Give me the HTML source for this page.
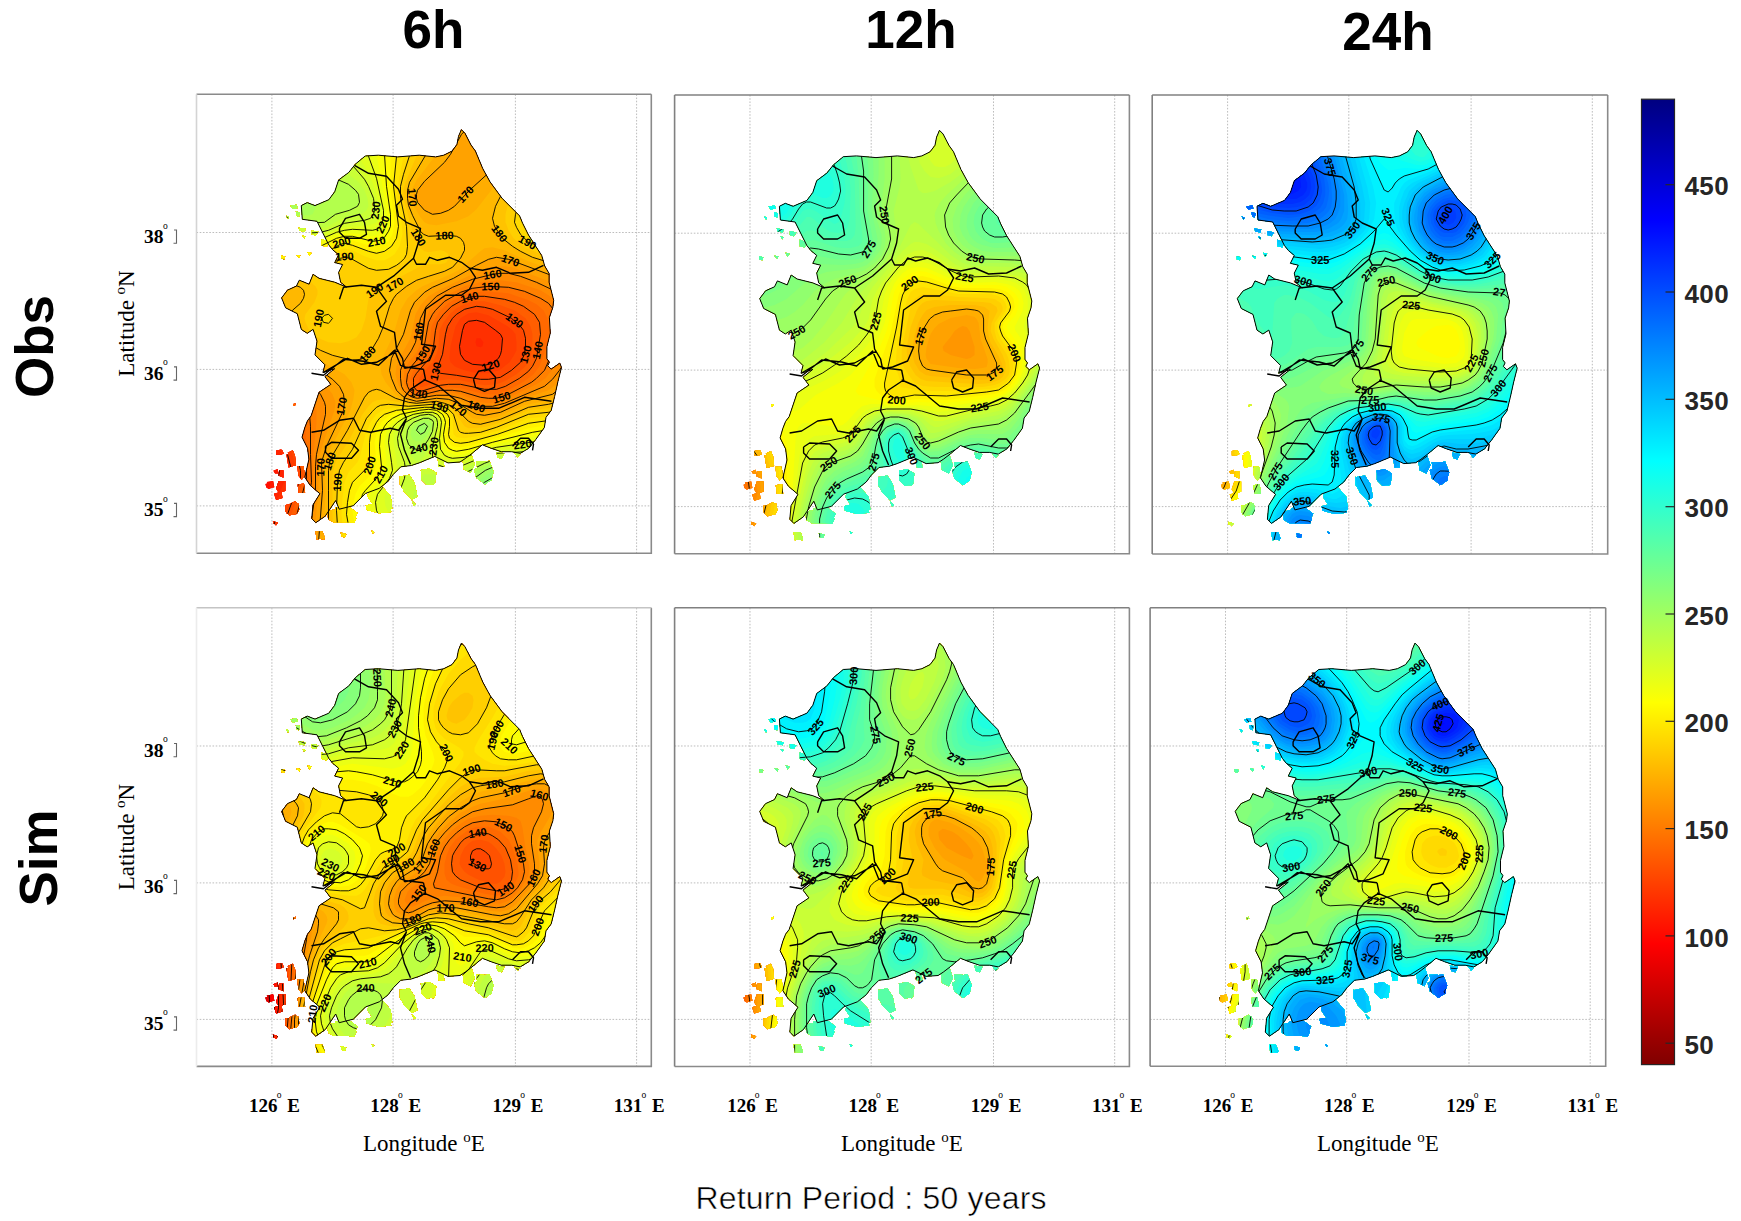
<!DOCTYPE html>
<html><head><meta charset="utf-8"><style>
html,body{margin:0;padding:0;background:#fff;width:1741px;height:1221px;overflow:hidden;position:relative}
</style></head><body>
<svg width="1741" height="1221" viewBox="0 0 1741 1221" style="position:absolute;left:0;top:0">
<defs>
<linearGradient id="cb" x1="0" y1="0" x2="0" y2="1">
<stop offset="0.0000" stop-color="#000080"/>
<stop offset="0.0312" stop-color="#00009f"/>
<stop offset="0.0625" stop-color="#0000bf"/>
<stop offset="0.0938" stop-color="#0000df"/>
<stop offset="0.1250" stop-color="#0000ff"/>
<stop offset="0.1562" stop-color="#0020ff"/>
<stop offset="0.1875" stop-color="#0040ff"/>
<stop offset="0.2188" stop-color="#0060ff"/>
<stop offset="0.2500" stop-color="#0080ff"/>
<stop offset="0.2812" stop-color="#009fff"/>
<stop offset="0.3125" stop-color="#00bfff"/>
<stop offset="0.3438" stop-color="#00dfff"/>
<stop offset="0.3750" stop-color="#00ffff"/>
<stop offset="0.4062" stop-color="#20ffdf"/>
<stop offset="0.4375" stop-color="#40ffbf"/>
<stop offset="0.4688" stop-color="#60ff9f"/>
<stop offset="0.5000" stop-color="#80ff80"/>
<stop offset="0.5312" stop-color="#9fff60"/>
<stop offset="0.5625" stop-color="#bfff40"/>
<stop offset="0.5938" stop-color="#dfff20"/>
<stop offset="0.6250" stop-color="#ffff00"/>
<stop offset="0.6562" stop-color="#ffdf00"/>
<stop offset="0.6875" stop-color="#ffbf00"/>
<stop offset="0.7188" stop-color="#ff9f00"/>
<stop offset="0.7500" stop-color="#ff8000"/>
<stop offset="0.7812" stop-color="#ff6000"/>
<stop offset="0.8125" stop-color="#ff4000"/>
<stop offset="0.8438" stop-color="#ff2000"/>
<stop offset="0.8750" stop-color="#ff0000"/>
<stop offset="0.9062" stop-color="#df0000"/>
<stop offset="0.9375" stop-color="#bf0000"/>
<stop offset="0.9688" stop-color="#9f0000"/>
<stop offset="1.0000" stop-color="#800000"/>
</linearGradient>
<clipPath id="kc"><path d="M264.9,35.3 L268.5,39.0 L274.5,50.7 L278.9,56.7 L286.3,74.4 L293.6,87.7 L305.5,103.9 L323.1,121.6 L326.1,128.9 L332.0,140.7 L345.3,161.4 L348.2,171.7 L352.6,179.1 L352.6,187.9 L357.2,206.0 L356.4,212.9 L352.9,223.2 L353.8,238.7 L350.4,252.5 L350.4,264.5 L352.9,267.9 L351.2,271.4 L354.7,274.8 L363.3,268.8 L365.0,273.1 L361.5,286.9 L358.1,302.3 L354.7,316.1 L349.5,323.0 L347.8,333.3 L339.2,345.3 L332.3,353.9 L323.7,359.1 L315.1,357.4 L304.8,357.4 L294.5,353.9 L285.9,350.5 L275.5,359.1 L268.7,364.3 L263.5,367.7 L251.5,368.6 L238.3,362.1 L222.6,368.6 L214.8,371.2 L204.3,372.5 L196.8,380.0 L191.6,387.0 L182.8,394.0 L168.9,399.2 L156.7,411.4 L142.7,414.9 L139.2,406.2 L128.7,421.9 L119.3,428.4 L115.2,424.3 L116.5,410.5 L123.4,399.4 L113.8,391.2 L108.3,382.9 L112.4,365.0 L111.0,353.9 L105.5,342.9 L108.3,333.3 L111.0,326.4 L114.6,321.6 L122.5,298.0 L134.3,290.1 L128.4,282.3 L138.2,274.4 L126.4,278.3 L128.4,270.5 L118.5,260.6 L120.5,246.9 L116.6,235.1 L110.7,239.0 L104.8,235.1 L100.8,219.4 L89.1,213.5 L85.1,203.6 L91.0,195.8 L99.9,191.8 L102.8,185.9 L112.6,189.9 L116.6,180.0 L122.5,184.0 L138.2,187.9 L150.0,192.8 L144.1,187.9 L142.1,178.1 L146.1,170.2 L138.2,168.3 L142.1,160.4 L136.2,155.5 L132.3,150.6 L126.4,138.8 L120.5,127.0 L105.8,125.0 L104.8,111.3 L110.7,108.3 L118.5,111.3 L132.3,105.4 L138.2,97.5 L142.1,85.7 L152.3,78.1 L158.8,69.9 L168.7,61.7 L181.8,60.9 L201.4,62.6 L222.7,60.9 L239.1,62.6 L247.3,60.9 L255.5,56.8 L260.4,50.3 L262.0,42.1ZM89.1,415.5 L93.4,409.5 L98.6,406.9 L102.0,410.3 L102.8,415.5 L100.3,419.8 L93.4,420.6 L90.0,418.9ZM68.9,389.7 L74.0,388.0 L75.7,393.1 L72.3,394.8 L69.8,393.1ZM76.9,376.5 L81.2,374.8 L82.0,379.1 L78.6,379.1ZM81.3,358.2 L85.6,355.6 L87.3,359.1 L83.9,360.8ZM91.2,358.5 L96.3,355.9 L98.0,360.2 L93.8,361.9ZM100.9,371.7 L106.9,371.7 L108.6,381.1 L105.2,385.4 L101.8,381.1ZM82.1,386.6 L88.9,386.6 L88.9,396.8 L82.1,398.5 L79.5,394.3ZM76.5,426.8 L81.7,428.5 L79.9,430.2 L76.5,429.4ZM26.6,395.1 L30.0,395.9 L29.1,398.5 L26.9,398.5ZM119.0,437.7 L126.8,438.7 L127.9,445.3 L120.1,444.2ZM144.6,438.6 L149.0,440.9 L147.9,443.1 L144.6,442.0ZM180.3,452.2 L182.4,453.3 L181.3,455.5ZM169.3,411.3 L178.1,409.0 L184.8,414.6 L193.6,413.4 L194.7,417.8 L182.5,419.0 L170.4,415.7ZM130.6,417.3 L137.2,415.1 L141.6,421.7 L152.6,419.5 L159.2,425.0 L150.4,428.3 L137.2,428.3 L131.7,425.0ZM203.4,381.7 L211.7,388.0 L218.0,396.4 L215.9,400.6 L207.5,396.4 L203.4,390.1ZM224.3,375.7 L232.7,377.8 L239.0,384.0 L236.9,390.4 L228.5,388.3 L225.3,382.0ZM277.5,375.1 L288.1,369.8 L296.4,375.1 L295.3,385.6 L288.1,389.7 L279.7,383.4ZM215.3,406.1 L219.5,410.2 L217.4,411.4ZM138.9,419.4 L149.4,417.3 L159.9,423.6 L157.8,428.8 L145.3,427.8ZM144.7,438.6 L149.8,439.7 L148.8,442.8 L145.7,441.7ZM279.4,366.9 L287.7,366.9 L295.9,376.5 L294.5,383.4 L287.7,390.3 L282.1,380.7ZM266.1,365.7 L272.9,367.0 L271.6,376.6 L267.4,375.3ZM94.0,111.5 L100.1,110.5 L101.2,113.6 L96.1,114.6ZM99.4,117.3 L103.5,118.3 L102.5,122.4 L99.9,121.4ZM89.4,121.5 L92.5,122.5 L91.5,124.6ZM102.1,133.4 L109.1,134.4 L108.1,137.5 L103.1,136.5ZM115.3,136.1 L121.8,137.4 L119.2,141.3 L115.3,140.1ZM105.8,141.2 L108.9,142.2 L107.9,144.3ZM84.6,161.3 L88.7,162.3 L87.6,165.3 L84.6,164.3ZM99.7,160.7 L103.8,161.2 L102.8,163.8ZM111.0,157.8 L115.0,158.8 L113.0,161.8ZM125.2,144.7 L131.7,147.3 L130.4,152.6 L125.2,151.2ZM108.9,113.5 L117.0,115.6 L116.0,120.6 L110.0,121.7ZM49.8,121.4 L51.4,122.0 L50.8,123.6 L49.5,123.3ZM96.4,309.9 L98.8,309.0 L99.1,310.6 L96.7,311.8ZM224.7,375.6 L232.9,374.2 L239.8,378.4 L238.4,389.4 L230.2,390.8 L224.7,385.3ZM286.1,367.8 L292.9,366.5 L297.1,377.5 L294.4,385.8 L288.9,389.9 L284.7,380.2ZM204.4,382.1 L212.7,380.5 L218.1,388.7 L220.9,402.5 L215.4,405.3 L207.2,397.0ZM173.6,393.8 L184.6,391.0 L194.2,402.0 L195.7,414.4 L187.4,415.8 L176.3,410.3 L170.8,402.0ZM139.1,413.2 L150.1,410.5 L161.1,418.8 L158.4,424.3 L145.9,425.6 L136.3,421.5ZM241.0,363.0 L246.5,361.6 L247.8,372.6 L242.3,372.6ZM267.3,363.3 L274.2,357.8 L278.3,370.2 L274.2,378.5 L268.7,375.7ZM299.7,357.6 L308.0,358.9 L305.2,364.4 L301.1,363.1ZM316.9,357.4 L323.8,360.1 L321.0,362.9ZM118.9,436.9 L125.8,436.9 L128.5,443.8 L120.3,445.2ZM144.2,438.3 L149.8,439.6 L148.4,442.4 L145.0,441.7ZM175.0,436.3 L177.8,437.7 L176.4,439.1ZM180.1,451.9 L182.9,453.3 L181.5,455.3ZM79.6,356.1 L85.0,355.1 L83.9,360.4 L79.6,360.4ZM88.8,410.8 L101.6,408.6 L102.7,415.0 L93.1,421.4 L88.8,417.1ZM70.3,387.6 L76.6,386.6 L77.8,393.0 L72.4,394.0ZM77.5,399.4 L85.0,397.2 L86.0,403.7 L79.6,405.8ZM89.9,360.3 L98.4,360.3 L99.5,371.0 L92.0,373.1ZM82.7,375.9 L87.0,375.9 L87.0,383.4 L81.7,381.2ZM101.1,390.2 L107.5,389.1 L108.6,398.7 L102.2,398.7ZM76.2,426.9 L80.5,429.1 L79.5,431.2Z"/></clipPath>
</defs>
<text x="433.5" y="48.3" text-anchor="middle" style="font-family:&quot;Liberation Sans&quot;,sans-serif;font-weight:bold;font-size:53px">6h</text>
<text x="911" y="47.8" text-anchor="middle" style="font-family:&quot;Liberation Sans&quot;,sans-serif;font-weight:bold;font-size:53px">12h</text>
<text x="1388" y="50.1" text-anchor="middle" style="font-family:&quot;Liberation Sans&quot;,sans-serif;font-weight:bold;font-size:53px">24h</text>
<text transform="translate(52.8,346.5) rotate(-90)" text-anchor="middle" style="font-family:&quot;Liberation Sans&quot;,sans-serif;font-weight:bold;font-size:53px">Obs</text>
<text transform="translate(56.8,858) rotate(-90)" text-anchor="middle" style="font-family:&quot;Liberation Sans&quot;,sans-serif;font-weight:bold;font-size:53px">Sim</text>
<g transform="translate(196.5,94.3)">
<line x1="75.4" y1="0" x2="75.4" y2="458.99999999999994" stroke="#bdbdbd" stroke-width="1" stroke-dasharray="1.6,1.6"/>
<line x1="196.6" y1="0" x2="196.6" y2="458.99999999999994" stroke="#bdbdbd" stroke-width="1" stroke-dasharray="1.6,1.6"/>
<line x1="318.9" y1="0" x2="318.9" y2="458.99999999999994" stroke="#bdbdbd" stroke-width="1" stroke-dasharray="1.6,1.6"/>
<line x1="440.1" y1="0" x2="440.1" y2="458.99999999999994" stroke="#bdbdbd" stroke-width="1" stroke-dasharray="1.6,1.6"/>
<line x1="0" y1="138.2" x2="454.79999999999995" y2="138.2" stroke="#bdbdbd" stroke-width="1" stroke-dasharray="1.6,1.6"/>
<line x1="0" y1="275.1" x2="454.79999999999995" y2="275.1" stroke="#bdbdbd" stroke-width="1" stroke-dasharray="1.6,1.6"/>
<line x1="0" y1="411.6" x2="454.79999999999995" y2="411.6" stroke="#bdbdbd" stroke-width="1" stroke-dasharray="1.6,1.6"/>
<path d="M0 458.99999999999994H454.79999999999995V0" fill="none" stroke="#8a8a8a" stroke-width="1.6"/>
<path d="M0 0H454.79999999999995" fill="none" stroke="#8a8a8a" stroke-width="1.6"/>
<path d="M0 0V458.99999999999994" fill="none" stroke="#d4d4d4" stroke-width="1.6"/>
<g clip-path="url(#kc)">
<rect x="60" y="20" width="330" height="430" fill="#ff0300"/>
<path d="M60 20l328 0l0 428l-328 0l0-41l5-15l2-12l-2-12l-5-11l0-337z" fill="#ff0e00"/>
<path d="M60 20l328 0l0 428l-328 0l0-22l13-34l2-8l0-8l-1-8l-3-8l-11-17l0-323z" fill="#ff1a00"/>
<path d="M60 20l328 0l0 428l-328 0l0-3l5-13l16-44l2-12l-1-8l-6-13l-8-13l-8-10l0-312z" fill="#ff2500"/>
<path d="M60 20l328 0l0 428l-323 0l10-28l14-36l1-8l-3-12l-7-16l-8-12l-12-14l0-302zM280 244l-1 4l1 4l4 1l2-1l1-4l-3-4l-4 0z" fill="#ff3000"/>
<path d="M60 20l328 0l0 428l-316 0l9-28l12-32l3-8l-1-8l-3-8l-8-20l-10-16l-14-16l0-292zM272 227l-4 3l-2 6l-3 16l1 8l4 6l8 4l12 1l8-2l6-5l2-4l1-4l1-12l-2-4l-5-4l-11-8l-8-2l-8 1z" fill="#ff3c00"/>
<path d="M60 20l328 0l0 428l-311 0l9-28l12-32l2-8l0-5l-4-14l-10-25l-10-16l-16-17l0-283zM272 219l-8 5l-5 8l-5 20l-1 12l1 4l4 4l2 1l8 3l12 3l12 0l11-3l10-8l5-8l2-4l0-8l-1-8l-3-4l-5-4l-19-11l-12-3l-8 1z" fill="#ff4700"/>
<path d="M60 20l328 0l0 428l-305 0l7-24l13-36l1-8l-8-34l-7-18l-11-16l-18-17l0-275zM268 215l-8 5l-4 4l-5 8l-2 8l-3 20l-6 16l4 3l16 2l24 4l8 0l12-2l11-7l9-8l4-8l1-8l0-8l-2-8l-3-4l-9-8l-19-9l-8-2l-8-1l-12 3z" fill="#ff5200"/>
<path d="M60 20l328 0l0 428l-300 0l7-28l11-32l1-8l-7-38l-6-18l-5-8l-6-8l-23-22l0-266zM276 207l-8 3l-8 4l-7 6l-6 8l-4 8l-1 16l-2 8l-4 8l-11 12l-2 4l-1 4l2 5l4-1l16-6l8-1l12 1l24 5l12-1l8-3l12-7l8-7l4-5l3-8l1-12l0-8l-2-8l-5-8l-11-8l-14-5l-16-4l-12 0z" fill="#ff5e00"/>
<path d="M60 20l328 0l0 428l-295 0l6-24l9-32l2-8l0-8l-6-40l-5-16l-5-8l-6-8l-12-12l-16-14l0-258zM272 203l-8 4l-9 5l-8 8l-6 8l-2 8l-2 16l-2 8l-3 5l-12 14l-3 5l0 4l0 4l3 4l4 1l4-1l16-5l8-1l12 0l24 5l12 0l9-3l14-8l9-7l4-5l4-8l4-24l-1-12l-5-8l-11-8l-9-4l-10-3l-20-3l-8 0l-8 1z" fill="#ff6900"/>
<path d="M60 20l328 0l0 428l-290 0l12-52l2-12l-3-48l-2-12l-4-12l-9-12l-34-31l0-249zM272 199l-12 5l-8 5l-8 7l-5 8l-4 8l-2 20l-3 8l-13 16l-3 8l0 8l2 4l4 3l4 0l16-4l12-2l12 1l24 6l12 0l11-4l17-9l9-7l6-8l3-8l4-12l3-16l-2-12l-4-8l-7-6l-8-4l-20-7l-12-1l-12-1l-16 2z" fill="#ff7400"/>
<path d="M60 20l328 0l0 428l-285 0l12-60l-1-28l0-28l-1-12l-4-12l-6-8l-12-12l-31-28l0-240zM292 192l-16 2l-12 4l-16 9l-9 9l-3 4l-4 8l-5 28l-2 4l-10 12l-4 8l-1 8l1 4l2 4l3 3l4 2l4 0l20-5l12 0l8 1l20 6l8 1l8 0l12-4l23-12l5-4l8-8l7-16l6-20l0-8l-1-8l-4-10l-4-5l-8-5l-16-7l-16-4l-20-1z" fill="#ff8000"/>
<path d="M60 20l328 0l0 428l-280 0l9-56l0-32l3-32l0-12l-2-8l-8-12l-50-46l0-230zM284 188l-16 4l-16 8l-12 8l-7 8l-5 12l-5 24l-3 6l-8 10l-4 8l-1 8l1 8l2 4l4 4l6 2l4 1l16-4l12-1l12 2l20 8l8 1l8-1l11-4l29-14l9-6l6-8l10-20l4-12l1-8l-1-8l-1-8l-4-8l-3-4l-9-7l-8-5l-24-8l-16-2l-20 2z" fill="#ff8b00"/>
<path d="M60 20l328 0l0 428l-276 0l7-52l0-24l1-12l8-36l1-12l-3-8l-6-9l-40-35l-20-21l0-219zM296 180l-20 5l-20 8l-16 9l-10 10l-6 12l-5 24l-4 8l-8 12l-3 8l0 8l1 8l2 4l4 4l5 3l5 1l19-3l12 0l12 3l20 8l12 0l12-3l40-17l8-7l7-9l5-8l5-12l4-16l1-8l-1-8l-2-8l-5-8l-6-7l-7-5l-17-8l-16-6l-12-3l-8 0l-8 1z" fill="#ff9600"/>
<path d="M60 20l328 0l0 428l-271 0l5-52l0-24l0-8l5-16l11-32l1-8l-3-8l-6-8l-42-34l-10-10l-18-22l0-206zM300 172l-8 1l-12 5l-36 17l-12 7l-8 9l-5 9l-5 24l-11 20l-3 8l-1 8l2 8l3 8l4 5l6 3l6 1l20-2l12 0l12 4l16 8l8 2l8-1l12-3l20-9l24-8l8-6l9-10l5-8l6-12l4-12l2-8l-1-16l-2-8l-4-8l-6-8l-5-4l-13-8l-39-15l-8-1l-8 0z" fill="#ffa200"/>
<path d="M60 20l328 0l0 188l-5-8l-7-7l-7-5l-9-5l-48-18l-12-2l-8 2l-12 6l-23 13l-21 9l-8 5l-6 6l-4 4l-4 8l-7 24l-12 24l-2 12l2 8l5 12l4 4l5 4l11 3l20-3l12 1l8 3l16 10l4 2l8 1l16-3l24-11l28-7l10-8l8-8l8-12l6-11l0 187l-266 0l4-52l-1-28l5-16l17-36l1-4l0-8l-2-8l-6-8l-10-8l-26-18l-12-10l-10-12l-14-20l-8-8l0-192zM276 31l-4 2l-7 7l-11 20l-6 8l-20 19l-7 9l-1 4l0 4l1 4l7 8l4 2l4 2l8-1l8-3l6-4l15-16l22-20l5-8l3-8l0-8l-1-8l-3-8l-4-4l-7-3l-4-1l-8 3z" fill="#ffad00"/>
<path d="M60 20l199 0l-7 13l-12 27l-20 26l-4 8l-2 6l0 4l2 6l8 13l4 5l4 2l8 1l20-4l12-5l8-7l28-36l7-11l5-16l1-16l-1-8l-2-8l70 0l0 174l-8-7l-12-7l-36-13l-24-11l-12-3l-8 1l-4 3l-22 19l-10 5l-26 11l-6 4l-9 8l-7 12l-7 24l-11 24l-2 8l1 8l4 8l10 12l6 4l11 4l8 0l16-2l12 2l10 4l14 12l8 1l16-2l28-12l24-5l8-3l8-5l7-6l13-16l0 172l-261 0l2-52l-1-20l1-8l3-10l22-42l3-12l1-8l-3-8l-7-8l-32-18l-8-6l-9-8l-7-8l-5-8l-4-8l-5-16l-5-4l-13-5l0-179z" fill="#ffb800"/>
<path d="M60 20l184 0l-12 36l-19 32l-2 8l0 8l1 7l4 10l8 16l3 3l5 2l20-1l8 1l4 2l3 4l1 4l0 4l-4 8l-8 9l-8 4l-16 5l-12 4l-10 6l-10 8l-3 4l-4 8l-8 24l-5 11l-8 12l-4 4l-4 2l-4 1l-8-1l-12-3l-12-4l-16-9l-9-9l-7-12l-1-8l1-4l8-7l3-5l1-4l-1-4l-3-3l-8-3l-20 1l-16-2l0-169zM338 20l50 0l0 163l-16-9l-36-11l-12-6l-8-5l-10-8l-8-12l-2-8l3-12l6-12l17-24l10-20l5-20l1-16zM387 288l1-1l0 161l-256 0l0-52l0-20l1-8l3-7l15-25l17-33l4-5l4-2l4-1l4 1l15 8l13 4l8 1l20-2l8 2l8 3l4 3l12 12l4 2l8 1l20-5l28-12l20-3l8-2l14-8l13-12z" fill="#ffc300"/>
<path d="M60 20l172 0l-8 32l-15 36l-2 8l0 8l11 40l2 5l4 5l4 3l4 1l12-2l4 1l4 3l0 4l-2 4l-2 1l-4 1l-12 0l-8 2l-46 24l-4 4l-2 4l-3 20l-4 12l-5 7l-8 4l-8 2l-12-1l-12-5l-8-8l-3-7l-1-4l1-4l9-12l3-8l0-4l-2-4l-5-4l-6-3l-8-2l-28-1l-12-1l0-161zM355 20l33 0l0 153l-16-7l-32-8l-12-5l-11-9l-5-8l-3-8l0-8l3-12l5-8l20-28l9-16l5-16l4-20zM388 296l0 152l-251 0l-1-28l0-40l2-8l2-6l12-19l14-27l6-8l4-4l4-2l8-1l24 5l8 0l16-1l8 0l8 3l5 4l11 16l4 2l8 0l12-2l12-4l28-12l20-2l12-3l12-6l12-9z" fill="#ffcf00"/>
<path d="M60 20l161 0l-5 32l-9 28l-3 12l0 12l6 28l1 20l-1 8l-2 4l-4 4l-4 3l-8 4l-12 1l-8-2l-18-10l-6-1l-4 1l-13 12l-7 4l-24-3l-28-1l-12-2l0-154zM372 20l16 0l0 143l-16-6l-28-5l-12-4l-8-8l-4-7l-2-5l1-8l4-12l25-32l12-20l7-16l5-20zM125 224l3-3l4-1l4 4l-3 4l-1 1l-5-1l-2-4zM387 304l1-1l0 145l-246 0l-2-32l1-28l2-12l4-8l9-13l14-31l6-7l4-4l4-2l8-1l20 2l24-2l8 1l8 4l5 5l5 16l2 2l4 1l4 0l12-1l16-5l32-13l20-2l12-2l12-5l11-7z" fill="#ffda00"/>
<path d="M60 20l151 0l-2 32l-8 40l0 12l4 24l1 12l-3 12l-5 8l-6 4l-4 2l-8 0l-12-4l-12-6l-8-2l-6 2l-18 13l-8 2l-32 0l-24-4l0-147zM387 28l1-3l0 126l-16-4l-24-3l-8-3l-4-2l-4-3l-3-8l1-8l4-8l27-32l11-16l8-16l7-20zM227 312l13 0l4 1l6 3l4 4l2 4l1 16l3 3l8 1l12-2l23-6l29-12l24-2l12-3l8-3l12-6l0 138l-240 0l-3-28l1-16l2-16l4-10l9-10l2-4l6-24l5-12l6-8l8-5l8-1l31-2z" fill="#ffe500"/>
<path d="M60 20l141 0l0 32l-4 40l5 40l-2 12l-5 8l-7 5l-8 2l-8-2l-16-6l-8-2l-4 1l-4 2l-16 10l-8 3l-8 1l-24-1l-24-4l0-141zM387 72l1-2l0 66l-29-8l-6-4l0-4l4-8l19-24l11-16zM200 316l32-3l8 0l4 2l7 5l2 4l0 8l-1 8l1 4l5 4l6 1l8-1l29-8l31-11l36-5l11-4l9-4l0 132l-233 0l-5-28l1-12l2-12l3-8l16-16l1-4l0-16l1-8l2-8l4-8l3-4l5-4l12-4z" fill="#fff100"/>
<path d="M60 20l130 0l4 36l0 40l4 32l-2 12l-4 7l-4 3l-8 2l-8-1l-20-6l-8 1l-20 11l-8 3l-8 1l-12 0l-12-1l-12-2l-12-3l0-135zM215 316l17-2l8 1l4 1l4 4l2 4l1 8l-2 8l1 4l2 4l4 4l8 1l12-2l56-17l36-6l20-6l0 126l-226 0l-5-24l-1-8l1-8l2-8l4-8l12-12l3-4l2-8l-2-20l3-12l4-8l7-6l8-3l15-3z" fill="#fffc00"/>
<path d="M60 20l119 0l9 40l2 32l4 28l0 12l-2 5l-4 6l-4 3l-8 1l-20-5l-8 0l-8 2l-20 10l-8 2l-8 1l-12-1l-12-2l-20-6l0-128zM223 316l13-1l4 1l6 4l2 4l1 4l-2 12l1 8l4 6l4 2l4 1l12-2l24-7l40-10l36-6l16-5l0 121l-218 0l-6-24l-1-8l1-8l2-8l3-4l11-12l3-4l2-4l0-8l-2-20l3-12l5-8l5-4l8-4l19-4z" fill="#f7ff08"/>
<path d="M60 20l107 0l13 40l9 48l2 16l-1 8l-3 4l-5 4l-6 2l-20-3l-8 0l-8 2l-20 9l-12 2l-12 0l-12-2l-12-3l-12-5l0-122zM211 320l21-4l8 2l3 2l3 4l1 4l-2 16l1 8l2 3l4 3l8 3l8-1l32-10l40-8l28-4l20-5l0 115l-209 0l-7-28l-1-8l1-8l4-8l11-12l3-8l0-8l-2-20l2-12l6-8l5-4l10-4z" fill="#ebff14"/>
<path d="M60 20l93 0l19 42l8 22l7 32l0 8l-3 8l-4 3l-4 1l-20-1l-8 1l-8 2l-16 7l-16 3l-12-1l-12-2l-12-4l-12-6l0-115zM217 320l15-2l4 0l5 2l3 4l1 4l-2 16l1 11l4 6l4 2l4 1l12-1l20-7l12-3l68-10l20-5l0 110l-198 0l-2-12l-8-20l-1-8l2-8l12-16l3-8l-1-8l-3-20l1-8l4-8l4-4l6-4l10-4z" fill="#e0ff1f"/>
<path d="M60 20l76 0l32 52l8 16l5 16l2 12l-1 8l-2 4l-4 2l-4 1l-24 2l-24 9l-16 2l-12-1l-12-3l-12-6l-12-7l0-107zM223 320l9-1l4 0l6 5l1 4l0 4l-3 16l0 8l1 4l3 4l4 3l4 1l12 0l24-9l12-3l28-2l44-7l16-4l0 105l-188 0l0-16l-2-4l-9-16l-1-8l1-4l9-12l3-8l0-8l-4-24l0-8l4-8l4-4l7-4l11-4z" fill="#d5ff2a"/>
<path d="M60 20l51 0l5 4l12 13l22 27l18 21l6 11l4 12l0 8l-2 6l-4 3l-4 1l-16 2l-8 2l-16 7l-8 2l-12 0l-12-1l-12-4l-11-6l-10-8l-3-3l0-97zM216 324l8-3l8-1l4 1l4 3l1 4l0 4l-5 20l0 10l0 2l4 6l8 3l8 1l8-2l24-10l12-3l36-2l32-4l20-4l0 99l-179 0l0-12l0-8l-8-20l0-4l1-4l6-16l1-8l-1-8l-6-16l-1-8l2-8l2-4l4-4l7-4z" fill="#c9ff36"/>
<path d="M75 36l9-1l12 2l8 4l12 8l30 27l14 10l4 4l4 6l3 8l1 8l-2 4l-2 2l-4 2l-20 5l-12 7l-8 2l-8 1l-12-1l-9-2l-9-4l-12-8l-7-8l-7-10l0-55l7-7l8-4zM221 324l11-2l6 2l1 4l0 4l-3 11l-8 18l-4 5l-4 1l-8-7l-3-4l-2-4l-2-8l2-8l2-4l4-4l8-4zM379 356l9-2l0 94l-171 0l1-16l-2-28l4-14l4-6l4-4l16 0l12-1l12-4l20-10l12-3l36-1l43-5z" fill="#beff41"/>
<path d="M81 64l7-2l12 1l12 6l24 14l16 7l7 6l3 4l1 8l-2 4l-8 4l-14 4l-11 8l-20 1l-8-2l-8-3l-6-4l-8-8l-5-8l-3-12l-1-8l3-10l4-6l5-4zM227 324l5 0l4 2l1 2l-1 9l-4 8l-4 6l-4 3l-4 1l-4-1l-4-4l-2-6l1-8l2-4l4-4l10-4zM387 360l1 0l0 88l-163 0l2-32l1-8l4-9l3-3l5-4l24-11l24-12l8-3l12-1l40-1l39-4z" fill="#b3ff4c"/>
<path d="M92 88l4-1l8 0l12 4l6 5l1 4l-1 4l-4 12l-2 4l-4 1l-8 0l-8-4l-5-5l-3-4l-2-8l2-8l4-4zM222 328l6-2l4 0l2 2l1 4l-3 7l-4 5l-4 3l-4 0l-4-2l-2-5l1-4l2-4l5-4zM368 368l20-2l0 82l-156 0l4-28l2-8l4-8l8-8l31-20l11-5l8-2l40 0l28-1z" fill="#a7ff58"/>
<path d="M222 332l6-3l3 3l-3 6l-4 2l-4-4l2-4zM382 372l6-1l0 77l-148 0l4-24l2-8l4-8l11-12l28-20l7-3l4 0l44 1l38-2z" fill="#9cff63"/>
<path d="M291 380l5-2l8-1l48 2l36-2l0 71l-141 0l4-20l6-16l6-8l7-8l10-8l11-8z" fill="#91ff6e"/>
<path d="M295 384l5-2l8 0l44 3l36-2l0 65l-133 0l4-20l7-16l6-8l7-8l9-8l7-4z" fill="#85ff7a"/>
<path d="M306 388l50 3l32-1l0 58l-125 0l3-12l3-12l9-16l7-8l7-7l8-4l6-1z" fill="#7aff85"/>
<path d="M305 396l11-1l44 2l28-1l0 52l-116 0l5-20l7-14l4-6l8-8l9-4z" fill="#6eff90"/>
<path d="M312 404l12-1l40 1l24 0l0 44l-107 0l5-16l6-13l8-9l4-3l8-3z" fill="#63ff9c"/>
<path d="M334 412l54-1l0 37l-96 0l5-16l5-8l4-4l10-5l8-2l10-1z" fill="#58ffa7"/>
<path d="M385 420l3 0l0 28l-84 0l4-8l4-6l7-6l5-2l16-4l45-2z" fill="#4dffb2"/>
<path d="M357 432l31-3l0 19l-68 0l8-7l8-5l8-2l13-2z" fill="#41ffbe"/>
<path d="M385 440l3 0l0 8l-39 0l13-4l23-4z" fill="#36ffc9"/>
<g fill="none" stroke="#000" stroke-width="0.9">
<path d="M60 407l5-15l2-12l-2-12l-5-11"/>
<path d="M60 445l21-57l2-12l-1-8l-6-13l-8-13l-8-10"/>
<path d="M272 227l-4 3l-2 6l-3 16l1 8l4 6l8 4l12 1l8-2l6-5l2-4l1-4l1-12l-2-4l-5-4l-11-8l-8-2l-8 1M72 448l10-32l13-32l0-8l-4-16l-9-20l-10-15l-12-13"/>
<path d="M268 215l-8 5l-4 4l-5 8l-2 8l-3 20l-6 16l4 3l16 2l24 4l8 0l12-2l11-7l9-8l4-8l1-8l0-8l-2-8l-3-4l-9-8l-19-9l-8-2l-8-1l-12 3M83 448l8-28l13-36l0-8l-8-30l-8-20l-10-14l-18-17"/>
<path d="M272 203l-8 4l-9 5l-8 8l-6 8l-2 8l-2 16l-2 8l-3 5l-12 14l-3 5l0 4l0 4l3 4l4 1l4-1l16-5l8-1l12 0l24 5l12 0l9-3l14-8l9-7l4-5l4-8l4-24l-1-12l-5-8l-11-8l-9-4l-10-3l-20-3l-8 0l-8 1M93 448l17-64l0-8l-6-40l-5-16l-7-11l-11-13l-21-18"/>
<path d="M292 192l-16 2l-12 4l-16 9l-9 9l-3 4l-4 8l-5 28l-2 4l-10 12l-4 8l-1 8l1 4l2 4l3 3l4 2l4 0l20-5l12 0l8 1l20 6l8 1l8 0l12-4l23-12l5-4l8-8l7-16l6-20l0-8l-1-8l-4-10l-4-5l-8-5l-16-7l-16-4l-20-1M103 448l12-60l-1-28l0-28l-1-12l-4-12l-6-8l-12-12l-31-28"/>
<path d="M296 180l-20 5l-20 8l-16 9l-10 10l-6 12l-5 24l-4 8l-8 12l-3 8l0 8l1 8l2 4l4 4l5 3l5 1l19-3l12 0l12 3l20 8l12 0l12-3l40-17l8-7l7-9l5-8l5-12l4-16l1-8l-1-8l-2-8l-5-8l-6-7l-7-5l-17-8l-16-6l-12-3l-8 0l-8 1M112 448l7-52l0-24l1-12l9-40l0-8l-1-4l-4-8l-7-8l-33-28l-24-25"/>
<path d="M276 31l-4 2l-7 7l-11 20l-6 8l-20 19l-7 9l-1 4l0 4l1 4l7 8l4 2l4 2l8-1l8-3l6-4l15-16l22-20l5-8l3-8l0-8l-1-8l-3-8l-4-4l-7-3l-4-1l-8 3M388 208l-5-8l-7-7l-7-5l-9-5l-48-18l-12-2l-8 2l-12 6l-23 13l-21 9l-8 5l-6 6l-4 4l-4 8l-7 24l-12 24l-2 12l2 8l5 12l4 4l5 4l11 3l20-3l12 1l8 3l16 10l4 2l8 1l16-3l24-11l28-7l10-8l8-8l8-12l6-11M122 448l4-52l-1-28l5-16l17-36l1-8l-1-8l-4-8l-7-7l-28-20l-16-13l-10-12l-14-20l-8-8"/>
<path d="M244 20l-12 36l-19 32l-2 8l0 8l1 7l4 10l8 16l3 3l5 2l20-1l8 1l4 2l3 4l1 4l0 4l-4 8l-8 9l-8 4l-16 5l-12 4l-10 6l-10 8l-3 4l-4 8l-6 20l-5 12l-6 10l-8 9l-4 2l-8 1l-20-5l-12-5l-7-4l-6-4l-7-7l-6-9l-3-8l0-4l1-4l8-7l3-5l1-4l-1-4l-3-3l-8-3l-20 1l-16-2M388 183l-16-9l-36-11l-12-6l-8-5l-10-8l-8-12l-2-8l3-12l6-12l17-24l10-20l5-20l1-16M132 448l0-52l0-20l1-8l3-7l15-25l17-33l4-5l4-2l4-1l4 1l15 8l13 4l8 1l20-2l8 2l8 3l4 3l12 12l4 2l8 1l20-5l28-12l20-3l8-2l14-8l14-13"/>
<path d="M221 20l-5 32l-9 28l-3 12l0 12l6 28l1 20l-1 8l-2 4l-4 4l-4 3l-8 4l-12 1l-8-2l-18-10l-6-1l-4 1l-13 12l-7 4l-24-3l-28-1l-12-2M388 163l-16-6l-28-5l-12-4l-8-8l-4-7l-2-5l1-8l4-12l25-32l12-20l7-16l5-20M125 224l3-3l4-1l4 4l-3 4l-1 1l-5-1l-2-4M142 448l-2-32l1-28l2-12l4-8l9-13l14-31l6-7l4-4l4-2l8-1l20 2l24-2l8 1l8 4l5 5l5 16l2 2l4 1l4 0l12-1l16-5l32-13l20-2l12-2l12-5l12-8"/>
<path d="M201 20l0 32l-4 40l5 40l-2 12l-5 8l-7 5l-8 2l-8-2l-16-6l-8-2l-4 1l-4 2l-16 10l-8 3l-8 1l-24-1l-24-4M388 136l-29-8l-6-4l0-4l4-8l19-24l12-18M155 448l-5-28l1-12l2-12l3-8l16-16l1-4l0-20l1-8l6-12l3-4l5-4l12-4l28-3l8 0l8 2l7 5l2 4l0 8l-1 8l1 4l5 4l6 1l8-1l29-8l31-11l36-5l11-4l9-4"/>
<path d="M179 20l9 40l2 32l4 28l0 12l-2 5l-4 6l-4 3l-8 1l-20-5l-8 0l-8 2l-20 10l-8 2l-8 1l-12-1l-12-2l-20-6M170 448l-6-24l-1-8l1-8l2-8l3-4l11-12l4-6l1-6l-2-20l1-12l4-8l3-4l5-4l8-4l19-4l9-1l8 1l6 4l2 4l1 4l-2 12l1 8l4 6l4 2l4 1l12-2l24-7l40-10l36-6l16-5"/>
<path d="M153 20l19 42l8 22l7 32l0 8l-3 8l-4 3l-4 1l-20-1l-8 1l-8 2l-16 7l-16 3l-12-1l-12-2l-12-4l-12-6M190 448l-2-12l-8-20l-1-8l2-8l12-16l3-8l-1-8l-3-20l1-8l4-8l4-4l6-4l10-4l11-2l8 0l5 2l3 4l1 4l-2 16l1 11l4 6l4 2l4 1l12-1l20-7l12-3l68-10l20-5"/>
<path d="M111 20l17 17l22 27l18 21l4 7l5 12l1 8l0 4l-1 4l-3 4l-6 2l-20 3l-16 7l-8 2l-16 1l-16-2l-12-5l-12-8l-8-7M209 448l0-12l0-8l-8-20l0-4l1-4l6-16l1-8l-1-8l-6-16l-1-8l2-8l2-4l4-4l7-4l8-3l8-1l4 1l4 3l1 4l0 4l-5 20l0 10l0 2l4 6l8 3l8 1l8-2l24-10l12-3l36-2l32-4l20-4"/>
<path d="M81 64l7-2l12 1l12 6l24 14l16 7l7 6l3 4l1 8l-2 4l-8 4l-14 4l-11 8l-20 1l-8-2l-8-3l-6-4l-8-8l-5-8l-3-12l-1-8l3-10l4-6l5-4M227 324l5 0l4 2l1 2l-1 9l-4 8l-4 6l-4 3l-4 1l-4-1l-4-4l-2-6l1-8l2-4l4-4l10-4M225 448l2-32l1-8l4-9l3-3l5-4l24-11l24-12l8-3l12-1l40-1l40-4"/>
<path d="M222 332l6-3l3 3l-3 6l-4 2l-4-4l2-4M240 448l4-24l2-8l4-8l11-12l28-20l7-3l4 0l48 1l20-1l20-2"/>
<path d="M255 448l4-20l7-16l6-8l7-8l9-8l7-4l5-2l8 0l44 3l36-2"/>
<path d="M272 448l4-17l7-15l9-12l8-6l8-3l8 0l44 2l28-1"/>
<path d="M292 448l3-12l5-9l8-8l8-4l16-3l56-1"/>
<path d="M320 448l9-8l11-5l16-3l32-3"/>
</g>
</g>
<g style="font-family:&quot;Liberation Sans&quot;,sans-serif;font-weight:bold;font-size:11px" text-anchor="middle">
<text transform="translate(179,116) rotate(-84)" y="4">230</text>
<text transform="translate(186,130) rotate(-66)" y="4">220</text>
<text transform="translate(180,147) rotate(-11)" y="4">210</text>
<text transform="translate(145,148) rotate(-16)" y="4">200</text>
<text transform="translate(148,162) rotate(-3)" y="4">190</text>
<text transform="translate(216,103) rotate(85)" y="4">170</text>
<text transform="translate(222,143) rotate(58)" y="4">180</text>
<text transform="translate(248,141) rotate(-3)" y="4">180</text>
<text transform="translate(269,100) rotate(-48)" y="4">170</text>
<text transform="translate(303,139) rotate(53)" y="4">180</text>
<text transform="translate(331,148) rotate(29)" y="4">190</text>
<text transform="translate(314,166) rotate(20)" y="4">170</text>
<text transform="translate(296,180) rotate(-9)" y="4">160</text>
<text transform="translate(294,192) rotate(-2)" y="4">150</text>
<text transform="translate(273,203) rotate(-15)" y="4">140</text>
<text transform="translate(318,226) rotate(36)" y="4">130</text>
<text transform="translate(329,260) rotate(-75)" y="4">130</text>
<text transform="translate(341,256) rotate(-79)" y="4">140</text>
<text transform="translate(294,271) rotate(-18)" y="4">120</text>
<text transform="translate(226,260) rotate(-58)" y="4">150</text>
<text transform="translate(222,237) rotate(-80)" y="4">160</text>
<text transform="translate(239,277) rotate(-76)" y="4">130</text>
<text transform="translate(222,299) rotate(7)" y="4">140</text>
<text transform="translate(122,224) rotate(-79)" y="4">190</text>
<text transform="translate(171,260) rotate(-47)" y="4">180</text>
<text transform="translate(145,312) rotate(-79)" y="4">170</text>
<text transform="translate(243,312) rotate(15)" y="4">190</text>
<text transform="translate(262,314) rotate(40)" y="4">170</text>
<text transform="translate(280,312) rotate(19)" y="4">160</text>
<text transform="translate(305,303) rotate(-17)" y="4">150</text>
<text transform="translate(222,354) rotate(-13)" y="4">240</text>
<text transform="translate(326,350) rotate(-8)" y="4">220</text>
<text transform="translate(124,373) rotate(-89)" y="4">170</text>
<text transform="translate(133,367) rotate(-72)" y="4">180</text>
<text transform="translate(141,388) rotate(-86)" y="4">190</text>
<text transform="translate(173,371) rotate(-72)" y="4">200</text>
<text transform="translate(184,380) rotate(-61)" y="4">210</text>
<text transform="translate(178,196) rotate(-34)" y="4">190</text>
<text transform="translate(198,190) rotate(-31)" y="4">170</text>
<text transform="translate(237,352) rotate(-82)" y="4">230</text>
</g>
<path d="M264.9,35.3 L268.5,39.0 L274.5,50.7 L278.9,56.7 L286.3,74.4 L293.6,87.7 L305.5,103.9 L323.1,121.6 L326.1,128.9 L332.0,140.7 L345.3,161.4 L348.2,171.7 L352.6,179.1 L352.6,187.9 L357.2,206.0 L356.4,212.9 L352.9,223.2 L353.8,238.7 L350.4,252.5 L350.4,264.5 L352.9,267.9 L351.2,271.4 L354.7,274.8 L363.3,268.8 L365.0,273.1 L361.5,286.9 L358.1,302.3 L354.7,316.1 L349.5,323.0 L347.8,333.3 L339.2,345.3 L332.3,353.9 L323.7,359.1 L315.1,357.4 L304.8,357.4 L294.5,353.9 L285.9,350.5 L275.5,359.1 L268.7,364.3 L263.5,367.7 L251.5,368.6 L238.3,362.1 L222.6,368.6 L214.8,371.2 L204.3,372.5 L196.8,380.0 L191.6,387.0 L182.8,394.0 L168.9,399.2 L156.7,411.4 L142.7,414.9 L139.2,406.2 L128.7,421.9 L119.3,428.4 L115.2,424.3 L116.5,410.5 L123.4,399.4 L113.8,391.2 L108.3,382.9 L112.4,365.0 L111.0,353.9 L105.5,342.9 L108.3,333.3 L111.0,326.4 L114.6,321.6 L122.5,298.0 L134.3,290.1 L128.4,282.3 L138.2,274.4 L126.4,278.3 L128.4,270.5 L118.5,260.6 L120.5,246.9 L116.6,235.1 L110.7,239.0 L104.8,235.1 L100.8,219.4 L89.1,213.5 L85.1,203.6 L91.0,195.8 L99.9,191.8 L102.8,185.9 L112.6,189.9 L116.6,180.0 L122.5,184.0 L138.2,187.9 L150.0,192.8 L144.1,187.9 L142.1,178.1 L146.1,170.2 L138.2,168.3 L142.1,160.4 L136.2,155.5 L132.3,150.6 L126.4,138.8 L120.5,127.0 L105.8,125.0 L104.8,111.3 L110.7,108.3 L118.5,111.3 L132.3,105.4 L138.2,97.5 L142.1,85.7 L152.3,78.1 L158.8,69.9 L168.7,61.7 L181.8,60.9 L201.4,62.6 L222.7,60.9 L239.1,62.6 L247.3,60.9 L255.5,56.8 L260.4,50.3 L262.0,42.1Z" fill="none" stroke="#000" stroke-width="1"/>
<path d="M158,71 172,79 190,82 202,95 206,105 200,111 202,122 210,128 224,134 222,148 217,164M217,164 220,170 229,170 233,163 241,166 253,163 265,168 273,174 286,176 300,173 314,179 332,178 347,171M217,164 198,181 180,193 165,191 147,193 143,205M180,193 190,207 180,217 184,232 198,238 200,254 206,264 208,274M273,174 279,183 273,195 265,201 249,201 229,215 225,250 239,252 233,266 218,272 208,274M143,134 149,124 163,120 168,128 170,140 163,144 149,144 143,138 143,134M127,278 151,264 165,270 180,268 202,256M115,279 127,281 147,265 167,267 182,271 198,256 204,271 210,273 227,275M227,275 229,285 214,295 208,303 206,316 210,324M227,285 241,291 253,301 265,311 284,314 302,314 314,309 328,303 355,307M277,285 282,277 292,275 299,283 298,293 288,297 279,293 277,285M115,338 127,336 143,326 157,324 163,336 174,338 194,334 202,336 210,324M210,324 204,340 208,356 214,370M129,352 135,348 155,349 162,356 155,364 135,364 129,358 129,352M316,352 324,344 332,344 337,350 336,356" fill="none" stroke="#000" stroke-width="1.4" stroke-linejoin="round"/>
</g>
<g transform="translate(674.6,95.0)">
<line x1="75.4" y1="0" x2="75.4" y2="458.79999999999995" stroke="#bdbdbd" stroke-width="1" stroke-dasharray="1.6,1.6"/>
<line x1="196.6" y1="0" x2="196.6" y2="458.79999999999995" stroke="#bdbdbd" stroke-width="1" stroke-dasharray="1.6,1.6"/>
<line x1="318.9" y1="0" x2="318.9" y2="458.79999999999995" stroke="#bdbdbd" stroke-width="1" stroke-dasharray="1.6,1.6"/>
<line x1="440.1" y1="0" x2="440.1" y2="458.79999999999995" stroke="#bdbdbd" stroke-width="1" stroke-dasharray="1.6,1.6"/>
<line x1="0" y1="138.2" x2="454.80000000000007" y2="138.2" stroke="#bdbdbd" stroke-width="1" stroke-dasharray="1.6,1.6"/>
<line x1="0" y1="275.1" x2="454.80000000000007" y2="275.1" stroke="#bdbdbd" stroke-width="1" stroke-dasharray="1.6,1.6"/>
<line x1="0" y1="411.6" x2="454.80000000000007" y2="411.6" stroke="#bdbdbd" stroke-width="1" stroke-dasharray="1.6,1.6"/>
<path d="M0 458.79999999999995H454.80000000000007V0" fill="none" stroke="#8a8a8a" stroke-width="1.6"/>
<path d="M0 0H454.80000000000007" fill="none" stroke="#808080" stroke-width="1.6"/>
<path d="M0 0V458.79999999999995" fill="none" stroke="#808080" stroke-width="1.6"/>
<g clip-path="url(#kc)">
<rect x="60" y="20" width="330" height="430" fill="#ff5e00"/>
<path d="M60 20l328 0l0 428l-328 0l0-24l4-15l1-9l-1-8l-4-10l0-362z" fill="#ff6900"/>
<path d="M60 20l328 0l0 428l-328 0l0-8l8-28l2-16l0-4l-3-8l-7-11l0-353z" fill="#ff7400"/>
<path d="M60 20l328 0l0 428l-326 0l10-33l3-19l-1-8l-2-5l-4-7l-8-10l0-346z" fill="#ff8000"/>
<path d="M60 20l328 0l0 428l-322 0l10-33l3-19l-1-8l-3-8l-7-12l-8-9l0-339z" fill="#ff8b00"/>
<path d="M60 20l328 0l0 428l-318 0l10-34l3-18l-2-12l-3-8l-8-12l-10-11l0-333z" fill="#ff9600"/>
<path d="M60 20l328 0l0 428l-314 0l10-36l2-12l0-8l-2-11l-4-9l-8-13l-12-13l0-326zM288 231l-4 2l-4 3l-4 6l-5 6l-3 4l1 4l7 4l8 2l8 2l4-1l4-3l0-8l-5-16l-3-4l-4-1z" fill="#ffa200"/>
<path d="M60 20l328 0l0 428l-310 0l10-36l1-12l1-8l-3-12l-4-12l-11-15l-12-13l0-320zM276 223l-12 6l-4 4l-4 6l-4 13l-1 8l1 4l4 5l28 4l16 1l8-1l4-1l1-4l0-4l-7-20l-2-16l-2-4l-2-2l-8-2l-16 3z" fill="#ffad00"/>
<path d="M60 20l328 0l0 428l-306 0l10-40l1-12l-1-12l-3-12l-7-12l-10-14l-12-13l0-313zM276 216l-8 1l-8 3l-5 4l-5 8l-5 12l-1 12l1 8l3 7l4 3l4 1l36 5l20 0l4-1l4-2l2-5l0-4l-11-24l-2-8l0-12l-1-4l-4-4l-4-1l-8-1l-16 2z" fill="#ffb800"/>
<path d="M60 20l328 0l0 428l-303 0l10-44l1-12l-1-12l-4-12l-7-13l-11-15l-13-13l0-307zM260 212l-8 3l-4 5l-4 7l-4 13l-2 12l0 8l2 8l5 8l6 4l5 1l36 3l16 1l8-1l8-4l3-4l1-4l-1-4l-3-7l-8-13l-2-8l-1-8l2-16l-5-4l-10-2l-24 0l-16 2z" fill="#ffc300"/>
<path d="M60 20l328 0l0 428l-299 0l9-44l1-16l-2-12l-5-15l-8-14l-12-15l-12-11l0-301zM252 206l-4 2l-4 4l-2 4l-6 16l-3 16l-1 8l1 8l3 8l5 8l5 4l6 2l32 2l20 1l12-1l8-3l4-3l3-6l0-8l-3-8l-9-16l-3-8l1-8l6-12l-1-4l-6-4l-8-1l-48-2l-8 1z" fill="#ffcf00"/>
<path d="M60 20l328 0l0 428l-296 0l7-32l3-16l0-16l-2-12l-6-16l-9-16l-10-12l-15-14l0-294zM248 199l-4 2l-4 3l-4 8l-6 28l-3 16l0 8l2 8l5 8l6 8l8 3l12 1l48 0l12-2l5-2l6-4l3-4l1-4l0-4l-1-8l-2-5l-10-15l-2-8l0-8l8-12l0-4l-2-4l-6-4l-8-1l-28-1l-28-3l-8 0z" fill="#ffda00"/>
<path d="M60 20l328 0l0 428l-293 0l10-48l0-16l-2-16l-6-16l-12-20l-10-12l-15-12l0-288zM240 194l-4 3l-4 9l-10 50l-1 16l4 12l1 8l22 4l32 0l36-2l8-2l8-5l5-7l1-4l1-8l-3-10l-10-14l-3-8l0-8l8-12l1-4l-1-4l-3-4l-4-3l-8-2l-32 0l-36-7l-8 2z" fill="#ffe500"/>
<path d="M60 20l328 0l0 428l-289 0l7-36l2-16l1-16l-3-16l-6-17l-11-19l-11-12l-18-15l0-281zM240 187l-4 1l-4 4l-4 8l-2 8l-4 24l-12 56l0 4l1 4l4 4l5 3l4 0l16-3l32 1l40-4l12-2l10-7l6-8l2-12l-1-8l-2-4l-11-15l-2-5l-1-4l1-4l6-8l3-4l1-4l-1-4l-3-6l-4-3l-8-2l-36-1l-12-3l-20-6l-8-1l-4 1z" fill="#fff100"/>
<path d="M60 20l328 0l0 428l-286 0l8-40l2-16l0-20l-3-16l-9-22l-8-12l-14-14l-18-14l0-274zM236 183l-7 5l-5 12l-8 38l-16 46l0 8l2 4l4 4l7 4l7 2l24-2l28 1l48-6l8-3l8-6l6-10l3-12l-1-8l-1-4l-3-6l-9-10l-3-8l1-4l7-8l4-8l-1-8l-3-4l-5-4l-7-2l-8-1l-28 0l-12-2l-20-8l-8-2l-8 1l-4 1z" fill="#fffc00"/>
<path d="M60 20l328 0l0 428l-283 0l8-44l2-12l0-24l-3-20l-6-20l-5-8l-13-12l-28-21l0-267zM236 178l-8 6l-4 5l-4 7l-2 8l-3 20l-3 12l-8 19l-21 37l-2 4l3 4l36 9l24-2l28 1l48-6l8-3l8-6l4-5l5-8l2-8l1-8l-1-8l-1-4l-12-16l-2-4l2-4l7-8l3-8l0-8l-4-6l-8-6l-8-2l-36 0l-12-3l-24-10l-8-1l-8 2z" fill="#f7ff08"/>
<path d="M60 20l328 0l0 428l-280 0l10-52l3-52l1-8l2-4l4-4l4 0l24 3l8 0l4-1l4-3l12-13l4-3l8-2l8 0l16 2l24-1l20 2l8 0l28-5l16-2l12-4l8-5l7-8l4-8l3-8l2-12l-2-8l-2-6l-7-10l-1-4l8-16l1-8l-2-8l-2-4l-5-4l-8-3l-12-2l-24 1l-8-1l-11-3l-25-11l-8-1l-8 1l-8 5l-8 10l-5 12l-5 28l-6 15l-12 19l-16 18l-12 8l-23 12l-17 15l-4 1l-8-3l-24-14l-28-19l0-260z" fill="#ebff14"/>
<path d="M60 20l328 0l0 428l-277 0l9-48l5-40l3-8l4-6l8-5l24-2l8-3l4-3l6-9l6-6l4-3l8-3l40 0l24 5l8-1l28-6l20-3l12-5l8-7l5-7l5-8l4-12l1-8l0-8l-6-20l4-16l0-12l-3-8l-3-4l-6-4l-5-2l-16-2l-24 1l-8-1l-12-4l-20-11l-8-2l-8 0l-8 4l-4 2l-10 11l-5 8l-3 8l-5 28l-5 11l-8 12l-8 9l-18 16l-13 8l-21 10l-8 4l-8 2l-8-1l-8-2l-24-13l-16-11l0-253z" fill="#e0ff1f"/>
<path d="M60 20l328 0l0 428l-274 0l3-20l11-60l6-12l6-6l8-3l20-4l8-3l12-17l4-3l8-4l12-2l24 0l11 2l17 5l8 0l32-8l12-2l8-2l8-4l8-7l8-10l5-8l5-16l1-12l-3-20l3-20l0-8l-3-8l-2-4l-4-4l-8-4l-10-2l-8-1l-28 1l-8-1l-11-5l-21-12l-8-2l-8 0l-8 3l-8 7l-13 16l-4 8l-3 8l-4 24l-8 12l-16 17l-20 16l-12 7l-12 6l-12 4l-8 0l-8-1l-8-2l-12-6l-16-10l-8-5l0-246z" fill="#d5ff2a"/>
<path d="M60 20l328 0l0 428l-271 0l3-24l12-52l4-10l4-5l4-2l8-4l16-3l8-4l5-4l11-16l5-4l7-3l12-1l20 0l12 4l12 6l8 0l32-9l24-5l8-4l8-7l13-17l4-8l4-12l2-12l-1-20l2-20l0-8l-3-8l-5-8l-5-4l-7-3l-16-3l-32 0l-8-1l-10-5l-22-14l-8-3l-8 1l-8 4l-8 7l-17 21l-5 8l-4 8l-4 20l-2 4l-6 8l-10 11l-12 10l-14 11l-10 6l-12 6l-8 2l-8 0l-8-1l-16-6l-28-16l0-239zM268 39l-8 4l-4 5l-3 8l0 4l3 6l4 5l4 1l6 0l6-3l5-5l4-8l-1-8l-4-7l-4-2l-4-1l-4 1z" fill="#c9ff36"/>
<path d="M60 20l206 0l-6 3l-4 4l-7 9l-5 10l-1 10l2 12l5 8l6 6l8 1l4-1l8-3l8-7l6-8l4-8l2-12l-2-8l-2-6l-4-6l-7-4l107 0l0 428l-268 0l2-20l4-16l7-32l5-12l6-7l4-3l8-3l12-3l9-4l7-7l8-13l8-7l8-3l8-1l20 2l12 4l8 7l4 2l4 0l36-11l24-5l8-4l8-7l16-21l6-12l3-8l2-16l2-32l0-12l-2-8l-5-8l-3-4l-7-5l-8-2l-12-2l-32 0l-8-1l-12-5l-20-15l-8-5l-8-2l-4 0l-4 2l-8 7l-30 36l-7 12l-7 19l-6 9l-25 24l-17 13l-8 4l-8 1l-8 1l-8-2l-16-7l-28-15l0-231z" fill="#beff41"/>
<path d="M60 20l184 0l-4 8l-5 12l-2 12l0 8l3 12l7 20l1 3l4 3l4 0l8-2l16-9l12-9l8-10l6-12l3-12l1-12l-3-12l85 0l0 428l-265 0l2-20l3-16l8-28l5-12l6-8l5-3l20-6l8-5l4-5l8-13l8-8l8-4l8-1l8 0l10 1l10 4l4 4l8 10l4 0l8-2l28-11l28-5l4-2l8-5l8-9l12-16l5-8l6-12l3-12l2-12l2-28l0-12l-2-8l-4-8l-4-5l-8-6l-8-3l-8-2l-40-1l-12-3l-12-8l-28-27l-4-4l-4-2l-4 3l-11 22l-11 16l-30 32l-17 28l-18 20l-17 14l-4 3l-8 2l-12-2l-16-6l-32-16l0-223z" fill="#b3ff4c"/>
<path d="M60 20l172 0l-4 12l-3 16l0 12l1 24l-1 8l-6 24l3 24l-2 8l-3 8l-8 12l-9 10l-8 6l-18 12l-4 4l-19 28l-13 16l-10 9l-8 3l-8 0l-12-4l-40-17l0-215zM316 20l72 0l0 428l-262 0l2-20l3-16l7-24l6-13l4-6l4-3l20-7l8-5l5-6l10-16l5-5l8-5l8-1l12 0l8 2l8 5l3 4l5 10l4 2l8-2l20-9l12-4l28-5l8-4l8-7l21-29l7-12l7-20l3-20l2-16l-2-16l-2-8l-4-8l-4-4l-8-6l-12-4l-12-2l-32 0l-8-2l-6-2l-10-7l-9-9l-7-12l-3-8l-1-8l1-4l4-8l7-8l24-22l8-10l4-8l4-8l3-12l2-12l-1-8z" fill="#a7ff58"/>
<path d="M60 20l162 0l-3 12l-2 16l0 36l-6 32l0 4l5 20l-1 8l-2 8l-8 12l-9 8l-8 5l-18 7l-12 8l-7 8l-11 16l-8 9l-8 7l-8 4l-8 1l-12-2l-36-13l0-206zM327 20l61 0l0 428l-259 0l2-20l3-16l6-20l8-16l4-5l4-3l20-7l7-5l5-7l8-14l6-7l6-4l8-2l8 0l10 2l7 4l3 4l5 12l3 3l4 1l8-2l20-9l12-4l28-4l8-4l8-7l25-34l9-16l4-12l3-12l3-16l1-16l-2-16l-3-8l-5-8l-4-4l-7-5l-12-5l-12-1l-32-1l-8-1l-7-3l-6-4l-8-8l-5-8l-3-8l-1-12l5-12l7-8l23-24l6-8l8-12l6-16l1-8l1-12z" fill="#9cff63"/>
<path d="M60 20l153 0l-3 24l0 40l-4 32l1 8l3 12l1 8l-1 8l-3 8l-7 8l-12 8l-28 8l-9 4l-11 8l-12 14l-8 7l-8 5l-6 2l-10 1l-8-1l-12-2l-16-5l0-197zM338 20l50 0l0 174l-4-10l-4-6l-5-6l-7-5l-8-3l-8-2l-12-1l-24 0l-8-1l-8-2l-8-5l-4-3l-5-6l-4-8l-1-12l4-12l8-12l23-24l12-16l4-8l5-12l4-20zM387 236l1-3l0 215l-256 0l1-16l3-18l4-14l8-17l8-9l4-3l16-6l8-5l4-5l10-19l6-7l4-3l8-2l8-1l8 2l6 3l3 4l7 15l4 3l4 1l8-1l20-10l12-4l8-1l16 0l8-2l4-2l8-8l15-23l16-20l10-20l6-24z" fill="#91ff6e"/>
<path d="M60 20l145 0l-1 24l0 36l-3 36l1 8l5 16l0 8l-2 8l-6 8l-7 6l-8 3l-32 4l-12 4l-10 7l-18 16l-12 6l-8 2l-8 0l-12-1l-12-2l0-189zM348 24l1-4l39 0l0 159l-9-11l-7-5l-8-4l-16-2l-32 0l-8-1l-8-4l-6-4l-3-4l-3-4l-3-8l1-12l3-8l7-10l22-22l13-16l11-20l6-20zM388 252l0-1l0 197l-253 0l1-16l2-16l4-12l6-13l4-7l8-8l20-9l8-6l10-21l6-8l5-4l7-3l8 0l8 2l7 5l2 4l3 8l4 6l4 3l4 1l8-1l20-9l12-4l8-1l16 0l8 0l8-5l8-10l12-21l16-19l5-8l6-12l5-12z" fill="#85ff7a"/>
<path d="M60 20l137 0l2 60l-2 36l6 28l-1 8l-1 4l-5 6l-8 5l-8 2l-12 1l-24-1l-8 2l-8 5l-24 18l-12 6l-8 1l-8 1l-16-2l0-180zM359 20l29 0l0 149l-5-5l-7-6l-12-5l-16-1l-28 1l-12-3l-5-2l-5-4l-3-4l-3-8l0-4l1-8l6-12l32-32l7-8l8-12l8-16l5-20zM387 264l1-2l0 186l-249 0l0-16l1-12l3-12l6-12l5-8l6-6l8-5l16-7l4-3l4-5l8-22l3-4l5-5l5-3l7-2l8 1l4 2l5 3l2 4l5 12l3 4l5 3l4 2l8-1l20-9l12-4l12 0l16 2l8-2l4-3l8-9l15-27l19-24l9-16z" fill="#7aff85"/>
<path d="M60 20l129 0l5 56l-1 40l5 28l0 8l-2 4l-4 4l-8 4l-12 1l-12-1l-16-3l-8 0l-8 4l-24 17l-12 7l-8 2l-8 1l-16 0l0-172zM370 20l18 0l0 139l-12-8l-12-4l-12-1l-28 2l-8 0l-8-4l-4-4l-3-4l-2-8l1-8l4-8l8-8l27-24l13-16l11-20l4-12l3-12zM387 272l1-1l0 177l-246 0l0-16l1-12l3-12l4-8l6-8l8-8l20-9l8-6l3-5l6-20l4-8l4-4l7-3l4-1l8 1l4 2l5 5l7 15l4 4l8 5l8 0l20-10l12-3l8-1l20 3l8 0l7-5l5-5l7-11l12-24l17-20l7-12z" fill="#6eff90"/>
<path d="M60 20l121 0l8 52l0 44l5 28l-1 8l-4 4l-9 3l-8 1l-12-2l-16-4l-8-1l-8 3l-24 17l-12 6l-16 5l-16 0l0-164zM381 20l7 0l0 129l-12-7l-12-3l-12-1l-28 5l-8-2l-6-5l-2-4l-1-8l1-4l8-10l28-22l15-16l7-12l6-12l5-12l4-16zM387 280l1-2l0 170l-243 0l0-12l0-12l3-12l4-9l5-7l8-8l7-4l16-7l7-5l3-4l1-4l2-12l2-8l5-8l4-4l8-3l4 0l7 3l4 4l5 12l4 6l4 4l8 5l8 0l20-10l12-3l8-1l20 4l8 0l8-4l8-8l5-9l12-24l22-28z" fill="#63ff9c"/>
<path d="M60 20l114 0l8 44l2 16l1 32l3 32l-1 4l-3 3l-8 2l-8 0l-8-1l-20-7l-8 1l-8 4l-20 14l-12 7l-16 4l-16 1l0-156zM387 40l1-3l0 101l-12-7l-16-4l-12 0l-16 4l-4 0l-4-1l-2-2l0-4l2-4l4-4l24-17l8-9l8-10l11-20l8-20zM386 288l2-3l0 163l-239 0l-1-12l0-12l3-12l4-8l5-7l8-7l24-10l5-4l3-4l2-4l1-16l2-8l3-5l4-4l4-3l8-1l4 1l4 3l4 5l4 11l4 6l8 8l4 2l4 1l4-1l20-11l12-3l12 0l20 4l8-1l8-4l7-8l5-8l12-25l18-23z" fill="#58ffa7"/>
<path d="M60 20l105 0l11 41l4 19l1 52l-1 8l-3 4l-5 2l-8 0l-8-2l-16-8l-4-1l-4 1l-24 18l-16 9l-16 5l-16 0l0-148zM388 72l0-1l0 50l-8-9l-2-8l2-12l8-20zM388 292l0-1l0 157l-235 0l-2-12l0-12l2-8l3-8l4-6l8-7l8-4l16-5l4-2l4-4l4-8l2-24l4-8l3-4l7-3l4 0l4 1l3 2l3 4l7 16l7 9l4 5l4 2l4 1l4-1l20-13l12-3l8 0l24 5l8-1l9-4l9-8l6-10l12-26l16-20z" fill="#4dffb2"/>
<path d="M60 20l96 0l16 48l3 16l1 12l-1 28l-2 8l-3 4l-6 2l-8-1l-8-5l-9-8l-3-2l-4 0l-15 18l-17 12l-12 5l-8 2l-8 2l-12-1l0-140zM387 300l1-2l0 150l-231 0l-2-12l0-12l1-8l3-8l5-6l8-6l8-2l16-4l4-2l4-3l3-5l2-8l-1-16l1-8l3-8l4-4l4-1l4-1l4 2l4 4l5 12l12 24l3 7l4 5l4-2l7-10l9-8l12-7l12-2l24 5l8 1l8-2l8-4l8-7l4-5l15-31l12-16z" fill="#41ffbe"/>
<path d="M60 20l86 0l20 48l4 16l1 12l-1 12l-3 12l-3 7l-4 2l-2-1l-17-12l-5-2l-4 0l-4 2l-8 12l-7 8l-13 9l-8 4l-12 3l-8 1l-12 0l0-133zM386 308l2-2l0 142l-226 0l-3-12l-1-12l1-8l5-9l4-4l8-4l8-1l20 0l4-2l4-4l1-4l1-8l-3-24l0-8l4-8l5-4l4 0l5 4l11 24l2 12l-3 16l0 4l1 4l4 3l4 1l4 0l8-4l4-4l9-20l8-8l7-4l4-1l8-1l24 6l8 1l12-3l8-4l6-6l7-8l14-28l7-12z" fill="#36ffc9"/>
<path d="M60 20l75 0l10 24l15 27l4 11l2 10l-1 8l-1 4l-4 7l-4 2l-4 0l-12-5l-4-1l-4 0l-4 2l-4 5l-6 10l-6 7l-12 8l-8 3l-12 3l-8 1l-12-1l0-125zM387 316l1-2l0 134l-219 0l-6-16l-1-12l3-8l3-4l4-3l8-2l8 1l4 2l3 2l3 4l2 4l4 6l8 4l12 0l20-6l12-6l8-7l6-11l4-12l4-8l3-4l7-5l4-1l8 0l20 5l12 2l12-2l12-7l8-7l6-9l17-32zM219 340l5-2l4 4l9 22l-1 9l-4 6l-4 2l-4-1l-4-5l-4-11l-2-8l0-8l1-4l4-4z" fill="#2bffd4"/>
<path d="M60 20l61 0l19 40l12 15l6 9l1 8l0 4l-3 5l-4 2l-4 0l-7-3l-9-6l-4 2l-12 24l-4 4l-8 6l-8 4l-12 3l-12 1l-12-1l0-117zM386 328l2-3l0 123l-208 0l-8-10l-3-6l-2-8l0-4l1-6l4-4l4-2l4 0l4 1l4 4l2 3l6 16l4 6l4 3l4 2l8 0l8-1l12-4l12-7l8-6l12-12l7-13l6-20l5-8l6-3l8 0l20 6l12 2l8-1l8-2l11-6l9-9l8-11l10-20zM220 344l4-1l3 5l3 12l0 4l-2 3l-4-1l-4-7l-2-7l2-8z" fill="#1fffe0"/>
<path d="M60 20l44 0l9 16l7 16l2 8l0 8l-4 20l-2 16l-1 8l-3 6l-4 3l-12 7l-16 2l-12-1l-8-2l0-107zM386 340l2-4l0 112l-145 0l17-14l12-14l6-12l6-24l4-8l4-2l4-1l8 2l16 5l12 2l8-1l8-2l12-6l8-7l9-10l9-16zM175 416l2 0l3 2l1 2l-1 5l-4 0l-1-1l-1-4l1-4z" fill="#14ffeb"/>
<path d="M60 20l18 0l2 1l13 15l7 12l3 8l3 16l3 28l-1 8l-1 4l-3 4l-8 4l-8 1l-12 0l-8-2l-8-3l0-96zM388 348l0-1l0 101l-128 0l12-14l8-14l5-12l7-25l4-3l4 0l20 6l12 1l12-1l8-3l12-7l8-6l8-10l8-12z" fill="#09fff6"/>
<path d="M60 52l0-2l4 0l8 3l8 7l4 6l4 8l5 14l1 12l-2 4l-4 3l-4 0l-8-1l-8-4l-8-6l0-44zM386 360l2-2l0 90l-116 0l13-20l6-12l5-15l4-7l4-2l4-1l16 2l12 0l16-4l12-6l8-6l8-8l6-9z" fill="#00fcff"/>
<path d="M387 368l1-1l0 81l-105 0l20-36l5-6l8-4l24-3l16-5l16-10l8-7l7-9z" fill="#00f1ff"/>
<path d="M385 380l3-4l0 72l-94 0l14-23l8-9l8-4l24-8l12-5l12-8l13-11z" fill="#00e5ff"/>
<path d="M385 388l3-3l0 63l-82 0l10-15l9-9l7-4l32-16l12-8l9-8z" fill="#00daff"/>
<path d="M386 396l2-2l0 54l-70 0l6-8l8-8l12-8l24-14l18-14z" fill="#00cfff"/>
<path d="M387 404l1-1l0 45l-56 0l12-12l28-20l15-12z" fill="#00c3ff"/>
<path d="M384 416l4-4l0 36l-42 0l8-8l30-24z" fill="#00b8ff"/>
<path d="M386 424l2-1l0 25l-28 0l26-24z" fill="#00adff"/>
<path d="M386 436l2-2l0 14l-14 0l12-12z" fill="#00a2ff"/>
<path d="M386 448l2-2l0 2l-2 0z" fill="#0096ff"/>
<g fill="none" stroke="#000" stroke-width="0.9">
<path d="M62 448l10-33l3-19l-1-8l-2-5l-4-7l-8-10"/>
<path d="M276 216l-8 1l-8 3l-5 4l-5 8l-5 12l-1 12l1 8l3 7l4 3l4 1l36 5l20 0l4-1l4-2l2-5l0-4l-11-24l-2-8l0-12l-1-4l-4-4l-4-1l-8-1l-16 2M82 448l10-40l1-12l-1-12l-3-12l-7-12l-10-14l-12-13"/>
<path d="M240 187l-4 1l-4 4l-4 8l-2 8l-4 24l-12 56l0 4l1 4l4 4l5 3l4 0l16-3l32 1l40-4l12-2l10-7l6-8l2-12l-1-8l-2-4l-11-15l-2-5l-1-4l1-4l6-8l3-4l1-4l-1-4l-3-6l-4-3l-8-2l-36-1l-12-3l-20-6l-8-1l-4 1M99 448l7-36l2-16l1-16l-3-16l-6-17l-11-19l-11-12l-18-15"/>
<path d="M114 448l3-20l11-60l6-12l6-6l8-3l20-4l8-3l12-17l4-3l8-4l12-2l24 0l11 2l17 5l8 0l32-8l12-2l8-2l8-4l8-7l8-10l5-8l5-16l1-12l-3-20l3-20l-1-12l-2-4l-4-6l-4-3l-8-4l-16-2l-28 1l-8-1l-11-5l-21-12l-8-2l-8 0l-8 3l-8 7l-13 16l-4 8l-3 8l-4 24l-8 12l-8 10l-12 11l-12 9l-12 8l-12 6l-12 5l-8 1l-8 0l-8-2l-8-3l-32-19"/>
<path d="M222 20l-3 12l-2 16l0 36l-6 32l1 8l3 12l1 8l-2 8l-6 12l-8 9l-8 6l-8 4l-14 5l-12 8l-7 8l-15 21l-8 8l-8 5l-8 3l-12-1l-16-5l-24-9M129 448l2-20l3-16l6-20l8-16l4-5l4-3l20-7l7-5l5-7l8-14l6-7l6-4l8-2l8 0l10 2l7 4l3 4l5 12l3 3l4 1l8-2l20-9l12-4l28-4l8-4l8-7l25-34l9-16l4-12l3-12l3-16l1-16l-2-16l-3-8l-5-8l-4-4l-7-5l-12-5l-12-1l-32-1l-8-1l-7-3l-6-4l-8-8l-5-8l-3-8l-1-12l5-12l7-8l23-24l6-8l8-12l6-16l1-8l1-12"/>
<path d="M181 20l8 56l0 40l5 28l0 4l-2 5l-4 4l-12 3l-12-1l-20-5l-8-1l-8 3l-24 17l-12 6l-16 5l-16 0M388 149l-12-7l-12-3l-12-1l-24 4l-8 0l-5-2l-5-4l-2-4l-1-4l1-8l4-6l8-7l24-19l8-8l10-12l7-12l5-12l7-24M145 448l0-12l0-12l3-12l4-9l5-7l8-8l7-4l16-7l7-5l3-4l1-4l2-12l2-8l5-8l4-4l8-3l4 0l7 3l4 4l5 12l4 6l4 4l8 5l8 0l20-10l12-3l8-1l20 4l8 0l8-4l8-8l5-9l12-24l23-30"/>
<path d="M135 20l10 24l15 27l3 9l2 8l1 8l-2 8l-2 4l-2 3l-4 2l-4 0l-16-6l-4 0l-4 2l-4 5l-6 10l-6 7l-12 8l-8 3l-12 3l-8 1l-12-1M219 340l5-2l4 4l9 22l-1 9l-4 6l-4 2l-4-1l-4-5l-4-11l-2-8l0-8l1-4l4-4M169 448l-6-16l-1-12l3-8l3-4l4-3l8-2l8 1l4 2l3 2l3 4l2 4l4 6l8 4l12 0l20-6l12-6l8-7l6-11l4-12l4-8l3-4l7-5l4-1l8 0l20 5l12 2l12-2l12-7l8-7l6-9l18-34"/>
<path d="M283 448l20-36l5-6l8-4l24-3l16-5l16-10l8-7l8-10"/>
<path d="M346 448l42-36"/>
</g>
</g>
<g style="font-family:&quot;Liberation Sans&quot;,sans-serif;font-weight:bold;font-size:11px" text-anchor="middle">
<text transform="translate(210,120) rotate(82)" y="4">250</text>
<text transform="translate(194,154) rotate(-58)" y="4">275</text>
<text transform="translate(173,186) rotate(-20)" y="4">250</text>
<text transform="translate(301,163) rotate(12)" y="4">250</text>
<text transform="translate(290,182) rotate(10)" y="4">225</text>
<text transform="translate(235,188) rotate(-36)" y="4">200</text>
<text transform="translate(201,226) rotate(-75)" y="4">225</text>
<text transform="translate(122,237) rotate(-30)" y="4">250</text>
<text transform="translate(246,241) rotate(-73)" y="4">175</text>
<text transform="translate(320,278) rotate(-37)" y="4">175</text>
<text transform="translate(340,258) rotate(67)" y="4">200</text>
<text transform="translate(222,305) rotate(4)" y="4">200</text>
<text transform="translate(305,312) rotate(-9)" y="4">225</text>
<text transform="translate(248,346) rotate(51)" y="4">250</text>
<text transform="translate(237,361) rotate(68)" y="4">300</text>
<text transform="translate(199,367) rotate(-74)" y="4">275</text>
<text transform="translate(178,339) rotate(-49)" y="4">225</text>
<text transform="translate(154,369) rotate(-34)" y="4">250</text>
<text transform="translate(158,395) rotate(-50)" y="4">275</text>
</g>
<path d="M264.9,35.3 L268.5,39.0 L274.5,50.7 L278.9,56.7 L286.3,74.4 L293.6,87.7 L305.5,103.9 L323.1,121.6 L326.1,128.9 L332.0,140.7 L345.3,161.4 L348.2,171.7 L352.6,179.1 L352.6,187.9 L357.2,206.0 L356.4,212.9 L352.9,223.2 L353.8,238.7 L350.4,252.5 L350.4,264.5 L352.9,267.9 L351.2,271.4 L354.7,274.8 L363.3,268.8 L365.0,273.1 L361.5,286.9 L358.1,302.3 L354.7,316.1 L349.5,323.0 L347.8,333.3 L339.2,345.3 L332.3,353.9 L323.7,359.1 L315.1,357.4 L304.8,357.4 L294.5,353.9 L285.9,350.5 L275.5,359.1 L268.7,364.3 L263.5,367.7 L251.5,368.6 L238.3,362.1 L222.6,368.6 L214.8,371.2 L204.3,372.5 L196.8,380.0 L191.6,387.0 L182.8,394.0 L168.9,399.2 L156.7,411.4 L142.7,414.9 L139.2,406.2 L128.7,421.9 L119.3,428.4 L115.2,424.3 L116.5,410.5 L123.4,399.4 L113.8,391.2 L108.3,382.9 L112.4,365.0 L111.0,353.9 L105.5,342.9 L108.3,333.3 L111.0,326.4 L114.6,321.6 L122.5,298.0 L134.3,290.1 L128.4,282.3 L138.2,274.4 L126.4,278.3 L128.4,270.5 L118.5,260.6 L120.5,246.9 L116.6,235.1 L110.7,239.0 L104.8,235.1 L100.8,219.4 L89.1,213.5 L85.1,203.6 L91.0,195.8 L99.9,191.8 L102.8,185.9 L112.6,189.9 L116.6,180.0 L122.5,184.0 L138.2,187.9 L150.0,192.8 L144.1,187.9 L142.1,178.1 L146.1,170.2 L138.2,168.3 L142.1,160.4 L136.2,155.5 L132.3,150.6 L126.4,138.8 L120.5,127.0 L105.8,125.0 L104.8,111.3 L110.7,108.3 L118.5,111.3 L132.3,105.4 L138.2,97.5 L142.1,85.7 L152.3,78.1 L158.8,69.9 L168.7,61.7 L181.8,60.9 L201.4,62.6 L222.7,60.9 L239.1,62.6 L247.3,60.9 L255.5,56.8 L260.4,50.3 L262.0,42.1Z" fill="none" stroke="#000" stroke-width="1"/>
<path d="M158,71 172,79 190,82 202,95 206,105 200,111 202,122 210,128 224,134 222,148 217,164M217,164 220,170 229,170 233,163 241,166 253,163 265,168 273,174 286,176 300,173 314,179 332,178 347,171M217,164 198,181 180,193 165,191 147,193 143,205M180,193 190,207 180,217 184,232 198,238 200,254 206,264 208,274M273,174 279,183 273,195 265,201 249,201 229,215 225,250 239,252 233,266 218,272 208,274M143,134 149,124 163,120 168,128 170,140 163,144 149,144 143,138 143,134M127,278 151,264 165,270 180,268 202,256M115,279 127,281 147,265 167,267 182,271 198,256 204,271 210,273 227,275M227,275 229,285 214,295 208,303 206,316 210,324M227,285 241,291 253,301 265,311 284,314 302,314 314,309 328,303 355,307M277,285 282,277 292,275 299,283 298,293 288,297 279,293 277,285M115,338 127,336 143,326 157,324 163,336 174,338 194,334 202,336 210,324M210,324 204,340 208,356 214,370M129,352 135,348 155,349 162,356 155,364 135,364 129,358 129,352M316,352 324,344 332,344 337,350 336,356" fill="none" stroke="#000" stroke-width="1.4" stroke-linejoin="round"/>
</g>
<g transform="translate(1152.2,95.0)">
<line x1="75.4" y1="0" x2="75.4" y2="459.0" stroke="#bdbdbd" stroke-width="1" stroke-dasharray="1.6,1.6"/>
<line x1="196.6" y1="0" x2="196.6" y2="459.0" stroke="#bdbdbd" stroke-width="1" stroke-dasharray="1.6,1.6"/>
<line x1="318.9" y1="0" x2="318.9" y2="459.0" stroke="#bdbdbd" stroke-width="1" stroke-dasharray="1.6,1.6"/>
<line x1="440.1" y1="0" x2="440.1" y2="459.0" stroke="#bdbdbd" stroke-width="1" stroke-dasharray="1.6,1.6"/>
<line x1="0" y1="138.2" x2="455.5" y2="138.2" stroke="#bdbdbd" stroke-width="1" stroke-dasharray="1.6,1.6"/>
<line x1="0" y1="275.1" x2="455.5" y2="275.1" stroke="#bdbdbd" stroke-width="1" stroke-dasharray="1.6,1.6"/>
<line x1="0" y1="411.6" x2="455.5" y2="411.6" stroke="#bdbdbd" stroke-width="1" stroke-dasharray="1.6,1.6"/>
<path d="M0 459.0H455.5V0" fill="none" stroke="#8a8a8a" stroke-width="1.6"/>
<path d="M0 0H455.5" fill="none" stroke="#808080" stroke-width="1.6"/>
<path d="M0 0V459.0" fill="none" stroke="#808080" stroke-width="1.6"/>
<g clip-path="url(#kc)">
<rect x="60" y="20" width="330" height="430" fill="#ff8b00"/>
<path d="M60 20l328 0l0 428l-328 0l0-57l3-7l1-8l-1-8l-3-8l0-340z" fill="#ff9600"/>
<path d="M60 20l328 0l0 428l-328 0l0-49l6-11l2-12l-2-12l-6-13l0-331z" fill="#ffa200"/>
<path d="M60 20l328 0l0 428l-328 0l0-44l6-8l4-8l2-12l-3-16l-4-8l-5-9l0-323z" fill="#ffad00"/>
<path d="M60 20l328 0l0 428l-328 0l0-39l12-17l3-8l0-8l0-8l-4-12l-3-8l-8-12l0-316z" fill="#ffb800"/>
<path d="M60 20l328 0l0 428l-328 0l0-35l10-13l5-8l3-8l0-8l-1-12l-3-12l-6-11l-8-11l0-310z" fill="#ffc300"/>
<path d="M60 20l328 0l0 428l-328 0l0-31l12-15l6-10l3-8l0-8l-1-15l-4-13l-7-12l-9-12l0-304z" fill="#ffcf00"/>
<path d="M60 20l328 0l0 428l-328 0l0-27l16-20l5-9l2-8l1-12l-2-16l-4-12l-7-12l-11-13l0-299z" fill="#ffda00"/>
<path d="M60 20l328 0l0 428l-328 0l0-23l16-20l8-13l2-8l1-12l-2-16l-5-16l-8-13l-12-14l0-293z" fill="#ffe500"/>
<path d="M60 20l328 0l0 428l-328 0l0-19l16-21l8-12l4-12l1-16l-1-16l-6-16l-7-12l-15-16l0-288z" fill="#fff100"/>
<path d="M60 20l328 0l0 428l-328 0l0-15l20-27l8-14l3-12l1-16l-2-16l-6-16l-8-12l-16-17l0-283z" fill="#fffc00"/>
<path d="M60 20l328 0l0 428l-328 0l0-11l20-27l6-10l4-8l4-16l1-16l-2-16l-3-8l-4-8l-10-14l-16-16l0-278zM284 231l-9 5l-9 8l-2 4l2 4l17 8l5 2l8 1l8-2l3-5l1-8l-2-8l-2-5l-4-4l-4-1l-12 1z" fill="#f7ff08"/>
<path d="M60 20l328 0l0 428l-328 0l0-7l20-28l10-17l5-16l2-20l-1-16l-2-8l-3-8l-12-16l-19-19l0-273zM264 224l-4 1l-3 3l-5 10l-2 14l0 4l2 5l8 3l32 5l12-1l6-4l2-3l1-5l-1-12l-2-8l-2-4l-4-4l-4-2l-8-2l-28 0z" fill="#ebff14"/>
<path d="M60 20l328 0l0 428l-328 0l0-3l24-35l8-14l6-20l2-20l-1-16l-2-8l-4-8l-12-16l-21-21l0-267zM252 220l-4 8l-5 24l1 8l4 6l4 2l8 2l32 3l12-1l9-4l3-4l0-4l0-16l-3-12l-5-6l-4-2l-8-3l-32-5l-8 1l-4 3z" fill="#e0ff1f"/>
<path d="M60 20l328 0l0 428l-327 0l23-34l10-18l6-20l3-24l-1-16l-3-8l-4-8l-13-16l-22-22l0-262zM252 211l-6 5l-2 5l-2 7l-3 28l1 8l2 4l5 4l9 2l32 3l16-1l8-3l4-3l3-6l1-20l-3-12l-5-7l-4-3l-8-3l-24-4l-16-4l-8 0z" fill="#d5ff2a"/>
<path d="M60 20l328 0l0 428l-324 0l24-37l8-16l4-11l4-16l2-12l0-12l0-8l-2-8l-7-12l-10-12l-27-27l0-257zM248 206l-4 3l-2 3l-4 12l-4 36l1 8l2 4l7 4l8 2l16 1l20 1l12 0l8-2l5-2l5-4l3-4l1-4l1-20l-2-12l-5-8l-8-5l-8-3l-24-5l-16-4l-8-1l-4 0z" fill="#c9ff36"/>
<path d="M60 20l328 0l0 428l-321 0l22-36l10-20l8-28l2-12l1-12l-1-8l-2-8l-7-12l-11-12l-29-29l0-251zM244 202l-4 2l-2 4l-3 8l-6 52l1 4l2 4l8 3l12 2l36 2l12-1l8-1l8-4l4-4l3-5l1-4l2-16l0-8l-3-12l-3-4l-4-4l-7-4l-9-3l-20-4l-24-7l-8-1l-4 1z" fill="#beff41"/>
<path d="M60 20l328 0l0 428l-319 0l23-37l9-19l10-32l2-12l1-12l-2-12l-7-12l-10-12l-35-34l0-246zM236 199l-4 12l-4 37l-6 28l0 4l2 2l4 1l40 3l24 0l16-3l8-3l5-4l4-8l4-24l0-8l-2-8l-6-8l-5-4l-8-3l-28-6l-28-10l-8-1l-4 1l-4 2z" fill="#b3ff4c"/>
<path d="M60 20l328 0l0 428l-316 0l21-36l10-20l12-36l2-12l1-12l-2-12l-8-12l-48-48l0-240zM236 192l-4 4l-3 8l-3 40l-2 12l-5 12l-8 12l-1 4l1 4l5 2l4 0l20-3l32 2l20 0l16-3l8-3l4-3l4-5l3-7l5-24l-1-12l-2-8l-3-4l-6-5l-8-4l-36-8l-32-11l-8 0z" fill="#a7ff58"/>
<path d="M60 20l328 0l0 428l-314 0l22-38l10-22l13-36l3-12l1-12l-3-12l-5-8l-31-29l-24-26l0-233zM232 188l-4 5l-2 7l-3 44l-3 12l-6 12l-11 12l-3 4l1 4l4 4l7 2l4 0l28-4l28 2l16 0l12-2l10-2l6-3l7-5l3-4l4-8l5-24l0-8l-1-8l-2-6l-4-6l-6-4l-6-2l-40-9l-32-13l-8-1l-4 1z" fill="#9cff63"/>
<path d="M60 20l328 0l0 428l-311 0l24-44l17-40l8-24l2-12l1-8l-3-8l-6-8l-32-27l-28-30l0-227zM232 183l-5 5l-4 8l-2 16l-1 32l-3 12l-5 8l-4 5l-19 15l-2 4l1 2l2 2l14 4l8 1l12 0l12-3l8-1l40 1l24-3l8-3l8-6l7-10l7-28l0-16l-2-8l-2-4l-5-4l-9-4l-40-9l-12-4l-24-11l-8-1l-4 0z" fill="#91ff6e"/>
<path d="M60 20l328 0l0 428l-309 0l24-44l23-52l9-24l1-8l1-8l-1-4l-3-4l-25-16l-16-13l-32-36l0-219zM232 180l-7 4l-4 8l-3 16l-2 36l-1 8l-3 6l-8 9l-25 13l-6 4l-4 4l-2 4l2 4l7 3l4 0l12-1l24 2l28-5l28 2l12 0l24-3l8-3l8-6l5-5l4-8l8-28l1-8l0-12l-3-8l-3-4l-6-4l-10-3l-40-8l-12-4l-24-11l-8-2l-4 0z" fill="#85ff7a"/>
<path d="M60 20l328 0l0 428l-306 0l23-44l39-82l4-6l4-4l8-4l32-6l28-1l24-4l28 3l12 0l20-3l12-4l8-5l4-3l3-5l4-8l9-28l2-24l-2-8l-4-4l-4-2l-12-3l-32-5l-12-3l-12-4l-24-12l-8-2l-4 0l-8 3l-5 8l-2 8l-2 12l-2 40l-3 8l-6 6l-8 5l-26 9l-22 15l-4 1l-8 1l-8-2l-12-4l-8-5l-17-14l-31-36l0-212z" fill="#7aff85"/>
<path d="M60 20l328 0l0 428l-304 0l36-71l25-45l6-8l5-5l8-5l8-4l24-6l24-1l24-3l28 2l12 0l24-3l12-5l8-6l4-4l6-12l10-28l4-28l-2-8l-6-5l-60-9l-16-5l-24-13l-8-2l-8 1l-4 2l-4 3l-5 8l-4 28l-2 32l-1 4l-4 5l-8 5l-32 9l-20 10l-8 3l-12-1l-8-2l-8-5l-14-12l-22-28l-12-13l0-203z" fill="#6eff90"/>
<path d="M60 20l328 0l0 428l-302 0l30-59l8-15l25-38l6-8l5-6l8-5l8-4l20-7l28-1l12-3l8-1l28 4l12 0l24-4l12-4l7-5l4-4l6-8l4-8l10-24l7-28l1-8l-2-8l-4-4l-5-2l-32-1l-28-4l-16-5l-28-15l-8-2l-8 1l-9 4l-3 4l-4 8l-5 32l-2 28l-2 4l-3 3l-8 3l-28 4l-8 4l-16 9l-8 2l-12-1l-9-4l-7-5l-7-7l-24-32l-13-13l0-195z" fill="#63ff9c"/>
<path d="M60 20l328 0l0 428l-299 0l19-40l16-29l30-43l11-12l15-10l12-5l8-2l24-1l20-3l24 4l12 1l28-4l8-3l8-3l11-10l11-20l8-16l11-32l2-12l0-4l-2-4l-5-4l-4-2l-8-1l-32 1l-28-3l-16-5l-28-15l-8-2l-8 0l-8 3l-4 3l-6 9l-7 36l-3 24l-4 6l-8 2l-24 0l-8 2l-20 14l-8 3l-8-1l-8-4l-7-6l-5-6l-24-34l-8-7l-8-6l0-187z" fill="#58ffa7"/>
<path d="M60 20l328 0l0 428l-297 0l17-36l16-29l21-27l18-24l8-8l9-7l8-4l8-3l8-1l20-1l12-3l8 0l24 5l12 1l32-6l12-4l11-9l11-16l8-16l19-40l3-8l1-8l-2-8l-3-4l-8-3l-12 0l-32 3l-28-2l-12-2l-8-4l-24-14l-8-3l-8-2l-4 1l-7 2l-5 3l-8 9l-3 8l-3 16l-8 28l-2 6l-2 2l-2 2l-4 1l-4 0l-8-2l-6-5l-6-10l-4-4l-4-3l-4-1l-4 0l-2 2l-3 4l0 8l1 16l-3 8l-4 4l-5 3l-4 1l-8-3l-6-5l-6-8l-20-32l-9-8l-15-8l0-180z" fill="#4dffb2"/>
<path d="M60 20l328 0l0 167l-4-4l-4-2l-8-1l-44 9l-20 1l-16-2l-12-2l-8-4l-28-16l-8-3l-8 0l-5 1l-7 4l-9 8l-4 8l-4 16l-3 8l-8 12l-4 3l-4 1l-4-2l-18-14l-10-5l-12-3l-4 0l-4 2l-3 2l-3 4l-2 32l0 1l-4-1l-8-9l-4-7l-5-12l-3-4l-7-4l-29-11l0-173zM387 208l1-2l0 242l-295 0l17-36l14-25l8-11l18-20l17-24l8-8l9-6l8-4l8-3l8-2l16 0l12-2l8 0l24 6l12 0l32-5l12-4l11-8l10-12l37-64l5-12z" fill="#41ffbe"/>
<path d="M60 20l328 0l0 145l-12 3l-20 10l-16 6l-16 3l-20 1l-12-1l-12-3l-12-6l-24-15l-8-3l-8 0l-12 4l-9 8l-9 12l-6 16l-4 5l-4 2l-4 0l-8-2l-16-9l-12-4l-12-2l-24 4l-16-1l-16-2l-16-4l0-167zM386 228l2-3l0 223l-293 0l15-32l14-26l8-10l21-20l19-28l12-11l12-7l16-4l12 0l12-2l8 0l24 8l8 1l36-6l12-4l11-7l8-8l43-64z" fill="#36ffc9"/>
<path d="M60 20l198 0l2 5l4 7l4 3l4 1l8-3l23-13l85 0l0 130l-12 7l-18 15l-6 4l-16 6l-16 3l-24 0l-16-3l-12-6l-24-16l-8-3l-4-1l-8 1l-13 7l-12 12l-11 15l-4 3l-4 1l-8-1l-20-7l-12-3l-12 0l-24 2l-16 0l-12-1l-16-4l0-161zM385 240l3-3l0 211l-290 0l13-32l13-22l8-10l24-21l5-7l15-24l7-8l5-4l8-4l8-3l32-4l12 2l16 7l4 1l8 1l36-6l12-3l12-7l8-8l41-56z" fill="#2bffd4"/>
<path d="M60 20l184 0l1 12l5 12l13 16l5 2l4 0l2-2l10-12l12-11l12-7l12-5l12-4l9-1l19 0l16 4l12 5l0 109l-20 15l-13 15l-7 6l-12 5l-16 4l-12 1l-12-1l-16-3l-12-6l-24-17l-8-4l-4 0l-8 1l-8 4l-14 10l-14 13l-4 3l-8 2l-8-1l-20-5l-12-2l-48 2l-12-1l-16-4l0-155zM387 248l1-1l0 201l-288 0l11-28l13-23l12-13l24-19l4-5l10-20l5-8l7-8l6-4l8-4l8-3l28-3l12 3l16 8l8 2l8 0l32-6l12-3l12-6l9-8l42-52z" fill="#1fffe0"/>
<path d="M60 20l174 0l2 20l3 8l3 4l4 4l13 8l9 3l4-1l5-2l15-14l8-6l8-5l12-5l12-3l12-1l12 1l8 2l12 4l12 8l0 80l-24 23l-4 5l-10 15l-5 4l-9 5l-16 3l-12 2l-12-1l-16-3l-12-6l-24-18l-8-4l-4-1l-8 1l-8 4l-28 20l-8 4l-4 1l-8 0l-32-6l-12 0l-36 1l-12-1l-16-3l0-150zM385 260l3-4l0 192l-286 0l11-28l11-19l12-14l24-15l5-4l4-8l10-24l6-8l10-8l9-4l8-2l20-2l8 0l11 4l13 10l8 1l52-9l12-5l8-7l41-46z" fill="#14ffeb"/>
<path d="M60 20l166 0l2 24l4 12l4 5l4 2l24 7l8 0l5-2l23-17l8-5l12-5l12-2l8-1l16 2l10 4l10 6l6 6l6 8l0 46l-9 14l-23 26l-8 14l-3 4l-9 6l-16 4l-12 1l-12 0l-8-1l-8-2l-14-8l-26-21l-8-3l-8 2l-36 23l-12 5l-12-1l-24-3l-12-1l-44 0l-12-1l-12-3l0-145zM385 268l3-3l0 183l-284 0l11-28l9-16l8-10l8-6l8-5l16-6l4-3l4-7l7-23l3-8l6-8l8-7l8-4l8-2l20-2l8 0l8 3l5 4l11 11l4 1l56-10l12-5l12-9l37-40z" fill="#09fff6"/>
<path d="M60 20l159 0l1 24l4 16l4 8l4 4l4 3l4 0l12-2l16 1l7-2l8-4l21-14l16-6l16-3l12 2l8 2l8 4l8 7l7 8l3 8l2 8l0 8l-1 8l-4 12l-5 8l-22 28l-8 16l-4 4l-4 3l-16 5l-12 1l-12 0l-8-1l-8-2l-8-4l-8-6l-24-22l-4-3l-4-1l-4 1l-4 2l-32 22l-8 4l-8 2l-12 0l-36-5l-44 1l-20-3l-4-1l0-141zM386 276l2-2l0 174l-281 0l5-16l7-16l5-9l8-10l4-3l8-5l8-3l16-4l4-2l3-4l3-8l3-20l2-8l8-12l9-7l8-4l8-2l16-1l8 1l4 1l6 4l7 8l3 8l4 2l28-8l32-4l12-4l12-8l38-38z" fill="#00fcff"/>
<path d="M60 20l152 0l3 28l3 16l14 31l4 2l4-4l3-5l4-4l5-3l24-7l32-17l12-4l8-1l8 0l8 1l8 3l8 4l4 4l7 8l3 8l2 8l0 8l-1 8l-7 16l-20 28l-8 16l-8 5l-16 5l-12 2l-12-1l-8-1l-8-4l-9-6l-13-12l-13-16l-5-9l-4-3l-10 12l-14 13l-16 10l-8 3l-8 3l-12 0l-36-5l-40 1l-24-4l-4-1l0-136zM386 284l2-2l0 166l-279 0l7-20l5-12l7-11l8-8l8-5l8-2l8-1l16 1l4-3l2-7l1-28l3-12l4-8l3-4l7-6l8-4l8-2l16-1l8 1l8 4l3 4l4 8l1 8l1 4l3 1l4 0l16-8l8-2l36-5l8-2l8-3l8-5l8-7l30-29z" fill="#00f1ff"/>
<path d="M60 20l146 0l5 40l10 32l3 16l-2 16l-6 12l-7 8l-13 9l-12 6l-12 2l-12 0l-32-4l-40 0l-16-3l-12-3l0-131zM313 60l11-2l12 0l12 3l8 5l8 10l4 8l1 8l-1 12l-2 8l-4 8l-15 24l-8 16l-4 4l-11 5l-12 4l-12 1l-12-1l-8-3l-10-6l-9-8l-10-12l-5-8l-3-8l-1-12l0-8l7-16l3-4l4-3l23-9l21-11l13-5zM386 292l2-2l0 158l-277 0l7-20l5-12l5-8l8-8l8-5l8-2l12 1l16 5l6-3l2-4l1-8l-3-28l1-12l3-8l2-4l4-4l8-6l8-4l8-1l12-2l8 2l5 3l4 4l3 8l0 13l4 5l4 1l4-1l16-9l8-3l36-4l16-4l8-5l8-6l30-27z" fill="#00e5ff"/>
<path d="M60 20l141 0l5 40l9 32l3 16l-1 16l-3 8l-2 4l-8 8l-8 6l-12 5l-12 2l-12 0l-32-4l-24 1l-16-1l-16-3l-12-3l0-127zM314 64l10-1l12 1l8 2l8 6l7 8l3 8l1 8l-1 12l-6 16l-12 19l-7 13l-5 6l-12 6l-12 3l-12 1l-12-2l-8-4l-8-6l-11-12l-5-8l-4-8l-1-8l0-12l2-8l3-8l3-4l5-4l40-19l14-5zM386 300l2-2l0 150l-274 0l6-20l5-12l7-9l8-7l8-3l8 0l8 1l16 6l4 0l4-2l4-3l2-3l1-8l-6-32l0-12l3-8l2-4l4-4l6-5l12-5l12-2l8 1l7 3l4 4l2 4l1 4l0 12l1 4l1 3l4 3l4 1l8-3l12-7l8-4l8-1l24-1l12-2l8-2l8-4l10-7l28-24z" fill="#00daff"/>
<path d="M60 20l136 0l6 40l8 32l3 16l-1 16l-2 8l-3 4l-7 7l-8 5l-12 4l-12 2l-12-1l-28-3l-36 0l-16-3l-16-4l0-123zM314 68l10-1l8 1l8 3l8 5l6 8l3 8l1 8l-2 12l-7 16l-13 24l-6 8l-10 5l-12 4l-12 0l-12-1l-8-5l-8-6l-8-9l-5-8l-3-8l-2-8l0-8l2-8l5-12l4-4l5-4l30-14l18-6zM385 308l3-2l0 142l-272 0l5-16l4-12l7-10l8-7l8-3l8 0l8 2l12 5l8 1l8-1l5-3l2-4l2-8l-9-36l0-12l2-8l3-4l3-4l8-6l8-3l12-2l8 1l4 2l5 4l2 4l1 4l0 12l0 4l4 7l4 3l4 1l8-2l13-9l7-3l8-1l12 0l12 0l12-2l12-4l17-10l24-20z" fill="#00cfff"/>
<path d="M60 20l131 0l6 40l9 32l2 16l0 16l-2 8l-3 4l-7 6l-8 4l-12 3l-12 1l-32-3l-40-1l-16-3l-16-5l0-118zM312 72l8-1l8 1l8 3l8 5l6 8l2 8l1 8l-2 12l-5 12l-11 20l-6 8l-5 4l-8 4l-12 3l-12 0l-8-2l-8-4l-6-5l-7-8l-5-8l-3-8l-1-8l0-8l1-8l5-10l8-7l24-13l12-4l8-2zM385 316l3-2l0 134l-270 0l5-16l5-12l5-8l7-6l8-3l8 0l20 8l12 2l5-1l7-3l6-5l1-4l-1-8l-6-20l-6-24l1-8l4-8l3-4l6-5l8-3l12-2l8 1l4 2l4 5l3 6l-1 12l2 9l4 6l4 4l4 1l8-3l12-9l8-4l4-1l16 2l8 0l16-2l12-4l16-8l25-19z" fill="#00c3ff"/>
<path d="M60 20l126 0l7 40l9 32l2 12l0 16l-1 8l-3 6l-8 6l-8 4l-12 2l-12 1l-68-5l-16-3l-16-5l0-114zM309 76l11-1l8 2l8 3l5 4l5 8l2 7l0 9l-1 8l-5 12l-8 16l-5 8l-4 4l-6 4l-11 4l-12 1l-8-1l-4-1l-8-5l-7-6l-6-8l-4-8l-2-8l0-8l1-8l5-12l8-8l21-11l17-5zM220 320l8-1l4 0l4 1l5 4l3 4l1 4l0 16l3 10l4 7l4 4l4 1l8-4l20-14l4-1l12 3l12 0l16-3l12-3l20-10l24-17l0 127l-267 0l4-16l5-12l6-8l8-5l4-1l8 1l24 9l12 1l12-2l6-3l5-4l2-4l0-4l-9-16l-5-12l-6-20l-1-8l2-8l6-8l5-4l11-4z" fill="#00b8ff"/>
<path d="M60 20l121 0l9 44l8 28l2 12l0 16l-2 8l-2 4l-5 4l-11 5l-12 2l-12 1l-60-4l-20-5l-16-6l0-109zM305 80l11-1l8 1l8 3l4 3l5 6l3 8l0 8l-1 8l-3 8l-5 12l-7 12l-4 5l-8 5l-8 3l-12 2l-8-1l-5-2l-7-4l-10-12l-5-12l-2-8l1-8l4-12l8-9l16-9l17-6zM223 320l9 0l7 4l3 4l1 4l1 20l5 20l0 4l-2 4l-7 7l-4 3l-8 3l-8-3l-4-3l-6-7l-6-12l-6-20l1-8l1-4l4-6l8-6l11-4zM383 332l5-3l0 119l-264 0l4-16l4-11l4-5l8-6l4-1l8 1l20 8l12 3l12 1l12-3l32-13l8-5l4-5l5-16l3-4l12-11l12-9l4 0l8 2l8 1l12-1l16-3l12-3l12-6l23-14z" fill="#00adff"/>
<path d="M60 20l116 0l19 80l1 16l-1 8l-3 5l-3 3l-5 3l-8 3l-12 2l-12 0l-40-2l-16-2l-18-4l-18-7l0-105zM300 84l8-2l8 0l8 2l7 4l5 5l3 7l1 12l-2 8l-4 12l-7 12l-7 8l-6 4l-6 3l-8 1l-8 0l-8-2l-4-2l-8-8l-7-12l-3-8l0-8l3-12l7-10l12-8l16-6zM214 324l10-3l8 0l5 3l4 4l1 4l0 16l3 16l-1 8l-4 7l-8 6l-4 1l-4-1l-8-4l-4-4l-4-7l-7-18l-1-8l2-8l6-8l6-4zM387 336l1 0l0 112l-261 0l3-16l3-8l3-4l4-4l4-2l4-1l8 0l24 11l12 2l16 0l20-4l16-7l8-5l4-4l4-6l6-16l4-8l6-6l8-6l4-2l4 0l8 2l12 0l16-2l12-3l12-4l12-5l23-14z" fill="#00a2ff"/>
<path d="M60 20l112 0l17 68l3 12l0 16l-3 8l-3 4l-10 6l-12 3l-16 0l-28-1l-16-2l-16-3l-16-5l-12-6l0-100zM296 88l8-2l8 0l8 1l4 1l5 4l4 4l2 4l1 8l0 8l-2 8l-6 12l-5 8l-3 4l-8 6l-8 3l-8 1l-8-1l-4-2l-9-7l-8-12l-2-12l1-12l6-10l8-7l16-7zM216 324l8-2l4-1l4 1l4 2l3 4l2 4l1 36l-2 4l-4 5l-4 3l-4 1l-8-2l-7-7l-7-12l-4-12l0-8l4-8l4-4l6-4zM386 344l2-1l0 105l-258 0l2-12l4-11l4-6l4-2l4-1l8 1l24 11l16 4l16 0l19-4l9-3l8-5l10-8l8-12l7-20l6-8l5-3l4-2l4 0l12 2l12-1l24-4l23-8l23-12z" fill="#0096ff"/>
<path d="M60 20l107 0l7 24l14 52l0 16l-3 8l-2 4l-5 4l-6 3l-12 3l-16 0l-24-1l-16-2l-16-4l-16-6l-12-6l0-95zM292 92l8-2l8-1l12 2l4 2l4 4l4 7l1 4l-1 8l-1 8l-8 16l-7 8l-4 3l-4 2l-8 2l-8 0l-4-1l-8-5l-8-9l-4-12l0-12l4-9l8-9l12-6zM219 324l9-2l4 1l5 5l2 4l0 28l-1 8l-2 4l-4 3l-4 2l-4-1l-4-1l-4-3l-8-12l-4-12l0-8l4-8l4-4l7-4zM383 352l5-3l0 99l-255 0l3-14l4-10l4-3l4-1l8 1l28 13l12 3l20 0l12-2l10-3l14-7l8-7l4-5l5-9l7-20l4-7l4-3l4-2l4-1l20 2l24-3l24-7l23-11z" fill="#008bff"/>
<path d="M60 20l102 0l9 28l12 44l1 16l-2 8l-2 4l-8 6l-12 4l-16 1l-24-1l-16-2l-16-5l-16-6l-12-7l0-90zM304 92l12 1l4 2l4 4l3 5l2 4l-1 12l-4 12l-8 12l-5 4l-7 3l-4 1l-8 0l-8-3l-4-3l-5-6l-3-6l-2-6l1-12l3-8l8-8l10-5l12-3zM222 324l6-1l4 1l4 4l2 8l-1 28l-2 4l-3 3l-4 2l-4 0l-4-2l-4-4l-7-11l-3-8l0-8l4-8l4-4l8-4zM380 360l8-4l0 92l-251 0l4-16l3-5l4-2l8 1l24 11l16 5l20 1l12-2l8-2l16-8l8-6l5-5l7-12l9-24l3-5l4-3l4 0l24 1l20-2l20-5l24-10z" fill="#0080ff"/>
<path d="M60 20l96 0l12 29l11 39l1 16l-1 8l-3 5l-3 3l-5 4l-12 4l-16 1l-20-2l-16-2l-15-5l-17-8l-12-8l0-84zM297 96l11-1l8 2l4 3l3 4l2 4l0 8l-2 12l-8 12l-7 6l-4 2l-8 1l-8-1l-8-6l-6-10l-1-8l0-8l2-4l5-7l8-6l9-3zM216 328l8-3l4-1l6 4l2 4l1 8l-3 20l-2 7l-4 2l-6-1l-6-5l-5-7l-3-8l0-8l1-4l3-4l4-4zM385 364l3-1l0 85l-166 0l10-2l12-4l11-6l9-7l7-9l5-8l8-23l4-6l4-2l24 1l24-2l20-6l25-10zM146 436l2-2l4-2l4 1l24 10l20 5l-58 0l2-7l2-5z" fill="#0074ff"/>
<path d="M60 20l91 0l13 29l12 39l1 8l-1 8l-2 8l-3 4l-7 5l-12 4l-16 1l-20-2l-16-4l-12-5l-14-7l-14-10l0-78zM293 100l11-2l8 2l6 4l2 4l1 4l1 4l-1 8l-5 10l-8 8l-8 4l-8 0l-8-4l-5-6l-3-8l-1-8l3-8l6-7l9-5zM219 328l5-2l4 0l4 2l3 4l0 8l-2 16l-1 4l-4 5l-4 0l-4-2l-6-7l-4-8l0-8l1-4l3-4l5-4zM382 372l6-3l0 79l-143 0l15-9l12-11l8-12l11-24l1-2l3-2l29-1l16-2l20-5l22-8zM154 444l2-1l4 0l15 5l-25 0l4-4z" fill="#0069ff"/>
<path d="M60 20l85 0l7 13l8 17l12 34l1 8l0 8l-2 8l-3 5l-8 6l-8 2l-16 2l-16-2l-16-3l-14-6l-14-8l-10-8l-6-5l0-71zM291 104l9-2l8 1l4 2l3 3l2 4l1 8l-2 7l-3 5l-5 6l-8 4l-8 0l-4-1l-5-5l-4-8l-1-8l2-6l4-5l7-5zM222 328l2-1l6 1l3 4l1 4l-1 8l-2 8l-3 7l-4 1l-4-2l-4-4l-3-6l-1-4l1-8l3-4l6-4zM388 376l0 72l-131 0l11-8l8-8l9-12l11-20l4-3l8-2l20-2l20-4l20-6l20-7z" fill="#005eff"/>
<path d="M60 20l78 0l10 15l8 15l11 30l2 8l1 8l-2 8l-4 7l-7 5l-9 3l-12 1l-16-2l-12-3l-12-5l-12-6l-10-8l-14-14l0-62zM290 108l6-3l8 1l5 2l4 4l1 8l-2 8l-4 5l-4 4l-4 1l-8 0l-4-2l-4-4l-2-4l-1-8l1-4l3-4l5-4zM218 332l6-3l4 0l3 3l1 3l0 5l-2 8l-2 4l-4 3l-4-1l-2-2l-2-3l-2-5l0-4l1-4l3-4zM384 384l4-2l0 66l-121 0l9-7l8-9l16-23l7-5l9-3l40-8l28-9z" fill="#0052ff"/>
<path d="M60 20l69 0l11 13l8 12l8 15l7 16l3 12l0 8l-2 8l-3 4l-5 4l-12 4l-12 0l-12-1l-12-4l-12-5l-9-6l-10-8l-11-12l-6-9l0-51zM289 112l7-3l4 0l4 1l4 4l2 6l-1 4l-2 4l-3 4l-4 2l-4 1l-4-1l-4-3l-4-7l1-4l1-4l3-4zM221 332l3-1l4 0l2 5l0 4l-2 6l-4 4l-4-1l-3-5l-1-4l1-4l4-4zM380 392l8-3l0 59l-111 0l8-8l19-22l8-6l9-4l35-8l24-8z" fill="#0047ff"/>
<path d="M67 20l51 0l10 8l8 9l8 11l8 13l5 11l5 12l1 8l-2 8l-2 4l-7 6l-7 2l-9 1l-12-1l-12-3l-10-5l-17-12l-8-8l-6-8l-4-8l-5-12l-2-12l1-8l2-8l4-8zM291 116l5-2l4 0l3 2l1 4l0 3l-3 5l-5 2l-5-2l-2-4l-1-4l3-4zM220 336l4-3l4 3l-1 4l-3 4l-4-2l-1-2l1-4zM377 400l11-4l0 52l-102 0l22-22l12-9l12-4l45-13z" fill="#003cff"/>
<path d="M87 24l5-1l8 0l12 4l8 5l8 6l12 13l12 18l6 15l1 8l-1 4l-1 4l-4 4l-5 3l-8 2l-12 0l-8-2l-8-3l-12-7l-14-13l-6-8l-4-8l-4-12l0-8l1-8l3-7l4-5l7-4zM385 404l3-1l0 45l-92 0l16-15l14-9l14-6l45-14z" fill="#0030ff"/>
<path d="M91 40l5-3l4 0l8 0l12 5l12 10l12 13l8 15l3 8l0 4l-1 4l-3 4l-7 4l-4 0l-12 0l-8-2l-8-4l-13-10l-9-12l-4-8l-2-8l0-8l1-4l2-4l4-4zM383 412l5-2l0 38l-81 0l13-11l12-7l15-6l36-12z" fill="#0025ff"/>
<path d="M107 52l5 0l8 2l8 5l8 7l8 10l4 8l1 8l-3 4l-6 3l-12-1l-12-5l-10-9l-6-9l-2-11l0-4l2-4l4-3l3-1zM382 420l6-2l0 30l-69 0l9-6l12-6l42-16z" fill="#001aff"/>
<path d="M119 72l5 0l8 4l4 4l1 4l0 4l-5 1l-4-1l-6-4l-3-4l-1-4l1-4zM381 428l7-3l0 23l-54 0l18-9l29-11z" fill="#000eff"/>
<path d="M381 436l7-3l0 15l-36 0l29-12z" fill="#0003ff"/>
<path d="M382 444l6-2l0 6l-16 0l10-4z" fill="#0000f6"/>
<g fill="none" stroke="#000" stroke-width="0.9">
<path d="M60 409l12-17l3-8l0-8l0-8l-4-12l-3-8l-8-12"/>
<path d="M60 429l16-21l8-12l4-12l1-16l-1-16l-6-16l-7-12l-15-16"/>
<path d="M252 211l-6 5l-2 5l-2 7l-3 28l1 8l2 4l5 4l9 2l32 3l16-1l8-3l4-3l3-6l1-20l-3-12l-5-7l-4-3l-8-3l-24-4l-16-4l-8 0M61 448l23-34l10-18l6-20l3-24l-1-16l-3-8l-4-8l-13-16l-22-22"/>
<path d="M232 188l-4 5l-2 7l-3 44l-3 12l-6 12l-11 12l-3 4l1 4l4 4l7 2l4 0l28-4l28 2l16 0l12-2l10-2l6-3l7-5l3-4l4-8l5-24l0-8l-1-8l-2-6l-4-6l-6-4l-6-2l-40-9l-32-13l-8-1l-4 1M74 448l22-38l10-22l13-36l3-12l1-12l-3-12l-5-8l-31-29l-24-26"/>
<path d="M86 448l30-59l8-15l25-38l6-8l5-6l8-5l8-4l20-7l28-1l12-3l8-1l28 4l12 0l24-4l12-4l7-5l4-4l6-8l4-8l10-24l7-28l1-8l-2-8l-4-4l-5-2l-32-1l-28-4l-16-5l-28-15l-8-2l-8 1l-9 4l-3 4l-4 8l-5 32l-1 24l-3 8l-5 4l-6 2l-28 4l-8 4l-16 9l-12 2l-12-2l-12-8l-10-11l-22-29l-12-12"/>
<path d="M258 20l2 5l4 7l4 3l4 1l8-3l23-13M388 150l-12 7l-18 15l-6 4l-16 6l-16 3l-24 0l-16-3l-12-6l-24-16l-8-3l-4-1l-8 1l-13 7l-12 12l-11 15l-4 3l-4 1l-8-1l-20-7l-12-3l-12 0l-24 2l-16 0l-12-1l-16-4M98 448l13-32l13-22l8-10l24-21l5-7l15-24l7-8l5-4l8-4l8-3l32-4l12 2l16 7l4 1l8 1l36-6l12-3l12-7l8-8l32-44l12-15"/>
<path d="M212 20l3 28l3 16l14 31l4 2l4-4l3-5l4-4l5-3l24-7l28-15l16-6l16-1l12 2l12 6l8 8l5 8l2 8l1 8l-1 12l-7 16l-20 28l-5 12l-3 4l-5 4l-7 3l-16 4l-16 1l-8-1l-8-3l-12-7l-10-9l-14-16l-6-8l-2-5l-4-3l-10 12l-14 13l-16 10l-8 3l-8 3l-12 0l-36-5l-40 1l-16-2l-12-3M109 448l7-20l5-12l7-11l8-8l8-5l8-2l8-1l16 1l4-3l2-7l1-28l3-12l4-8l3-4l7-6l8-4l8-2l16-1l8 1l8 4l3 4l4 8l1 8l1 4l3 1l4 0l16-8l8-2l36-5l8-2l8-3l8-5l8-7l32-31"/>
<path d="M186 20l7 40l9 32l2 16l0 16l-3 8l-3 4l-6 4l-12 5l-8 1l-12 1l-68-5l-16-3l-16-5M309 76l11-1l8 2l8 3l5 4l5 8l2 7l0 9l-1 8l-5 12l-8 16l-5 8l-4 4l-6 4l-11 4l-12 1l-8-1l-4-1l-8-5l-7-6l-6-8l-4-8l-2-8l0-8l1-8l5-12l8-8l21-11l17-5M121 448l4-16l5-12l6-8l8-5l4-1l8 1l24 9l12 1l12-2l6-3l5-4l2-4l0-4l-13-25l-6-19l-2-8l1-8l4-8l3-4l8-5l8-3l8-1l7 1l6 4l3 4l1 4l0 16l3 10l4 7l4 4l4 1l8-4l20-14l4-1l12 3l12 0l16-3l12-3l20-10l24-17"/>
<path d="M162 20l10 30l10 34l2 12l0 8l-1 8l-3 8l-4 4l-8 4l-12 3l-16 0l-24-1l-16-3l-12-4l-16-6l-12-7M304 92l12 1l4 2l4 4l3 5l2 4l-1 12l-4 12l-8 12l-5 4l-7 3l-4 1l-8 0l-8-3l-4-3l-5-6l-3-6l-2-6l1-12l3-8l8-8l10-5l12-3M222 324l6-1l4 1l4 4l2 8l-1 28l-2 4l-3 3l-4 2l-4 0l-4-2l-4-4l-7-11l-3-8l0-8l4-8l4-4l8-4M137 448l4-16l3-5l4-2l8 1l28 13l16 3l20 0l12-2l8-2l12-7l8-6l5-5l7-12l9-24l3-5l4-3l4 0l24 1l24-3l24-7l24-11"/>
<path d="M129 20l11 13l8 12l8 15l8 20l2 12l-1 8l-4 8l-5 4l-12 4l-12 0l-12-1l-16-5l-16-9l-11-9l-11-12l-6-9M289 112l7-3l4 0l4 1l4 4l2 6l-1 4l-2 4l-3 4l-4 2l-4 1l-4-1l-4-3l-4-7l1-4l1-4l3-4M221 332l3-1l4 0l2 5l0 4l-2 6l-4 4l-4-1l-3-5l-1-4l1-4l4-4M277 448l8-8l19-22l8-6l9-4l43-11l24-8"/>
<path d="M119 72l5 0l8 4l4 4l1 4l0 4l-5 1l-4-1l-6-4l-3-4l-1-4l1-4M334 448l18-9l36-14"/>
</g>
</g>
<g style="font-family:&quot;Liberation Sans&quot;,sans-serif;font-weight:bold;font-size:11px" text-anchor="middle">
<text transform="translate(178,72) rotate(74)" y="4">375</text>
<text transform="translate(200,135) rotate(-52)" y="4">350</text>
<text transform="translate(168,165) rotate(0)" y="4">325</text>
<text transform="translate(151,186) rotate(16)" y="4">300</text>
<text transform="translate(293,120) rotate(-60)" y="4">400</text>
<text transform="translate(321,136) rotate(-58)" y="4">375</text>
<text transform="translate(283,163) rotate(23)" y="4">350</text>
<text transform="translate(340,165) rotate(-45)" y="4">325</text>
<text transform="translate(236,122) rotate(67)" y="4">325</text>
<text transform="translate(217,178) rotate(-48)" y="4">275</text>
<text transform="translate(234,186) rotate(-13)" y="4">250</text>
<text transform="translate(280,182) rotate(20)" y="4">300</text>
<text transform="translate(347,197) rotate(8)" y="4">27</text>
<text transform="translate(259,210) rotate(6)" y="4">225</text>
<text transform="translate(319,268) rotate(-63)" y="4">225</text>
<text transform="translate(331,263) rotate(-76)" y="4">250</text>
<text transform="translate(338,278) rotate(-62)" y="4">275</text>
<text transform="translate(346,293) rotate(-51)" y="4">300</text>
<text transform="translate(204,253) rotate(-54)" y="4">275</text>
<text transform="translate(212,295) rotate(9)" y="4">250</text>
<text transform="translate(218,305) rotate(-0)" y="4">275</text>
<text transform="translate(225,312) rotate(-6)" y="4">300</text>
<text transform="translate(229,323) rotate(11)" y="4">375</text>
<text transform="translate(200,361) rotate(71)" y="4">350</text>
<text transform="translate(183,364) rotate(89)" y="4">325</text>
<text transform="translate(123,376) rotate(-59)" y="4">275</text>
<text transform="translate(129,387) rotate(-50)" y="4">300</text>
<text transform="translate(150,406) rotate(-5)" y="4">350</text>
</g>
<path d="M264.9,35.3 L268.5,39.0 L274.5,50.7 L278.9,56.7 L286.3,74.4 L293.6,87.7 L305.5,103.9 L323.1,121.6 L326.1,128.9 L332.0,140.7 L345.3,161.4 L348.2,171.7 L352.6,179.1 L352.6,187.9 L357.2,206.0 L356.4,212.9 L352.9,223.2 L353.8,238.7 L350.4,252.5 L350.4,264.5 L352.9,267.9 L351.2,271.4 L354.7,274.8 L363.3,268.8 L365.0,273.1 L361.5,286.9 L358.1,302.3 L354.7,316.1 L349.5,323.0 L347.8,333.3 L339.2,345.3 L332.3,353.9 L323.7,359.1 L315.1,357.4 L304.8,357.4 L294.5,353.9 L285.9,350.5 L275.5,359.1 L268.7,364.3 L263.5,367.7 L251.5,368.6 L238.3,362.1 L222.6,368.6 L214.8,371.2 L204.3,372.5 L196.8,380.0 L191.6,387.0 L182.8,394.0 L168.9,399.2 L156.7,411.4 L142.7,414.9 L139.2,406.2 L128.7,421.9 L119.3,428.4 L115.2,424.3 L116.5,410.5 L123.4,399.4 L113.8,391.2 L108.3,382.9 L112.4,365.0 L111.0,353.9 L105.5,342.9 L108.3,333.3 L111.0,326.4 L114.6,321.6 L122.5,298.0 L134.3,290.1 L128.4,282.3 L138.2,274.4 L126.4,278.3 L128.4,270.5 L118.5,260.6 L120.5,246.9 L116.6,235.1 L110.7,239.0 L104.8,235.1 L100.8,219.4 L89.1,213.5 L85.1,203.6 L91.0,195.8 L99.9,191.8 L102.8,185.9 L112.6,189.9 L116.6,180.0 L122.5,184.0 L138.2,187.9 L150.0,192.8 L144.1,187.9 L142.1,178.1 L146.1,170.2 L138.2,168.3 L142.1,160.4 L136.2,155.5 L132.3,150.6 L126.4,138.8 L120.5,127.0 L105.8,125.0 L104.8,111.3 L110.7,108.3 L118.5,111.3 L132.3,105.4 L138.2,97.5 L142.1,85.7 L152.3,78.1 L158.8,69.9 L168.7,61.7 L181.8,60.9 L201.4,62.6 L222.7,60.9 L239.1,62.6 L247.3,60.9 L255.5,56.8 L260.4,50.3 L262.0,42.1Z" fill="none" stroke="#000" stroke-width="1"/>
<path d="M158,71 172,79 190,82 202,95 206,105 200,111 202,122 210,128 224,134 222,148 217,164M217,164 220,170 229,170 233,163 241,166 253,163 265,168 273,174 286,176 300,173 314,179 332,178 347,171M217,164 198,181 180,193 165,191 147,193 143,205M180,193 190,207 180,217 184,232 198,238 200,254 206,264 208,274M273,174 279,183 273,195 265,201 249,201 229,215 225,250 239,252 233,266 218,272 208,274M143,134 149,124 163,120 168,128 170,140 163,144 149,144 143,138 143,134M127,278 151,264 165,270 180,268 202,256M115,279 127,281 147,265 167,267 182,271 198,256 204,271 210,273 227,275M227,275 229,285 214,295 208,303 206,316 210,324M227,285 241,291 253,301 265,311 284,314 302,314 314,309 328,303 355,307M277,285 282,277 292,275 299,283 298,293 288,297 279,293 277,285M115,338 127,336 143,326 157,324 163,336 174,338 194,334 202,336 210,324M210,324 204,340 208,356 214,370M129,352 135,348 155,349 162,356 155,364 135,364 129,358 129,352M316,352 324,344 332,344 337,350 336,356" fill="none" stroke="#000" stroke-width="1.4" stroke-linejoin="round"/>
</g>
<g transform="translate(196.5,607.8)">
<line x1="75.4" y1="0" x2="75.4" y2="458.60000000000014" stroke="#bdbdbd" stroke-width="1" stroke-dasharray="1.6,1.6"/>
<line x1="196.6" y1="0" x2="196.6" y2="458.60000000000014" stroke="#bdbdbd" stroke-width="1" stroke-dasharray="1.6,1.6"/>
<line x1="318.9" y1="0" x2="318.9" y2="458.60000000000014" stroke="#bdbdbd" stroke-width="1" stroke-dasharray="1.6,1.6"/>
<line x1="440.1" y1="0" x2="440.1" y2="458.60000000000014" stroke="#bdbdbd" stroke-width="1" stroke-dasharray="1.6,1.6"/>
<line x1="0" y1="138.2" x2="454.79999999999995" y2="138.2" stroke="#bdbdbd" stroke-width="1" stroke-dasharray="1.6,1.6"/>
<line x1="0" y1="275.1" x2="454.79999999999995" y2="275.1" stroke="#bdbdbd" stroke-width="1" stroke-dasharray="1.6,1.6"/>
<line x1="0" y1="411.6" x2="454.79999999999995" y2="411.6" stroke="#bdbdbd" stroke-width="1" stroke-dasharray="1.6,1.6"/>
<path d="M0 458.60000000000014H454.79999999999995V0" fill="none" stroke="#8a8a8a" stroke-width="1.6"/>
<path d="M0 0H454.79999999999995" fill="none" stroke="#c4c4c4" stroke-width="1.6"/>
<path d="M0 0V458.60000000000014" fill="none" stroke="#ececec" stroke-width="1.6"/>
<g clip-path="url(#kc)">
<rect x="60" y="20" width="330" height="430" fill="#be0000"/>
<path d="M60 20l328 0l0 428l-328 0l0-39l2-13l-2-17l0-359z" fill="#c90000"/>
<path d="M60 20l328 0l0 428l-328 0l0-25l4-19l1-8l-1-12l-4-18l0-346z" fill="#d50000"/>
<path d="M60 20l328 0l0 428l-328 0l0-12l7-32l1-12l-2-16l-6-22l0-334z" fill="#e00000"/>
<path d="M60 20l328 0l0 428l-327 0l9-44l1-12l-3-20l-8-28l0-324z" fill="#eb0000"/>
<path d="M60 20l328 0l0 428l-324 0l2-16l6-28l1-12l-1-12l-4-20l-8-25l0-315z" fill="#f70000"/>
<path d="M60 20l328 0l0 428l-322 0l4-20l6-28l0-8l-2-16l-4-20l-4-16l-6-14l0-306z" fill="#ff0300"/>
<path d="M60 20l328 0l0 428l-319 0l3-20l6-28l0-8l-2-21l-4-20l-4-15l-8-18l0-298z" fill="#ff0e00"/>
<path d="M60 20l328 0l0 428l-316 0l2-20l6-28l1-8l-3-24l-4-24l-6-16l-8-17l0-291z" fill="#ff1a00"/>
<path d="M60 20l328 0l0 428l-314 0l3-20l5-28l1-8l-3-29l-4-23l-6-16l-10-20l0-284z" fill="#ff2500"/>
<path d="M60 20l328 0l0 428l-311 0l2-20l6-32l-3-36l-2-16l-4-16l-5-12l-11-20l0-276z" fill="#ff3000"/>
<path d="M60 20l328 0l0 428l-309 0l2-20l6-32l-1-20l-2-28l-2-12l-4-12l-5-12l-13-23l0-269z" fill="#ff3c00"/>
<path d="M60 20l328 0l0 428l-306 0l1-20l5-28l1-8l-2-32l-1-20l-3-12l-4-12l-19-34l0-262z" fill="#ff4700"/>
<path d="M60 20l328 0l0 428l-304 0l1-20l5-36l0-40l-1-16l-3-12l-3-8l-23-42l0-254zM276 243l-2 5l0 4l2 3l8 5l4 1l4 0l2-1l1-4l-1-4l-1-4l-4-4l-5-3l-4 0l-4 2z" fill="#ff5200"/>
<path d="M60 20l328 0l0 428l-301 0l1-20l4-40l1-40l-2-16l-4-16l-19-34l-8-17l0-245zM284 232l-8 1l-4 3l-4 4l-4 8l-1 8l2 4l3 4l4 3l10 5l14 4l4 0l4-2l4-5l1-5l-1-8l-3-8l-5-7l-4-4l-4-3l-8-2z" fill="#ff5e00"/>
<path d="M60 20l328 0l0 428l-299 0l1-20l4-44l2-44l-1-12l-3-8l-3-8l-18-32l-6-12l-5-14l0-234zM276 227l-8 4l-4 4l-6 9l-2 4l-1 8l1 8l3 4l5 4l20 8l16 3l8-2l4-4l3-5l1-8l-2-12l-5-12l-7-8l-6-4l-4-2l-8-1l-8 2z" fill="#ff6900"/>
<path d="M60 20l328 0l0 428l-296 0l0-20l4-40l3-48l-1-12l-1-8l-4-8l-16-28l-8-16l-4-12l-5-18l0-218zM280 219l-8 3l-8 6l-5 4l-6 8l-3 8l-2 8l0 10l2 6l5 4l5 2l28 8l12 2l8-2l4-2l4-4l4-8l2-4l0-4l-1-8l-5-16l-4-8l-8-8l-12-5l-12 0z" fill="#ff7400"/>
<path d="M60 20l328 0l0 428l-294 0l0-28l8-80l0-12l-1-8l-3-8l-18-29l-9-19l-5-16l-6-31l0-197zM276 215l-8 4l-8 6l-7 7l-5 7l-4 9l-3 16l-4 12l1 4l54 11l8 1l8-2l8-5l5-5l5-8l2-8l-1-8l-9-28l-2-4l-4-4l-12-6l-12-1l-12 2z" fill="#ff8000"/>
<path d="M60 20l328 0l0 428l-291 0l-1-16l0-16l6-56l4-24l0-12l-3-12l-19-29l-9-19l-5-16l-4-32l-3-8l-3-5l0-183zM284 208l-12 3l-8 5l-8 6l-8 9l-6 9l-6 20l-4 8l-4 3l-13 9l-4 4l-3 8l2 4l2 2l4 1l20-9l12-2l20 2l24 5l12 1l8-3l4-3l9-10l7-12l1-8l-4-20l-3-20l-2-7l-4-3l-8-2l-16-1l-12 1z" fill="#ff8b00"/>
<path d="M60 20l328 0l0 428l-289 0l-1-20l0-16l7-52l5-28l1-12l-1-4l-4-8l-17-24l-9-16l-6-20l-2-36l-3-8l-9-11l0-173zM332 191l-16 6l-28 4l-12 3l-12 7l-8 6l-8 8l-9 11l-3 8l-3 12l-5 8l-4 4l-12 8l-8 8l-2 8l0 4l2 4l4 4l4 1l4-1l12-6l8-3l12-2l16 1l28 5l8 1l8-1l8-5l17-18l3-5l2-7l0-8l-3-20l0-8l2-8l8-16l2-8l-1-4l-2-3l-4-1l-8 3z" fill="#ff9600"/>
<path d="M60 20l328 0l0 428l-286 0l-2-20l0-20l7-48l8-32l1-12l-4-8l-19-24l-9-16l-4-12l-2-12l1-36l-3-6l-4-6l-12-10l0-166zM332 183l-20 7l-28 6l-8 3l-12 6l-12 10l-9 9l-7 10l-7 22l-3 4l-6 5l-12 8l-4 3l-4 6l-3 10l1 8l2 4l7 4l5 1l4-1l16-9l8-2l8 0l16 0l28 6l12 1l8-2l8-6l17-20l5-8l1-12l-2-16l0-8l3-7l10-17l3-8l-1-8l-1-4l-4-4l-7-3l-4 0l-8 2z" fill="#ffa200"/>
<path d="M60 20l328 0l0 428l-284 0l-2-24l0-20l9-48l10-32l1-8l0-4l-2-4l-20-20l-6-8l-5-8l-5-12l-1-8l-1-12l1-12l4-20l-2-8l-7-8l-18-13l0-159zM340 176l-8 1l-24 8l-24 5l-8 3l-12 7l-12 9l-10 11l-6 8l-5 8l-7 20l-4 4l-16 10l-4 4l-4 6l-3 8l-1 8l1 4l3 6l2 2l6 3l8 0l4 0l16-9l8-2l20 0l36 7l8 1l8-2l8-5l21-25l5-8l2-12l-1-16l1-6l3-6l9-16l4-12l0-8l-4-8l-4-4l-4-2l-4-2l-8 0z" fill="#ffad00"/>
<path d="M60 20l328 0l0 428l-281 0l-3-16l-1-12l1-12l1-12l9-44l6-15l10-21l1-4l-1-4l-3-4l-15-10l-12-12l-7-10l-5-12l-2-12l0-12l2-12l6-16l1-4l-1-4l-2-4l-4-4l-28-19l0-153zM336 172l-28 7l-24 5l-8 3l-12 7l-12 9l-12 13l-8 11l-12 27l-4 4l-16 10l-7 8l-4 8l-2 8l1 8l1 4l3 4l6 4l10 2l8-1l16-8l12-2l20 1l40 8l8-1l4-1l4-3l12-16l14-15l4-8l3-8l3-24l13-24l3-12l-1-8l-1-4l-4-8l-5-4l-5-3l-8-2l-12 1z" fill="#ffb800"/>
<path d="M60 20l328 0l0 428l-278 0l-4-20l-1-16l2-12l7-36l3-12l5-12l6-9l12-15l2-4l0-4l0-4l-5-4l-13-4l-12-7l-8-7l-7-10l-4-8l-3-8l-1-8l0-8l2-8l2-8l8-16l1-8l-2-4l-7-8l-33-21l0-147zM332 168l-24 6l-24 4l-8 2l-12 7l-12 10l-20 23l-5 8l-7 17l-4 7l-4 3l-16 10l-8 10l-4 9l-1 12l1 8l1 4l3 3l8 4l12 1l8-2l16-7l12-2l16 2l48 9l8 0l4-2l4-5l11-17l12-12l8-12l3-8l5-20l12-24l3-8l1-8l0-8l-3-8l-4-6l-6-6l-6-3l-8-2l-8-1l-12 2z" fill="#ffc300"/>
<path d="M60 20l328 0l0 428l-275 0l-5-23l-1-17l2-12l9-36l4-12l4-8l6-7l15-13l3-4l2-4l0-4l-1-4l-3-4l-4-3l-20-6l-8-4l-8-6l-7-9l-4-8l-3-8l-1-8l0-8l3-12l11-20l1-8l0-4l-4-6l-7-6l-37-22l0-142zM264 87l-8 7l-4 6l-1 4l-1 4l1 4l5 3l4 1l8-4l4-5l4-7l1-8l-1-4l-4-3l-4 0l-4 2zM332 163l-24 6l-24 1l-8 2l-12 7l-12 11l-20 22l-5 8l-5 8l-6 16l-3 4l-5 4l-14 8l-4 4l-5 8l-6 12l-2 8l0 12l1 4l2 4l4 4l4 1l8 2l8 0l12-3l16-7l12-1l12 1l32 7l28 7l4-1l4-3l12-23l16-16l8-12l11-28l12-24l2-8l1-8l-1-12l-3-8l-6-8l-5-4l-8-4l-11-2l-8 0l-12 1z" fill="#ffcf00"/>
<path d="M60 20l328 0l0 156l-6-8l-6-5l-8-4l-12-2l-16 0l-32 6l-8 0l-20-1l-4 0l-8 4l-12 11l-30 35l-7 12l-6 16l-5 7l-4 3l-12 5l-5 5l-10 16l-9 24l-4 1l-18-9l-18-4l-8-3l-8-5l-8-9l-5-11l-3-12l1-8l3-11l14-25l1-8l-1-4l-2-4l-8-6l-28-15l-16-11l0-136zM284 55l-8 4l-12 8l-12 14l-6 11l-4 12l0 8l2 4l3 4l5 4l4 2l8 1l8-2l9-9l9-16l9-24l2-12l-2-4l-3-3l-4-2l-8 0zM387 224l1-2l0 226l-272 0l-4-14l-2-14l-1-12l1-8l13-48l5-9l8-8l8-4l20-10l8-1l16 3l12-1l12-3l20-8l8-1l12 1l20 5l20 4l24 8l4 1l2-1l5-4l3-4l10-24l14-12l10-12l23-48z" fill="#ffda00"/>
<path d="M60 20l328 0l0 144l-11-8l-13-4l-16 0l-28 5l-12 1l-12-2l-8-4l-6-4l-4-4l0-4l4-8l14-22l14-26l5-12l1-12l-1-8l-2-4l-5-6l-4-2l-4-2l-8-1l-12 3l-8 5l-8 7l-12 14l-10 18l-5 16l0 12l2 8l2 4l7 7l15 9l4 4l0 4l-4 8l-31 41l-13 15l-4 8l-7 20l-4 4l-4 3l-8 2l-4 2l-4 4l-16 27l-4 4l-4 2l-8 0l-20-3l-8-2l-11-7l-7-8l-4-8l-2-12l0-8l4-11l5-9l15-20l1-4l0-4l-2-4l-10-8l-33-16l-20-13l0-131zM387 240l1-1l0 209l-269 0l-7-24l-1-12l0-8l14-48l4-8l7-7l12-5l20-4l36-9l8-2l16-8l8-1l12 1l20 6l24 4l24 10l4 0l4 0l4-3l5-6l10-24l17-16l10-12l17-32z" fill="#ffe500"/>
<path d="M60 20l328 0l0 133l-12-5l-8-2l-8-1l-16 2l-24 5l-8 0l-8-1l-5-3l-4-4l-2-4l1-8l10-19l20-33l3-8l2-8l0-12l-2-8l-4-8l-3-4l-8-6l-8-3l-8-1l-8 1l-8 3l-12 8l-12 12l-12 18l-7 16l-5 20l-1 8l1 8l4 12l4 6l9 10l2 4l0 4l-5 12l-14 21l-8 10l-14 13l-2 4l-3 8l-2 12l-3 8l-12 4l-4 2l-5 6l-11 20l-4 5l-4 3l-8 3l-8 0l-12-1l-8-3l-5-3l-7-6l-4-6l-3-8l-2-8l1-8l3-8l5-10l4-4l8-8l8-4l4-1l8 1l16 13l4 1l8-1l7-3l4-4l3-4l1-4l0-4l-2-4l-2-4l-7-4l-16-4l-20-1l-16-5l-40-17l-12-7l-12-8l0-126zM386 256l2-3l0 195l-265 0l-5-12l-3-12l-2-12l0-8l15-46l4-8l4-4l4-2l8-2l16-1l8-1l52-24l4-1l8-1l12 1l20 8l24 4l24 10l4 0l7-1l5-3l5-5l11-25l23-23l15-24z" fill="#fff100"/>
<path d="M60 20l207 0l-11 11l-9 13l-9 16l-7 20l-4 20l0 16l2 12l7 16l2 8l-1 4l-3 8l-4 8l-6 8l-8 7l-4 2l-8 0l-8-3l-16-8l-12-4l-12-2l-24 0l-12-2l-16-5l-16-7l-16-9l-12-9l0-120zM329 20l59 0l0 123l-12-4l-16-1l-16 2l-20 5l-8 1l-8-2l-4-4l-1-4l2-8l7-12l15-20l8-12l4-8l3-12l1-12l-2-12l-5-12l-7-8zM127 216l5-2l4 0l8 3l24 15l5 4l1 4l0 4l-5 16l-5 8l-4 5l-4 3l-4 2l-8 1l-8 0l-8-2l-8-4l-4-4l-6-9l-3-12l2-12l3-6l4-6l4-4l7-4zM387 268l1-2l0 182l-261 0l-6-12l-3-12l-3-12l0-8l13-37l4-9l5-6l3-2l8-2l20 0l4-1l25-15l27-14l8-2l8 0l8 2l20 11l20 0l8 2l20 9l8 1l4-1l8-4l4-4l5-8l7-16l3-4l20-20l12-16z" fill="#fffc00"/>
<path d="M60 20l193 0l-9 13l-6 11l-6 15l-5 17l-4 20l-1 16l0 12l3 20l0 8l-2 8l-6 8l-5 4l-4 2l-8 0l-24-7l-12-3l-12-1l-24 2l-12-1l-12-3l-16-7l-16-10l-12-9l0-115zM348 20l40 0l0 111l-12-3l-12-1l-24 4l-16 5l-8 1l-1-1l0-4l1-4l28-32l7-12l4-12l2-12l0-16l-3-12l-6-12zM122 224l6-3l4 0l8 1l8 4l8 6l7 8l3 8l-2 8l-4 9l-8 7l-8 3l-12-1l-8-3l-8-7l-4-8l-1-12l4-12l5-6l2-2zM386 280l2-3l0 171l-257 0l-7-14l-4-10l-2-16l2-11l10-25l6-12l4-4l8-2l24 0l8-5l17-13l12-8l15-9l8-2l8 1l8 3l10 7l6 7l4 3l12-4l8-1l8 2l12 6l8 3l8 1l8-2l6-3l6-5l5-7l11-20l26-28z" fill="#f7ff08"/>
<path d="M60 20l182 0l-10 20l-8 24l-3 16l-3 20l-2 40l-2 8l-5 8l-5 3l-8 2l-40-5l-24 4l-16-1l-12-3l-16-7l-15-9l-13-11l0-109zM365 20l23 0l0 95l-11-7l-4-4l-2-4l0-8l2-24l0-16l-3-16l-5-16zM127 228l5-1l4 0l8 4l8 5l6 8l1 8l-2 8l-3 4l-6 5l-8 2l-8 0l-8-4l-6-7l-3-8l1-10l4-9l4-4l3-1zM388 288l0-1l0 161l-252 0l-4-6l-5-10l-5-12l-1-8l0-8l13-32l6-8l4-3l8-2l16 0l8-2l8-5l18-16l11-8l11-7l8-2l7 1l5 2l8 6l5 8l2 16l1 3l4 3l4-2l4-4l7-12l5-3l4 0l4 0l16 8l8 3l8 1l8-1l9-4l9-8l16-24l22-24z" fill="#ebff14"/>
<path d="M60 20l172 0l-6 16l-6 20l-4 20l-6 52l-2 8l-4 7l-4 4l-8 3l-8 1l-32-1l-20 5l-12 0l-12-2l-12-4l-12-7l-14-10l-10-9l0-103zM380 20l8 0l0 28l-4-16l-4-12zM126 236l6-2l8 1l7 5l3 4l2 4l0 8l-2 4l-4 4l-6 3l-8 0l-5-3l-4-4l-2-4l-1-8l2-8l4-4zM386 300l2-2l0 150l-246 0l-6-8l-7-12l-5-16l0-8l8-20l8-13l4-4l7-3l21-1l8-3l4-2l7-6l20-20l13-9l8-2l8 2l7 5l3 4l3 8l-1 32l2 4l2 0l16-14l12-18l4-2l4 0l20 9l8 2l12-1l12-4l6-4l8-8l14-20l14-16z" fill="#e0ff1f"/>
<path d="M60 20l163 0l-5 16l-4 20l-5 44l-3 16l-4 12l-5 8l-5 4l-8 2l-32 3l-20 5l-12 1l-12-2l-12-5l-12-7l-12-9l-12-12l0-96zM127 244l5-3l4 0l6 3l3 4l1 4l-1 4l-3 4l-6 2l-4 0l-4-3l-2-3l-1-4l0-4l2-4zM385 312l3-4l0 140l-237 0l-11-11l-8-13l-4-12l1-8l7-18l4-7l4-5l8-5l8-2l16-1l12-4l8-8l14-18l9-8l5-4l4-1l4 0l5 1l6 4l3 4l2 4l0 8l-2 12l-9 24l-2 8l1 10l4 4l4 0l8-3l8-7l15-24l9-13l4-5l4-1l4 1l16 5l12 2l12-1l8-2l8-5l8-7l25-30z" fill="#d5ff2a"/>
<path d="M60 20l155 0l-7 32l-4 52l-4 12l-4 8l-8 8l-8 4l-28 4l-20 6l-8 1l-8-1l-12-3l-8-3l-12-8l-14-12l-10-11l0-89zM388 320l0 128l-158 0l30-38l8-13l11-25l9-12l4-3l4-1l28 6l12 0l8-2l8-4l11-8l8-8l17-20zM222 328l6-3l4 0l6 3l4 4l2 4l0 4l-1 8l-4 12l-16 24l-11 21l-11 15l-7 20l-6 6l-6 2l-14-1l-12-5l-8-5l-5-5l-5-8l-4-8l-1-8l0-4l7-16l5-8l7-5l8-3l24-3l8-3l3-2l5-5l11-19l6-8l5-4z" fill="#c9ff36"/>
<path d="M60 20l146 0l-4 32l-3 48l-3 11l-4 7l-8 8l-8 4l-44 11l-8 2l-8-1l-8-2l-10-4l-10-7l-15-13l-13-16l0-80zM226 328l6 0l6 4l2 8l-1 8l-5 8l-6 7l-8 5l-8 2l-2-2l-1-4l2-16l6-12l3-4l6-4zM388 332l0-1l0 117l-135 0l19-39l12-33l4-7l4-4l4-1l4-1l20 4l12 1l8-1l8-3l9-4l11-8l20-20zM164 376l8-1l28 1l4 4l-1 8l-2 8l-16 28l-5 6l-4 2l-8 3l-4 0l-8-3l-8-5l-4-5l-3-6l-2-8l3-12l6-10l6-6l10-4z" fill="#beff41"/>
<path d="M60 20l138 0l-3 32l-1 44l-2 8l-4 8l-8 8l-8 4l-44 14l-8 1l-8-2l-8-3l-10-6l-10-8l-8-8l-9-12l-7-10l0-70zM224 332l4-2l4 1l3 5l0 4l-3 8l-4 4l-4 2l-4-2l-2-4l0-4l3-8l3-4zM387 344l1-1l0 105l-120 0l12-32l10-36l2-4l4-4l8-1l16 3l12 0l16-3l12-5l8-5l19-17zM160 384l8-3l8 1l5 2l3 3l2 5l-1 8l-6 12l-7 7l-8 3l-7-2l-5-3l-3-5l-1-4l0-8l4-8l3-4l5-4z" fill="#b3ff4c"/>
<path d="M60 20l129 0l-1 32l1 36l-1 8l-4 9l-6 7l-10 7l-12 5l-28 9l-8 1l-4 0l-8-3l-8-4l-9-7l-11-12l-12-16l-8-15l0-57zM386 356l2-2l0 94l-107 0l15-53l3-7l3-4l6-2l28-1l16-4l16-7l18-14z" fill="#a7ff58"/>
<path d="M60 20l120 0l1 64l-1 12l-5 8l-7 7l-9 5l-18 8l-13 4l-8 1l-4 0l-8-4l-8-5l-9-8l-11-14l-9-14l-7-16l-4-11l0-37zM384 368l4-4l0 84l-94 0l10-36l4-9l4-5l8-4l24-6l12-4l12-5l16-11z" fill="#9cff63"/>
<path d="M62 20l108 0l4 60l-2 12l-4 8l-8 7l-7 5l-17 8l-8 2l-8 1l-4-1l-11-6l-9-8l-7-8l-7-12l-6-12l-5-12l-5-16l-4-28zM387 376l1-1l0 73l-81 0l8-24l4-8l5-6l9-6l35-16l19-12z" fill="#91ff6e"/>
<path d="M75 20l82 0l6 32l2 24l-2 12l-3 6l-4 6l-5 4l-11 6l-8 3l-8 2l-4 0l-8-3l-8-6l-5-6l-7-10l-5-10l-5-12l-6-24l-1-24zM386 388l2-2l0 62l-67 0l7-16l8-12l11-8l25-15l14-9z" fill="#85ff7a"/>
<path d="M92 20l49 0l6 16l4 16l2 12l0 12l-1 8l-4 8l-4 4l-6 4l-10 4l-8 0l-4-2l-8-6l-8-12l-7-16l-3-16l0-16l2-16zM386 400l2-2l0 50l-51 0l7-12l8-10l12-10l22-16z" fill="#7aff85"/>
<path d="M114 48l2-2l4-1l4 1l4 4l4 6l2 8l1 8l-3 7l-4 3l-4 1l-4-2l-4-4l-3-5l-1-4l-1-8l1-8l2-4zM384 416l4-4l0 36l-34 0l12-16l18-16z" fill="#6eff90"/>
<path d="M385 432l3-3l0 19l-16 0l13-16z" fill="#63ff9c"/>
<g fill="none" stroke="#000" stroke-width="0.9">
<path d="M60 409l2-13l-2-17"/>
<path d="M60 436l7-32l1-12l-2-16l-6-22"/>
<path d="M64 448l2-16l6-28l1-12l-1-12l-4-20l-8-25"/>
<path d="M69 448l3-20l6-28l0-12l-3-20l-4-20l-5-16l-6-14"/>
<path d="M74 448l3-20l5-28l0-20l-4-28l-3-16l-6-16l-9-16"/>
<path d="M79 448l2-20l6-32l-1-20l-2-28l-2-12l-4-12l-5-12l-13-23"/>
<path d="M276 243l-2 5l0 4l2 3l8 5l4 1l4 0l2-1l1-4l-1-4l-1-4l-4-4l-5-3l-4 0l-4 2M84 448l1-20l5-36l0-40l-1-16l-3-12l-3-8l-23-42"/>
<path d="M276 227l-8 4l-4 4l-6 9l-2 4l-1 8l1 8l3 4l5 4l20 8l16 3l8-2l4-4l3-5l1-8l-2-12l-5-12l-7-8l-6-4l-4-2l-8-1l-8 2M89 448l1-20l4-44l2-44l-1-12l-3-8l-3-8l-18-32l-6-12l-5-14"/>
<path d="M276 215l-8 4l-8 6l-7 7l-5 7l-4 9l-3 16l-4 12l1 4l54 11l8 1l8-2l8-5l5-5l5-8l2-8l-1-8l-9-28l-2-4l-4-4l-12-6l-12-1l-12 2M94 448l0-24l8-88l0-12l-4-12l-17-28l-8-16l-6-16l-7-35"/>
<path d="M332 191l-16 6l-28 4l-12 3l-12 7l-8 6l-8 8l-9 11l-3 8l-3 12l-5 8l-4 4l-12 8l-8 8l-2 8l0 4l2 4l4 4l4 1l4-1l12-6l8-3l12-2l16 1l28 5l8 1l8-1l8-5l17-18l3-5l2-7l0-8l-3-20l0-8l2-8l8-16l2-8l-1-4l-2-3l-4-1l-8 3M99 448l-1-20l0-16l7-52l5-28l1-12l-1-4l-4-8l-17-24l-9-16l-6-20l-2-36l-3-8l-9-11"/>
<path d="M340 176l-8 1l-24 8l-24 5l-8 3l-12 7l-12 9l-10 11l-6 8l-5 8l-7 20l-4 4l-16 10l-4 4l-4 6l-3 8l-1 8l1 4l3 6l2 2l6 3l8 0l4 0l16-9l8-2l20 0l36 7l8 1l8-2l8-5l21-25l5-8l2-12l-1-16l1-6l3-6l9-16l4-12l0-8l-4-8l-4-4l-4-2l-4-2l-8 0M104 448l-2-24l0-20l8-44l3-12l8-24l1-8l0-4l-5-8l-13-12l-8-9l-7-11l-5-12l-1-8l-1-12l1-12l4-20l-2-8l-7-8l-18-13"/>
<path d="M332 168l-24 6l-24 4l-8 2l-12 7l-12 10l-20 23l-5 8l-7 17l-4 7l-4 3l-16 10l-8 10l-4 9l-1 12l1 8l1 4l3 3l8 4l12 1l8-2l16-7l12-2l16 2l48 9l8 0l4-2l4-5l11-17l12-12l8-12l3-8l5-20l12-24l3-8l1-8l0-8l-3-8l-4-6l-6-6l-6-3l-8-2l-8-1l-12 2M110 448l-4-20l-1-16l2-12l7-36l3-12l5-12l6-9l12-15l2-4l0-4l0-4l-5-4l-13-4l-12-7l-8-7l-7-10l-4-8l-3-8l-1-8l0-8l2-8l2-8l8-16l1-8l-2-4l-7-8l-33-21"/>
<path d="M284 55l-8 4l-12 8l-12 14l-6 11l-4 12l0 8l2 4l3 4l5 4l4 2l8 1l8-2l9-9l9-16l9-24l2-12l-2-4l-3-3l-4-2l-8 0M388 176l-6-8l-6-5l-8-4l-12-2l-16 0l-32 6l-8 0l-20-1l-8 2l-8 6l-12 12l-26 30l-6 10l-9 22l-7 6l-12 5l-5 5l-10 16l-9 24l-4 1l-18-9l-18-4l-8-3l-8-5l-7-8l-5-8l-3-8l-1-8l1-8l3-12l14-24l1-8l-1-4l-2-4l-8-6l-28-15l-16-11M116 448l-4-14l-2-14l-1-12l1-8l13-48l5-9l8-8l8-4l20-10l8-1l16 3l12-1l12-3l20-8l8-1l12 1l20 5l20 4l24 8l4 1l2-1l5-4l3-4l10-24l14-12l10-12l24-50"/>
<path d="M388 153l-12-5l-12-3l-16 1l-28 6l-8 0l-8-1l-5-3l-3-3l-3-5l1-8l10-19l20-33l3-8l2-8l0-12l-2-8l-4-8l-7-8l-8-4l-8-2l-8 0l-8 2l-8 4l-8 6l-8 7l-12 16l-9 19l-6 20l-2 16l3 12l6 10l9 10l2 4l0 4l-3 8l-7 12l-13 18l-18 18l-2 4l-3 8l-2 12l-3 8l-12 4l-4 2l-5 6l-11 20l-4 5l-4 3l-8 3l-8 0l-12-1l-8-3l-8-5l-6-6l-4-8l-3-12l1-8l4-11l4-7l8-8l8-6l8-3l8 1l16 13l4 1l8-1l7-3l4-4l3-4l1-4l-2-8l-2-4l-3-2l-8-3l-12-3l-24-2l-24-9l-28-12l-12-7l-12-8M123 448l-5-12l-3-12l-2-12l0-8l15-46l4-8l4-4l4-2l8-2l16-1l8-1l52-24l4-1l8-1l12 1l20 8l24 4l24 10l4 0l7-1l5-3l5-5l11-25l23-23l8-12l9-15"/>
<path d="M253 20l-9 13l-6 11l-6 15l-4 12l-4 19l-2 18l0 12l3 24l0 8l-1 5l-3 7l-5 5l-4 3l-4 2l-8 0l-24-7l-16-3l-8-1l-24 2l-16-2l-12-4l-15-7l-13-8l-12-9M388 131l-12-3l-12-1l-24 4l-20 6l-5-1l0-4l1-4l22-24l9-12l4-8l4-12l2-12l0-16l-3-12l-6-12M122 224l6-3l4 0l8 1l8 4l8 6l7 8l3 8l-2 8l-4 9l-8 7l-8 3l-12-1l-8-3l-8-7l-4-8l-1-12l4-12l5-6l2-2M131 448l-7-14l-4-10l-2-16l2-11l10-25l6-12l4-4l8-2l24 0l8-5l17-13l12-8l15-9l8-2l8 1l8 3l10 7l6 7l4 3l12-4l8-1l8 2l12 6l8 3l8 1l8-2l6-3l6-5l5-7l11-20l28-31"/>
<path d="M232 20l-8 20l-5 20l-10 72l-3 8l-6 7l-4 2l-8 2l-32-1l-28 5l-16-1l-12-4l-13-6l-12-8l-15-13M388 48l-4-16l-4-12M126 236l6-2l8 1l7 5l3 4l2 4l0 8l-2 4l-4 4l-6 3l-8 0l-5-3l-4-4l-2-4l-1-8l2-8l4-4M142 448l-6-8l-8-15l-3-9l-1-8l2-8l8-20l6-9l4-4l8-3l20-1l9-3l7-5l18-19l10-8l8-5l8-2l4 0l6 3l5 4l3 4l3 8l-1 32l2 4l2 0l16-14l12-18l4-2l4 0l20 9l8 2l12-1l12-4l6-4l8-8l14-20l16-18"/>
<path d="M215 20l-7 32l-3 44l-2 12l-3 9l-4 7l-4 5l-4 3l-12 5l-24 3l-20 6l-12 1l-8-1l-15-6l-13-8l-14-12l-10-11M171 448l-11-4l-8-4l-8-7l-8-12l-2-5l-1-8l2-8l5-12l4-6l4-4l8-5l8-2l20-2l8-3l4-3l4-4l11-19l6-8l5-4l6-3l4 0l4 2l6 5l2 8l-1 8l-3 10l-17 26l-11 21l-11 15l-7 20l-6 6l-6 2M230 448l30-38l8-13l11-25l9-12l4-3l4-1l28 6l12 0l8-2l8-4l11-8l8-8l17-20"/>
<path d="M198 20l-3 28l0 40l-1 12l-2 5l-4 7l-4 4l-8 6l-12 5l-32 10l-12 2l-8-2l-12-5l-16-12l-12-13l-12-17M224 332l4-2l4 1l3 5l0 4l-3 8l-4 4l-4 2l-4-2l-2-4l0-4l3-8l3-4M160 384l8-3l8 1l5 2l3 3l2 5l-1 8l-6 12l-7 7l-8 3l-7-2l-5-3l-3-5l-1-4l0-8l4-8l3-4l5-4M268 448l12-32l10-36l2-4l4-4l8-1l16 3l12 0l16-3l12-5l8-5l11-9l9-9"/>
<path d="M180 20l1 64l0 8l-3 8l-7 8l-7 5l-14 7l-20 8l-10 1l-8-2l-12-7l-9-8l-10-12l-8-12l-8-16l-5-15M294 448l10-36l4-9l4-5l8-4l24-6l16-5l16-9l12-10"/>
<path d="M157 20l7 44l0 16l-1 8l-4 8l-8 8l-15 8l-12 3l-8-1l-9-6l-11-12l-8-12l-6-16l-4-16l-3-16l0-16M321 448l7-16l8-12l11-8l25-15l16-11"/>
<path d="M114 48l2-2l4-1l4 1l4 4l4 6l2 8l1 8l-3 7l-4 3l-4 1l-4-2l-4-4l-3-5l-1-4l-1-8l1-8l2-4M354 448l12-16l22-20"/>
</g>
</g>
<g style="font-family:&quot;Liberation Sans&quot;,sans-serif;font-weight:bold;font-size:11px" text-anchor="middle">
<text transform="translate(181,70) rotate(87)" y="4">250</text>
<text transform="translate(194,100) rotate(-76)" y="4">240</text>
<text transform="translate(198,121) rotate(-62)" y="4">230</text>
<text transform="translate(205,142) rotate(-58)" y="4">220</text>
<text transform="translate(196,174) rotate(16)" y="4">210</text>
<text transform="translate(183,191) rotate(39)" y="4">200</text>
<text transform="translate(250,145) rotate(64)" y="4">200</text>
<text transform="translate(275,162) rotate(-18)" y="4">190</text>
<text transform="translate(300,121) rotate(-60)" y="4">200</text>
<text transform="translate(296,133) rotate(-77)" y="4">190</text>
<text transform="translate(313,138) rotate(43)" y="4">210</text>
<text transform="translate(298,176) rotate(-8)" y="4">180</text>
<text transform="translate(315,183) rotate(-19)" y="4">170</text>
<text transform="translate(343,187) rotate(15)" y="4">160</text>
<text transform="translate(281,225) rotate(-10)" y="4">140</text>
<text transform="translate(281,257) rotate(26)" y="4">130</text>
<text transform="translate(307,217) rotate(26)" y="4">150</text>
<text transform="translate(324,246) rotate(73)" y="4">150</text>
<text transform="translate(237,240) rotate(-68)" y="4">160</text>
<text transform="translate(347,236) rotate(-82)" y="4">170</text>
<text transform="translate(337,270) rotate(-65)" y="4">160</text>
<text transform="translate(309,281) rotate(-34)" y="4">140</text>
<text transform="translate(273,294) rotate(11)" y="4">160</text>
<text transform="translate(249,300) rotate(1)" y="4">170</text>
<text transform="translate(134,257) rotate(26)" y="4">230</text>
<text transform="translate(130,266) rotate(23)" y="4">220</text>
<text transform="translate(120,225) rotate(-40)" y="4">210</text>
<text transform="translate(200,242) rotate(-31)" y="4">200</text>
<text transform="translate(194,253) rotate(-26)" y="4">190</text>
<text transform="translate(209,257) rotate(-30)" y="4">180</text>
<text transform="translate(224,257) rotate(-54)" y="4">170</text>
<text transform="translate(222,285) rotate(-52)" y="4">150</text>
<text transform="translate(216,312) rotate(-22)" y="4">180</text>
<text transform="translate(226,321) rotate(-19)" y="4">220</text>
<text transform="translate(234,336) rotate(77)" y="4">240</text>
<text transform="translate(266,349) rotate(9)" y="4">210</text>
<text transform="translate(288,340) rotate(-1)" y="4">220</text>
<text transform="translate(341,319) rotate(-69)" y="4">200</text>
<text transform="translate(339,296) rotate(-53)" y="4">190</text>
<text transform="translate(171,355) rotate(-13)" y="4">210</text>
<text transform="translate(132,349) rotate(-53)" y="4">200</text>
<text transform="translate(169,380) rotate(-2)" y="4">240</text>
<text transform="translate(128,395) rotate(-67)" y="4">220</text>
<text transform="translate(116,406) rotate(-83)" y="4">210</text>
</g>
<path d="M264.9,35.3 L268.5,39.0 L274.5,50.7 L278.9,56.7 L286.3,74.4 L293.6,87.7 L305.5,103.9 L323.1,121.6 L326.1,128.9 L332.0,140.7 L345.3,161.4 L348.2,171.7 L352.6,179.1 L352.6,187.9 L357.2,206.0 L356.4,212.9 L352.9,223.2 L353.8,238.7 L350.4,252.5 L350.4,264.5 L352.9,267.9 L351.2,271.4 L354.7,274.8 L363.3,268.8 L365.0,273.1 L361.5,286.9 L358.1,302.3 L354.7,316.1 L349.5,323.0 L347.8,333.3 L339.2,345.3 L332.3,353.9 L323.7,359.1 L315.1,357.4 L304.8,357.4 L294.5,353.9 L285.9,350.5 L275.5,359.1 L268.7,364.3 L263.5,367.7 L251.5,368.6 L238.3,362.1 L222.6,368.6 L214.8,371.2 L204.3,372.5 L196.8,380.0 L191.6,387.0 L182.8,394.0 L168.9,399.2 L156.7,411.4 L142.7,414.9 L139.2,406.2 L128.7,421.9 L119.3,428.4 L115.2,424.3 L116.5,410.5 L123.4,399.4 L113.8,391.2 L108.3,382.9 L112.4,365.0 L111.0,353.9 L105.5,342.9 L108.3,333.3 L111.0,326.4 L114.6,321.6 L122.5,298.0 L134.3,290.1 L128.4,282.3 L138.2,274.4 L126.4,278.3 L128.4,270.5 L118.5,260.6 L120.5,246.9 L116.6,235.1 L110.7,239.0 L104.8,235.1 L100.8,219.4 L89.1,213.5 L85.1,203.6 L91.0,195.8 L99.9,191.8 L102.8,185.9 L112.6,189.9 L116.6,180.0 L122.5,184.0 L138.2,187.9 L150.0,192.8 L144.1,187.9 L142.1,178.1 L146.1,170.2 L138.2,168.3 L142.1,160.4 L136.2,155.5 L132.3,150.6 L126.4,138.8 L120.5,127.0 L105.8,125.0 L104.8,111.3 L110.7,108.3 L118.5,111.3 L132.3,105.4 L138.2,97.5 L142.1,85.7 L152.3,78.1 L158.8,69.9 L168.7,61.7 L181.8,60.9 L201.4,62.6 L222.7,60.9 L239.1,62.6 L247.3,60.9 L255.5,56.8 L260.4,50.3 L262.0,42.1Z" fill="none" stroke="#000" stroke-width="1"/>
<path d="M158,71 172,79 190,82 202,95 206,105 200,111 202,122 210,128 224,134 222,148 217,164M217,164 220,170 229,170 233,163 241,166 253,163 265,168 273,174 286,176 300,173 314,179 332,178 347,171M217,164 198,181 180,193 165,191 147,193 143,205M180,193 190,207 180,217 184,232 198,238 200,254 206,264 208,274M273,174 279,183 273,195 265,201 249,201 229,215 225,250 239,252 233,266 218,272 208,274M143,134 149,124 163,120 168,128 170,140 163,144 149,144 143,138 143,134M127,278 151,264 165,270 180,268 202,256M115,279 127,281 147,265 167,267 182,271 198,256 204,271 210,273 227,275M227,275 229,285 214,295 208,303 206,316 210,324M227,285 241,291 253,301 265,311 284,314 302,314 314,309 328,303 355,307M277,285 282,277 292,275 299,283 298,293 288,297 279,293 277,285M115,338 127,336 143,326 157,324 163,336 174,338 194,334 202,336 210,324M210,324 204,340 208,356 214,370M129,352 135,348 155,349 162,356 155,364 135,364 129,358 129,352M316,352 324,344 332,344 337,350 336,356" fill="none" stroke="#000" stroke-width="1.4" stroke-linejoin="round"/>
</g>
<g transform="translate(674.6,607.8)">
<line x1="75.4" y1="0" x2="75.4" y2="458.70000000000005" stroke="#bdbdbd" stroke-width="1" stroke-dasharray="1.6,1.6"/>
<line x1="196.6" y1="0" x2="196.6" y2="458.70000000000005" stroke="#bdbdbd" stroke-width="1" stroke-dasharray="1.6,1.6"/>
<line x1="318.9" y1="0" x2="318.9" y2="458.70000000000005" stroke="#bdbdbd" stroke-width="1" stroke-dasharray="1.6,1.6"/>
<line x1="440.1" y1="0" x2="440.1" y2="458.70000000000005" stroke="#bdbdbd" stroke-width="1" stroke-dasharray="1.6,1.6"/>
<line x1="0" y1="138.2" x2="454.80000000000007" y2="138.2" stroke="#bdbdbd" stroke-width="1" stroke-dasharray="1.6,1.6"/>
<line x1="0" y1="275.1" x2="454.80000000000007" y2="275.1" stroke="#bdbdbd" stroke-width="1" stroke-dasharray="1.6,1.6"/>
<line x1="0" y1="411.6" x2="454.80000000000007" y2="411.6" stroke="#bdbdbd" stroke-width="1" stroke-dasharray="1.6,1.6"/>
<path d="M0 458.70000000000005H454.80000000000007V0" fill="none" stroke="#8a8a8a" stroke-width="1.6"/>
<path d="M0 0H454.80000000000007" fill="none" stroke="#808080" stroke-width="1.6"/>
<path d="M0 0V458.70000000000005" fill="none" stroke="#808080" stroke-width="1.6"/>
<g clip-path="url(#kc)">
<rect x="60" y="20" width="330" height="430" fill="#ff4700"/>
<path d="M60 20l328 0l0 428l-328 0l0-37l1-11l-1-14l0-366z" fill="#ff5200"/>
<path d="M60 20l328 0l0 428l-328 0l0-21l4-19l1-12l-2-12l-3-13l0-351z" fill="#ff5e00"/>
<path d="M60 20l328 0l0 428l-328 0l0-8l7-32l1-12l-2-16l-6-19l0-341z" fill="#ff6900"/>
<path d="M60 20l328 0l0 428l-327 0l9-36l2-16l-1-12l-3-12l-8-21l0-331z" fill="#ff7400"/>
<path d="M60 20l328 0l0 428l-323 0l8-36l2-16l-2-16l-2-12l-5-12l-6-13l0-323z" fill="#ff8000"/>
<path d="M60 20l328 0l0 428l-320 0l8-37l2-15l-1-16l-4-16l-5-13l-8-16l0-315z" fill="#ff8b00"/>
<path d="M60 20l328 0l0 428l-317 0l8-40l1-16l-1-16l-3-16l-7-16l-9-16l0-308z" fill="#ff9600"/>
<path d="M60 20l328 0l0 428l-314 0l8-40l1-20l-1-16l-4-16l-6-14l-12-22l0-300zM264 224l0 4l1 4l7 8l15 8l10 4l2-4l-3-7l-4-5l-8-8l-6-4l-6-2l-4-1l-4 3z" fill="#ffa200"/>
<path d="M60 20l328 0l0 428l-311 0l8-48l1-16l-2-16l-2-12l-5-12l-17-32l0-292zM264 212l-4 0l-4 3l-2 5l0 8l6 12l8 10l4 3l20 11l8 8l4 2l3-2l4-8l1-8l-4-14l-4-7l-7-7l-11-8l-10-5l-12-3z" fill="#ffad00"/>
<path d="M60 20l328 0l0 428l-308 0l8-48l0-20l-1-16l-3-12l-3-8l-21-40l0-284zM256 208l-5 4l-3 4l-1 4l0 8l2 8l12 20l3 4l4 3l20 7l10 10l6 1l4-1l4-4l1-4l3-11l0-5l-3-16l-5-10l-6-6l-5-4l-17-9l-9-3l-7-1l-8 1z" fill="#ffb800"/>
<path d="M60 20l328 0l0 428l-306 0l8-52l1-20l-1-16l-2-8l-5-12l-23-45l0-275zM256 203l-8 5l-3 4l-3 4l-2 8l2 12l7 16l-2 12l1 4l8 4l24 5l16 8l8 1l4-1l4-3l3-6l4-16l-1-20l-2-8l-2-4l-3-4l-7-5l-22-11l-14-5l-8 0l-4 0z" fill="#ffc300"/>
<path d="M60 20l328 0l0 428l-303 0l8-52l1-24l-1-16l-5-16l-19-36l-9-20l0-264zM260 200l-8 2l-8 5l-5 5l-4 8l-1 12l4 20l-5 24l2 4l5 1l28 0l8 2l20 7l8 0l4-1l4-3l5-6l4-16l1-12l0-16l-2-8l-2-4l-3-4l-6-4l-17-8l-20-7l-12-1z" fill="#ffcf00"/>
<path d="M60 20l328 0l0 428l-300 0l7-56l2-24l-1-12l-4-16l-21-40l-11-29l0-251zM248 200l-7 4l-4 4l-4 4l-4 8l-1 12l1 20l-2 12l-6 16l2 4l5 3l8 1l20-1l12 0l28 7l8 0l8-4l4-3l4-7l3-16l3-32l-2-8l-2-4l-4-4l-6-4l-36-13l-8-2l-8 0l-12 3z" fill="#ffda00"/>
<path d="M60 20l328 0l0 428l-297 0l8-76l1-12l-1-8l-5-16l-20-40l-14-40l0-236zM252 195l-8 3l-9 6l-4 4l-6 8l-3 12l0 24l-1 12l-5 8l-4 4l-9 4l-2 4l7 4l24 5l32-2l32 7l8 0l8-4l4-3l4-5l3-10l8-48l-1-4l-2-6l-5-6l-7-3l-36-12l-16-3l-12 1z" fill="#ffe500"/>
<path d="M60 20l328 0l0 428l-295 0l10-80l0-12l-1-8l-2-8l-21-44l-14-44l-5-12l0-220zM256 192l-12 3l-8 4l-7 5l-7 8l-3 4l-2 8l-1 28l-2 12l-3 4l-11 6l-4 4l-1 2l-1 4l2 4l8 5l28 4l8 0l16-2l8 0l32 7l8-1l8-3l8-7l5-11l4-28l7-24l0-8l-1-4l-2-4l-5-4l-11-4l-41-11l-12-1l-8 0z" fill="#fff100"/>
<path d="M60 20l328 0l0 428l-292 0l6-56l5-32l0-8l-1-8l-3-8l-15-28l-5-12l-5-16l-9-36l-4-8l-5-9l0-207zM244 192l-16 8l-10 8l-3 4l-2 4l-2 8l-1 24l-2 8l-1 4l-3 3l-8 7l-5 6l-2 4l0 4l1 4l6 6l4 2l8 2l28 2l24-1l36 6l8 0l8-3l8-7l4-5l2-6l2-8l2-16l1-8l11-28l1-8l-2-4l-5-6l-8-4l-52-12l-16-1l-16 3z" fill="#fffc00"/>
<path d="M60 20l328 0l0 428l-289 0l4-48l2-16l5-24l0-12l-1-8l-3-8l-13-24l-7-16l-5-20l-8-36l-5-10l-8-9l0-197zM248 188l-12 4l-8 4l-12 8l-8 8l-3 8l-1 24l-1 8l-4 8l-11 12l-4 8l-1 8l2 4l3 3l4 3l12 3l32 2l24-1l36 7l8-1l8-3l8-5l4-5l4-7l2-8l1-16l2-8l3-9l10-19l4-8l-1-8l-2-4l-3-4l-4-3l-12-4l-28-4l-32-6l-8-1l-12 2z" fill="#f7ff08"/>
<path d="M60 20l328 0l0 428l-287 0l5-52l2-16l6-20l0-8l0-8l-1-8l-4-8l-13-24l-7-16l-4-20l-4-32l-2-8l-6-8l-13-11l0-189zM256 184l-12 2l-12 4l-19 10l-10 8l-3 8l0 24l-2 8l-3 8l-12 16l-4 8l-2 8l1 4l2 4l4 4l4 2l8 2l24 0l16 1l24 0l36 7l8 0l8-3l8-5l4-4l5-8l3-12l2-20l2-7l4-7l14-22l2-8l-2-8l-2-5l-4-4l-4-3l-8-3l-36-3l-32-6l-12 0z" fill="#ebff14"/>
<path d="M60 20l328 0l0 428l-284 0l4-52l3-16l7-24l0-16l-3-12l-14-24l-7-16l-5-24l-1-32l-1-8l-2-4l-5-5l-20-13l0-182zM240 184l-12 4l-24 12l-5 4l-3 4l-2 8l1 20l-1 12l-4 8l-16 24l-3 8l0 4l3 8l6 6l4 1l8 1l24-2l20 2l20-1l40 9l12-2l8-3l8-7l4-5l4-7l3-12l1-20l4-9l14-19l5-8l1-4l1-8l-1-5l-3-7l-3-4l-6-5l-12-3l-32-1l-40-6l-12 1l-12 2z" fill="#e0ff1f"/>
<path d="M60 20l328 0l0 428l-281 0l1-28l2-24l3-16l7-20l2-8l1-12l0-8l-5-12l-14-20l-6-20l-4-24l0-12l2-16l-1-8l-1-4l-6-5l-28-15l0-176zM244 179l-12 4l-30 13l-7 4l-4 4l-2 8l2 24l-2 12l-6 12l-12 16l-4 8l-3 12l3 8l5 5l6 3l6 1l8 0l20-4l12-1l36 2l28 8l8 1l8 0l8-3l12-8l7-8l4-8l3-12l0-16l1-4l5-9l15-19l6-12l1-12l-2-8l-4-6l-4-4l-4-3l-8-3l-12-1l-32 0l-40-5l-16 1z" fill="#d5ff2a"/>
<path d="M60 20l328 0l0 428l-279 0l1-32l3-24l3-13l7-19l3-12l3-16l0-8l-3-8l-15-16l-4-8l-6-20l-2-12l0-12l2-12l4-16l-1-5l-4-6l-4-3l-36-16l0-170zM244 176l-12 3l-36 15l-8 6l-3 4l-1 8l3 24l-2 12l-6 12l-17 24l-5 8l-2 8l0 4l2 4l3 4l4 2l8 3l12 2l8-2l24-7l8 0l24 1l16 2l24 8l8 1l8 0l8-2l8-5l8-7l6-8l4-8l2-8l1-20l1-4l6-8l16-19l6-13l1-8l0-8l-3-8l-2-4l-4-4l-6-5l-7-3l-5-1l-8-1l-32 2l-12 0l-32-5l-16 1z" fill="#c9ff36"/>
<path d="M60 20l328 0l0 428l-276 0l1-40l4-24l3-10l16-39l4-7l4-4l4-2l4 0l20 2l12-1l12-3l16-7l12-1l32 2l28 9l12 3l12-1l8-3l13-10l9-12l4-8l2-8l1-20l5-8l14-16l8-12l4-12l0-12l-4-12l-6-8l-10-7l-8-2l-12-1l-24 3l-12 0l-48-5l-12 0l-8 3l-20 9l-20 7l-8 6l-4 7l0 4l3 24l0 8l-1 8l-4 8l-5 8l-13 15l-20 20l-4 2l-4 0l-8-2l-4-3l-4-4l-4-8l-5-12l-2-12l-1-12l1-8l7-20l0-4l0-4l-2-4l-4-4l-7-4l-39-15l0-165zM248 64l-4 1l-4 4l-4 7l-2 8l0 4l2 4l4-1l3-3l5-9l2-11l-2-4z" fill="#beff41"/>
<path d="M60 20l328 0l0 428l-273 0l0-40l4-24l4-12l9-19l5-9l7-8l4-3l8-2l20-2l12-2l8-3l16-9l12-2l20 1l12 2l28 10l8 2l12 1l8-2l4-2l8-5l8-7l10-13l4-12l4-24l5-8l15-16l6-10l5-14l1-12l-4-12l-6-9l-8-7l-12-5l-12-1l-28 4l-16 0l-12-1l-32-6l-8 0l-8 1l-24 12l-23 8l-9 7l-4 5l-1 8l4 24l0 12l-2 8l-5 8l-12 14l-12 9l-8 3l-4 1l-8-2l-4-2l-8-8l-4-7l-2-8l-1-8l1-12l8-24l1-8l-2-4l-4-4l-8-4l-29-10l-16-6l0-160zM244 47l-8 9l-4 6l-4 10l-2 8l0 8l1 8l5 6l4 1l4 0l4-2l7-9l9-18l4-14l0-4l-1-4l-3-4l-4-2l-4-1l-8 2z" fill="#b3ff4c"/>
<path d="M60 20l328 0l0 428l-270 0l-1-36l3-24l4-12l8-16l4-7l8-9l4-3l8-4l20-2l12-4l8-3l16-11l12-2l16 0l12 2l9 3l19 8l12 4l8 0l8 0l9-4l16-12l7-8l5-8l5-12l3-16l3-8l19-24l7-12l3-8l2-8l-1-12l-4-12l-5-8l-9-7l-12-5l-8-2l-8 0l-32 5l-16 0l-16-2l-28-8l-8 0l-4 1l-24 14l-20 6l-8 4l-8 6l-4 4l-2 8l0 8l5 16l1 8l-1 12l-4 8l-5 8l-6 6l-12 7l-8 2l-4-1l-8-3l-8-6l-3-5l-4-12l0-8l2-8l9-20l2-8l0-4l-2-4l-5-4l-7-3l-32-10l-20-8l0-155zM244 36l-8 7l-6 9l-6 13l-3 15l0 12l2 8l5 8l4 3l4 1l4 0l4-2l8-9l12-22l5-11l2-8l-1-12l-2-6l-4-5l-4-2l-4-2l-4 0l-8 3z" fill="#a7ff58"/>
<path d="M60 20l328 0l0 167l-4-7l-8-8l-8-5l-9-3l-11-2l-8 0l-36 6l-20 0l-20-6l-12-6l-12-8l-4 0l-10 12l-14 11l-28 10l-8 4l-8 7l-3 4l-2 4l0 4l0 4l9 24l1 12l-3 8l-5 8l-3 4l-10 7l-8 2l-4 0l-8-3l-8-5l-4-5l-1-4l-2-8l1-8l3-8l12-24l1-4l-1-4l-2-4l-7-4l-40-12l-24-10l0-150zM248 23l-8 5l-4 3l-8 11l-8 19l-4 19l0 12l3 12l9 15l8 8l4-1l4-4l12-18l16-32l3-8l2-8l0-8l-2-8l-3-8l-4-4l-8-5l-4-1l-8 1zM388 228l0-1l0 221l-268 0l0-36l2-24l4-12l6-11l4-6l8-9l4-3l8-4l20-3l8-2l12-7l16-11l4-2l8-2l16 1l12 2l28 13l12 3l12 0l12-3l17-12l11-12l7-12l8-24l4-8l17-22l8-14z" fill="#9cff63"/>
<path d="M60 20l176 0l-8 10l-7 14l-5 14l-4 18l-1 12l2 12l10 24l2 12l-1 12l-2 4l-5 8l-4 4l-6 4l-27 10l-11 6l-17 11l-4 1l-4-1l-16-7l-44-13l-24-10l0-145zM274 20l114 0l0 157l-4-5l-8-6l-8-4l-8-2l-8-2l-12 0l-32 7l-20 0l-8-1l-11-4l-7-4l-9-8l-3-8l1-12l4-12l22-44l5-16l1-12l-1-8l-3-8l-5-8zM146 208l2-1l4 1l8 8l7 12l3 12l-2 8l-1 4l-5 8l-6 5l-4 3l-8 1l-4 0l-8-4l-6-5l-4-8l-1-8l3-10l6-10l10-12l6-4zM387 240l1-2l0 210l-265 0l-1-36l1-12l2-12l2-8l5-10l4-7l8-8l8-5l4-2l20-3l8-2l12-8l16-13l4-2l8-3l12 1l13 2l10 4l17 10l12 4l16 1l12-3l8-5l12-9l12-14l7-12l12-28l20-28z" fill="#91ff6e"/>
<path d="M60 20l166 0l-6 11l-4 10l-4 15l-4 20l-1 12l1 12l9 24l1 12l-2 13l-4 7l-4 4l-8 5l-20 8l-20 9l-8 3l-8 1l-32-7l-20-5l-16-6l-16-8l0-140zM284 20l104 0l0 149l-8-6l-8-4l-9-3l-11-2l-16 1l-32 7l-12 0l-8 0l-8-3l-7-3l-8-8l-3-4l-1-8l1-12l8-20l17-36l5-16l0-16l-1-8l-3-8zM140 220l4-2l4-1l4 1l4 2l6 8l4 8l0 8l-1 4l-4 8l-5 6l-8 3l-8 0l-8-4l-4-5l-3-8l1-8l3-8l6-8l5-4zM388 248l0-1l0 201l-262 0l-2-32l2-24l2-8l4-10l4-6l8-9l4-3l8-3l20-2l8-3l8-6l20-18l4-3l8-2l12 0l12 3l8 3l20 13l8 3l16 1l8-1l8-2l8-5l12-8l13-14l8-12l15-30l16-22z" fill="#85ff7a"/>
<path d="M60 20l159 0l-5 12l-4 12l-6 36l0 20l1 8l6 16l1 8l-1 12l-3 6l-4 5l-8 6l-32 13l-12 5l-8 0l-20-2l-24-5l-20-7l-20-10l0-135zM293 20l95 0l0 142l-8-5l-8-3l-8-2l-12-1l-16 1l-32 7l-16 0l-12-3l-5-4l-4-4l-3-4l-2-8l1-12l7-20l17-36l5-12l2-12l1-8l-2-16zM146 224l6 1l5 3l3 4l2 4l1 8l-3 8l-4 6l-4 2l-8 2l-6-2l-5-4l-3-4l-1-8l2-8l5-7l4-3l6-2zM385 260l3-4l0 192l-259 0l-2-32l0-12l1-12l2-8l4-8l5-8l5-5l4-3l8-3l8 0l12 1l4-1l4-1l4-3l24-27l4-3l8-3l12 0l13 4l7 4l16 12l9 4l7 1l12 0l16-3l8-4l9-6l10-8l8-8l8-12l17-30l9-14z" fill="#7aff85"/>
<path d="M60 20l152 0l-7 24l-5 40l0 20l1 8l5 12l1 8l-3 11l-4 7l-8 6l-28 13l-12 4l-12 1l-20-1l-20-5l-20-7l-20-11l0-130zM301 20l87 0l0 135l-8-4l-8-2l-16-2l-16 1l-36 7l-16 1l-11-4l-4-4l-3-4l-2-4l-1-8l2-12l7-20l15-32l7-16l3-16l0-16zM140 232l4-2l4 0l4 1l4 3l3 6l-1 8l-1 4l-5 5l-4 1l-4 0l-6-2l-3-4l-2-4l1-8l2-4l4-4zM386 268l2-3l0 183l-255 0l-4-28l1-24l1-8l3-8l5-8l5-5l8-5l8-1l8 1l12 5l4 0l4-2l12-21l9-12l7-7l8-3l12 0l12 4l10 6l14 14l8 2l8 1l12-1l12-2l8-3l8-4l12-9l15-14l9-12l22-36z" fill="#6eff90"/>
<path d="M60 20l146 0l-5 24l-6 52l0 16l5 15l0 5l-3 8l-5 7l-13 9l-19 9l-12 4l-16 1l-16-2l-20-5l-17-7l-19-11l0-125zM308 20l80 0l0 129l-16-6l-16-1l-16 2l-32 7l-16 1l-8-1l-5-3l-3-4l-2-4l-2-8l0-8l2-8l7-20l17-32l5-12l4-16l1-16zM144 236l4-1l4 2l2 3l1 4l-1 4l-2 4l-4 2l-4 0l-4-2l-2-4l0-4l1-4l5-4zM387 276l1-2l0 174l-252 0l-4-28l0-24l2-8l3-8l5-8l6-4l8-3l8 1l8 4l8 8l4 2l4 0l4-2l2-2l3-4l3-20l4-8l4-8l8-9l5-3l7-2l12 2l9 4l9 8l10 15l4 2l8 1l16-2l12-2l12-4l8-3l10-7l10-8l8-8l13-16l18-28zM252 370l-3 2l-1 4l0 1l4 1l2-2l1-4l-3-2z" fill="#63ff9c"/>
<path d="M60 20l140 0l-10 84l-1 12l1 16l-4 8l-7 8l-11 8l-16 7l-12 2l-12 1l-16-2l-16-5l-16-7l-20-12l0-120zM316 20l72 0l0 123l-16-5l-16 0l-16 2l-28 7l-16 1l-8-1l-4-2l-4-5l-2-4l-1-8l0-8l3-12l7-16l16-28l5-12l6-16l2-16zM146 244l2 0l0 4l-1 0l-1-4zM388 284l0 164l-248 0l-5-28l0-24l1-8l3-8l5-6l4-3l8-2l8 1l4 3l12 11l4 2l12 1l8-3l4-4l0-4l-3-12l-1-8l1-8l4-8l5-8l6-6l8-2l8 0l9 4l9 8l4 8l1 8l-3 5l-15 11l-11 12l-1 4l1 4l3 4l7 3l8 1l4-1l4-2l4-4l4-7l6-14l3-4l3-2l12-5l32-7l12-6l17-12l9-8l10-12l20-28z" fill="#58ffa7"/>
<path d="M60 20l134 0l-4 52l-5 32l-4 16l-1 12l-3 8l-8 8l-9 6l-12 5l-12 3l-16-1l-16-3l-15-6l-15-8l-14-9l0-115zM323 20l65 0l0 116l-12-3l-16 0l-16 2l-32 8l-12 1l-8-2l-4-2l-4-4l-1-4l-1-8l0-8l4-12l6-14l16-26l6-12l6-16l3-16zM385 296l3-4l0 156l-244 0l-5-24l-2-24l1-8l2-8l4-6l4-4l4-1l8 0l6 3l12 12l10 4l24 5l24 8l8 1l8-2l8-4l4-4l4-6l6-14l6-9l4-3l8-4l32-9l8-3l12-8l12-9l11-11l18-24zM220 328l4-2l8-1l9 3l6 4l3 4l3 8l0 4l-1 4l-3 4l-13 10l-8 4l-4 1l-4-1l-4-2l-4-4l-2-4l-1-8l2-12l5-8l4-4z" fill="#4dffb2"/>
<path d="M60 20l128 0l-1 48l-5 28l-10 38l-3 6l-9 8l-8 5l-12 4l-12 1l-12-1l-12-3l-16-7l-13-7l-15-11l0-109zM331 20l57 0l0 110l-12-3l-16 1l-12 2l-28 7l-12 2l-12-2l-4-2l-2-3l-2-4l-1-8l1-8l2-8l6-13l18-27l7-12l7-16l3-16zM385 304l3-3l0 147l-240 0l-6-24l-2-24l2-12l2-5l4-5l4-2l4 0l4 1l4 3l8 8l8 6l8 4l36 13l8 3l8 0l12-1l8-4l8-7l4-7l8-19l7-8l9-5l32-10l16-9l11-8l10-8l11-12l9-12zM223 328l9-1l8 3l3 2l4 4l2 8l-1 5l-4 6l-8 5l-8 3l-4 0l-4-1l-4-3l-3-7l0-8l3-8l2-4l5-4z" fill="#41ffbe"/>
<path d="M60 20l123 0l0 44l-2 16l-5 20l-8 29l-4 8l-7 7l-9 6l-8 2l-12 2l-12-1l-12-3l-16-8l-16-10l-12-9l0-103zM340 20l48 0l0 102l-12-1l-12 0l-12 3l-36 9l-8 1l-8-2l-5-4l-3-8l0-8l2-8l6-12l21-28l8-12l7-16l4-16zM385 312l3-4l0 140l-235 0l-7-24l-2-24l1-12l3-5l4-3l4 0l4 1l12 12l8 6l36 18l12 4l8 1l8 0l8-2l12-6l8-8l4-7l7-19l5-7l4-4l8-4l28-8l17-9l21-16l19-20zM221 332l7-4l4 0l8 4l3 4l2 4l0 4l-1 4l-3 4l-5 4l-8 2l-4-1l-4-2l-4-7l0-4l2-8l3-4z" fill="#36ffc9"/>
<path d="M60 20l117 0l2 40l-1 16l-6 24l-8 26l-6 10l-6 6l-8 4l-12 4l-12 0l-8-2l-12-4l-14-8l-12-8l-14-12l0-96zM349 20l39 0l0 95l-8-1l-12 0l-16 3l-32 11l-8 0l-8-2l-4-3l-3-7l0-8l3-8l8-12l18-20l12-16l7-16l4-16zM387 316l1-1l0 133l-229 0l-7-20l-3-20l-1-12l2-8l2-3l4 0l4 3l8 8l8 7l24 15l12 7l12 4l8 1l8 0l8-1l12-5l12-10l7-10l9-24l7-8l9-4l28-9l16-9l20-14l19-20zM224 332l4-2l4 0l4 2l4 4l1 4l0 4l-2 4l-3 3l-4 1l-4 1l-4-1l-3-4l-2-4l1-4l1-4l3-4z" fill="#2bffd4"/>
<path d="M60 20l110 0l4 40l-1 16l-6 24l-7 24l-5 8l-7 7l-8 4l-12 3l-8-1l-12-3l-14-6l-12-8l-10-8l-12-12l0-88zM359 20l29 0l0 85l-12-1l-12 2l-12 3l-28 12l-8 1l-8-2l-4-4l-1-4l1-9l8-11l22-20l12-16l8-16l5-20zM386 324l2-2l0 126l-222 0l-6-16l-4-15l0-11l0-2l4-3l12 7l28 20l12 7l8 2l12 2l12-2l8-2l13-7l7-6l5-6l7-12l7-20l6-8l7-4l28-9l16-8l20-14l18-17zM224 336l4-3l4 0l4 3l1 4l-1 4l-4 3l-4 0l-4-3l-1-4l1-4z" fill="#1fffe0"/>
<path d="M60 20l103 0l5 32l1 12l0 8l-4 20l-7 24l-3 8l-7 9l-8 5l-12 3l-8 0l-12-4l-12-5l-12-9l-13-11l-10-12l-1-1l0-79zM371 20l17 0l0 73l-16-2l-8 1l-8 1l-8 4l-17 11l-7 4l-8 1l-3-1l-2-4l1-4l3-4l5-4l24-15l5-5l6-8l6-12l5-12l5-24zM385 332l3-3l0 119l-156 0l12-2l12-5l8-5l10-8l6-7l5-9l11-27l4-6l4-3l28-9l16-8l18-11l19-16zM170 424l2-1l2 1l13 12l9 6l8 3l12 3l-35 0l-9-16l-2-8z" fill="#14ffeb"/>
<path d="M60 20l96 0l7 32l1 12l-1 8l-3 20l-5 20l-5 12l-6 6l-8 4l-8 2l-8 0l-12-4l-8-4l-12-8l-9-8l-11-13l-8-11l0-68zM383 20l5 0l0 53l-4-5l-2-4l-1-8l2-36zM387 336l1-1l0 113l-130 0l14-10l12-14l7-12l9-24l4-5l4-3l28-11l16-7l16-10l19-16z" fill="#09fff6"/>
<path d="M60 20l87 0l9 32l1 20l-2 16l-5 24l-3 8l-7 7l-8 3l-8 1l-8-2l-8-3l-10-6l-10-8l-14-16l-8-12l-6-11l0-53zM385 344l3-3l0 107l-118 0l10-10l8-10l7-12l9-22l4-6l8-6l24-10l16-8l16-10l13-10z" fill="#00fcff"/>
<path d="M61 20l75 0l7 16l4 12l4 20l-1 16l-3 16l-3 13l-5 7l-7 3l-4 1l-8 0l-8-3l-14-9l-9-8l-6-8l-10-16l-8-20l-4-20l0-20zM388 348l0 100l-108 0l8-10l7-10l13-29l5-7l5-4l6-3l24-11l12-7l16-10l12-9z" fill="#00f1ff"/>
<path d="M80 20l40 0l12 17l8 20l3 19l-1 12l-2 13l-4 10l-4 3l-4 1l-8 0l-12-5l-12-11l-11-15l-7-16l-3-16l0-16l2-8l3-8zM385 356l3-2l0 94l-100 0l11-16l13-26l7-10l11-8l34-18l21-14z" fill="#00e5ff"/>
<path d="M101 40l3-1l4 0l8 5l8 9l4 8l3 11l0 12l-2 12l-5 5l-4 0l-4-1l-8-5l-8-10l-5-9l-3-12l0-8l2-8l2-4l5-4zM383 364l5-4l0 88l-92 0l8-13l12-23l9-12l11-8l28-16l19-12z" fill="#00daff"/>
<path d="M386 368l2-1l0 81l-85 0l19-32l9-12l10-8l45-28z" fill="#00cfff"/>
<path d="M384 376l4-3l0 75l-77 0l16-28l10-12l11-9l36-23z" fill="#00c3ff"/>
<path d="M388 380l0 68l-69 0l13-22l12-14l14-12l30-20z" fill="#00b8ff"/>
<path d="M387 388l1-1l0 61l-61 0l13-20l10-12l14-12l23-16z" fill="#00adff"/>
<path d="M386 396l2-1l0 53l-52 0l10-16l10-11l12-11l18-14z" fill="#00a2ff"/>
<path d="M387 404l1-1l0 45l-43 0l8-12l10-12l24-20z" fill="#0096ff"/>
<path d="M388 412l0 36l-34 0l14-18l20-18z" fill="#008bff"/>
<path d="M385 424l3-3l0 27l-24 0l10-12l11-12z" fill="#0080ff"/>
<path d="M384 436l4-4l0 16l-14 0l10-12z" fill="#0074ff"/>
<path d="M388 444l0 4l-3 0l3-4z" fill="#0069ff"/>
<g fill="none" stroke="#000" stroke-width="0.9">
<path d="M65 448l9-40l1-16l-2-12l-2-12l-5-12l-6-13"/>
<path d="M256 208l-5 4l-3 4l-1 4l0 8l2 8l12 20l3 4l4 3l20 7l10 10l6 1l4-1l4-4l1-4l3-11l0-5l-3-16l-5-10l-6-6l-5-4l-17-9l-9-3l-7-1l-8 1M80 448l8-48l0-20l-1-16l-3-12l-3-8l-21-40"/>
<path d="M256 192l-12 3l-8 4l-7 5l-7 8l-3 4l-2 8l-1 28l-2 12l-3 4l-11 6l-4 4l-1 2l-1 4l2 4l8 5l28 4l8 0l16-2l8 0l32 7l8-1l8-3l8-7l5-11l4-28l7-24l0-8l-1-4l-2-4l-5-4l-11-4l-41-11l-12-1l-8 0M93 448l10-84l0-12l-2-8l-2-8l-15-28l-7-16l-12-40l-5-12"/>
<path d="M244 179l-12 4l-30 13l-7 4l-4 4l-2 8l2 24l-2 12l-6 12l-12 16l-4 8l-3 12l3 8l5 5l6 3l6 1l8 0l20-4l12-1l36 2l28 8l8 1l8 0l8-3l12-8l7-8l4-8l3-12l0-16l1-4l5-9l15-19l6-12l1-12l-2-8l-4-6l-4-4l-4-3l-8-3l-12-1l-32 0l-40-5l-16 1M107 448l1-28l2-24l3-16l7-20l2-8l1-12l0-8l-5-12l-14-20l-6-20l-4-24l0-12l2-16l-1-8l-1-4l-6-5l-28-15"/>
<path d="M248 23l-8 5l-4 3l-8 11l-8 19l-4 19l0 12l3 12l9 15l8 8l4-1l4-4l12-18l16-32l3-8l2-8l0-8l-2-8l-3-8l-4-4l-8-5l-4-1l-8 1M388 187l-4-7l-8-8l-8-5l-9-3l-11-2l-8 0l-36 6l-20 0l-20-6l-12-6l-12-8l-4 0l-10 12l-10 8l-8 5l-20 6l-8 4l-8 5l-7 8l-2 4l0 4l0 4l9 24l1 8l-1 8l-4 8l-8 10l-8 5l-8 2l-4 0l-8-3l-8-5l-4-5l-2-8l-1-8l2-8l14-28l1-4l-1-4l-2-4l-11-6l-36-10l-24-10M120 448l0-36l2-24l4-12l6-11l4-6l8-9l4-3l8-4l20-3l8-2l12-7l16-11l4-2l8-2l16 1l12 2l28 13l12 3l12 0l12-3l17-12l11-12l7-12l8-24l4-8l18-24l7-13"/>
<path d="M206 20l-5 24l-6 52l0 16l5 15l0 5l-3 8l-6 8l-12 8l-19 9l-12 4l-16 1l-16-2l-20-5l-17-7l-19-11M388 149l-16-6l-16-1l-16 2l-32 7l-16 1l-8-1l-5-3l-3-4l-2-4l-2-8l0-8l2-8l7-20l17-32l5-12l4-16l1-16M144 236l4-1l4 2l2 3l1 4l-1 4l-2 4l-4 2l-4 0l-4-2l-2-4l0-4l1-4l5-4M252 370l-3 2l-1 4l0 1l4 1l2-2l1-4l-3-2M136 448l-4-28l0-24l2-8l3-8l5-8l6-4l8-3l8 1l8 4l8 8l4 2l4 0l4-2l2-2l3-4l3-20l4-8l4-8l8-9l5-3l7-2l12 2l9 4l9 8l10 15l4 2l8 1l16-2l12-2l12-4l8-3l10-7l10-8l8-8l13-16l19-30"/>
<path d="M177 20l2 40l-1 16l-5 20l-8 28l-4 8l-7 8l-6 5l-12 4l-12 1l-12-2l-12-4l-14-8l-12-8l-14-12M388 115l-12-2l-12 2l-12 2l-24 8l-12 3l-8 0l-4-2l-3-2l-3-4l-1-8l3-12l8-12l18-20l12-16l7-16l4-16M224 332l4-2l4 0l4 2l4 4l1 4l0 4l-2 4l-3 3l-4 1l-4 1l-4-1l-3-4l-2-4l1-4l1-4l3-4M159 448l-7-20l-3-20l-1-12l2-8l2-3l4 0l4 3l8 8l8 7l24 15l12 7l12 4l8 1l8 0l8-1l12-5l12-10l7-10l9-24l7-8l9-4l28-9l16-9l20-14l20-21"/>
<path d="M136 20l8 18l5 18l2 12l-1 16l-3 20l-5 12l-2 3l-4 3l-4 1l-8 1l-12-3l-12-7l-12-12l-11-14l-8-16l-5-16l-3-20l0-16M280 448l8-10l7-10l13-29l5-7l5-4l6-3l24-11l12-7l16-10l12-9"/>
<path d="M319 448l13-22l12-14l14-12l30-20"/>
<path d="M364 448l10-12l14-15"/>
</g>
</g>
<g style="font-family:&quot;Liberation Sans&quot;,sans-serif;font-weight:bold;font-size:11px" text-anchor="middle">
<text transform="translate(179,68) rotate(-85)" y="4">300</text>
<text transform="translate(141,119) rotate(-48)" y="4">325</text>
<text transform="translate(201,127) rotate(80)" y="4">275</text>
<text transform="translate(235,140) rotate(-76)" y="4">250</text>
<text transform="translate(282,151) rotate(25)" y="4">275</text>
<text transform="translate(211,172) rotate(-26)" y="4">250</text>
<text transform="translate(250,179) rotate(-6)" y="4">225</text>
<text transform="translate(300,200) rotate(15)" y="4">200</text>
<text transform="translate(258,206) rotate(-13)" y="4">175</text>
<text transform="translate(190,204) rotate(-60)" y="4">225</text>
<text transform="translate(316,259) rotate(-87)" y="4">175</text>
<text transform="translate(337,262) rotate(-80)" y="4">225</text>
<text transform="translate(147,255) rotate(-4)" y="4">275</text>
<text transform="translate(133,270) rotate(25)" y="4">250</text>
<text transform="translate(171,276) rotate(-55)" y="4">225</text>
<text transform="translate(213,268) rotate(-45)" y="4">200</text>
<text transform="translate(256,294) rotate(-3)" y="4">200</text>
<text transform="translate(235,310) rotate(2)" y="4">225</text>
<text transform="translate(203,327) rotate(-40)" y="4">250</text>
<text transform="translate(234,330) rotate(17)" y="4">300</text>
<text transform="translate(249,368) rotate(-38)" y="4">275</text>
<text transform="translate(313,334) rotate(-19)" y="4">250</text>
<text transform="translate(120,361) rotate(-73)" y="4">225</text>
<text transform="translate(152,383) rotate(-22)" y="4">300</text>
</g>
<path d="M264.9,35.3 L268.5,39.0 L274.5,50.7 L278.9,56.7 L286.3,74.4 L293.6,87.7 L305.5,103.9 L323.1,121.6 L326.1,128.9 L332.0,140.7 L345.3,161.4 L348.2,171.7 L352.6,179.1 L352.6,187.9 L357.2,206.0 L356.4,212.9 L352.9,223.2 L353.8,238.7 L350.4,252.5 L350.4,264.5 L352.9,267.9 L351.2,271.4 L354.7,274.8 L363.3,268.8 L365.0,273.1 L361.5,286.9 L358.1,302.3 L354.7,316.1 L349.5,323.0 L347.8,333.3 L339.2,345.3 L332.3,353.9 L323.7,359.1 L315.1,357.4 L304.8,357.4 L294.5,353.9 L285.9,350.5 L275.5,359.1 L268.7,364.3 L263.5,367.7 L251.5,368.6 L238.3,362.1 L222.6,368.6 L214.8,371.2 L204.3,372.5 L196.8,380.0 L191.6,387.0 L182.8,394.0 L168.9,399.2 L156.7,411.4 L142.7,414.9 L139.2,406.2 L128.7,421.9 L119.3,428.4 L115.2,424.3 L116.5,410.5 L123.4,399.4 L113.8,391.2 L108.3,382.9 L112.4,365.0 L111.0,353.9 L105.5,342.9 L108.3,333.3 L111.0,326.4 L114.6,321.6 L122.5,298.0 L134.3,290.1 L128.4,282.3 L138.2,274.4 L126.4,278.3 L128.4,270.5 L118.5,260.6 L120.5,246.9 L116.6,235.1 L110.7,239.0 L104.8,235.1 L100.8,219.4 L89.1,213.5 L85.1,203.6 L91.0,195.8 L99.9,191.8 L102.8,185.9 L112.6,189.9 L116.6,180.0 L122.5,184.0 L138.2,187.9 L150.0,192.8 L144.1,187.9 L142.1,178.1 L146.1,170.2 L138.2,168.3 L142.1,160.4 L136.2,155.5 L132.3,150.6 L126.4,138.8 L120.5,127.0 L105.8,125.0 L104.8,111.3 L110.7,108.3 L118.5,111.3 L132.3,105.4 L138.2,97.5 L142.1,85.7 L152.3,78.1 L158.8,69.9 L168.7,61.7 L181.8,60.9 L201.4,62.6 L222.7,60.9 L239.1,62.6 L247.3,60.9 L255.5,56.8 L260.4,50.3 L262.0,42.1Z" fill="none" stroke="#000" stroke-width="1"/>
<path d="M158,71 172,79 190,82 202,95 206,105 200,111 202,122 210,128 224,134 222,148 217,164M217,164 220,170 229,170 233,163 241,166 253,163 265,168 273,174 286,176 300,173 314,179 332,178 347,171M217,164 198,181 180,193 165,191 147,193 143,205M180,193 190,207 180,217 184,232 198,238 200,254 206,264 208,274M273,174 279,183 273,195 265,201 249,201 229,215 225,250 239,252 233,266 218,272 208,274M143,134 149,124 163,120 168,128 170,140 163,144 149,144 143,138 143,134M127,278 151,264 165,270 180,268 202,256M115,279 127,281 147,265 167,267 182,271 198,256 204,271 210,273 227,275M227,275 229,285 214,295 208,303 206,316 210,324M227,285 241,291 253,301 265,311 284,314 302,314 314,309 328,303 355,307M277,285 282,277 292,275 299,283 298,293 288,297 279,293 277,285M115,338 127,336 143,326 157,324 163,336 174,338 194,334 202,336 210,324M210,324 204,340 208,356 214,370M129,352 135,348 155,349 162,356 155,364 135,364 129,358 129,352M316,352 324,344 332,344 337,350 336,356" fill="none" stroke="#000" stroke-width="1.4" stroke-linejoin="round"/>
</g>
<g transform="translate(1150.1,607.8)">
<line x1="75.4" y1="0" x2="75.4" y2="458.5" stroke="#bdbdbd" stroke-width="1" stroke-dasharray="1.6,1.6"/>
<line x1="196.6" y1="0" x2="196.6" y2="458.5" stroke="#bdbdbd" stroke-width="1" stroke-dasharray="1.6,1.6"/>
<line x1="318.9" y1="0" x2="318.9" y2="458.5" stroke="#bdbdbd" stroke-width="1" stroke-dasharray="1.6,1.6"/>
<line x1="440.1" y1="0" x2="440.1" y2="458.5" stroke="#bdbdbd" stroke-width="1" stroke-dasharray="1.6,1.6"/>
<line x1="0" y1="138.2" x2="455.60000000000014" y2="138.2" stroke="#bdbdbd" stroke-width="1" stroke-dasharray="1.6,1.6"/>
<line x1="0" y1="275.1" x2="455.60000000000014" y2="275.1" stroke="#bdbdbd" stroke-width="1" stroke-dasharray="1.6,1.6"/>
<line x1="0" y1="411.6" x2="455.60000000000014" y2="411.6" stroke="#bdbdbd" stroke-width="1" stroke-dasharray="1.6,1.6"/>
<path d="M0 458.5H455.60000000000014V0" fill="none" stroke="#8a8a8a" stroke-width="1.6"/>
<path d="M0 0H455.60000000000014" fill="none" stroke="#808080" stroke-width="1.6"/>
<path d="M0 0V458.5" fill="none" stroke="#808080" stroke-width="1.6"/>
<g clip-path="url(#kc)">
<rect x="60" y="20" width="330" height="430" fill="#ff8b00"/>
<path d="M60 20l328 0l0 428l-328 0l0-55l1-9l-1-12l0-352z" fill="#ff9600"/>
<path d="M60 20l328 0l0 428l-328 0l0-46l3-10l2-8l-2-12l-3-12l0-340z" fill="#ffa200"/>
<path d="M60 20l328 0l0 428l-328 0l0-38l5-14l3-12l-2-16l-6-16l0-332z" fill="#ffad00"/>
<path d="M60 20l328 0l0 428l-328 0l0-32l9-24l2-12l-3-16l-8-19l0-325z" fill="#ffb800"/>
<path d="M60 20l328 0l0 428l-328 0l0-25l12-31l1-12l-1-12l-2-8l-5-12l-5-9l0-319z" fill="#ffc300"/>
<path d="M60 20l328 0l0 428l-328 0l0-19l15-37l1-12l-1-12l-3-12l-6-12l-6-11l0-313z" fill="#ffcf00"/>
<path d="M60 20l328 0l0 428l-328 0l0-11l17-45l1-12l-1-16l-4-12l-5-12l-8-13l0-307zM292 240l-4 2l-1 2l3 4l6 0l1-4l-1-2l-4-2z" fill="#ffda00"/>
<path d="M60 20l328 0l0 428l-328 0l0-3l5-17l14-36l2-12l-1-16l-3-12l-6-12l-11-19l0-301zM284 228l-4 1l-4 2l-4 5l-1 8l1 4l2 4l6 5l8 3l8 0l8-4l4-4l1-4l-2-8l-3-5l-4-3l-8-4l-8 0z" fill="#ffe500"/>
<path d="M60 20l328 0l0 428l-326 0l7-24l12-32l2-16l-1-16l-4-12l-5-12l-13-21l0-295zM272 224l-4 3l-3 5l-3 12l1 8l3 4l4 4l10 5l12 1l8-1l4-2l8-7l2-4l0-8l-3-8l-7-8l-8-4l-8-3l-8 0l-8 3z" fill="#fff100"/>
<path d="M60 20l328 0l0 428l-324 0l7-24l12-32l2-20l-1-16l-4-12l-6-12l-14-23l0-289zM276 216l-4 1l-6 3l-6 8l-3 8l-2 8l0 8l1 5l2 3l5 4l8 4l9 2l12 1l12-3l8-7l4-5l1-4l1-8l-3-8l-7-10l-8-5l-12-4l-12-1z" fill="#fffc00"/>
<path d="M60 20l328 0l0 428l-321 0l6-24l12-32l2-12l0-16l-1-12l-4-12l-22-37l0-283zM272 211l-4 1l-6 4l-6 8l-4 9l-4 15l-1 12l1 4l6 4l26 7l12 1l12-4l10-8l3-4l3-6l1-10l-1-5l-3-7l-6-8l-11-7l-15-5l-13-1z" fill="#f7ff08"/>
<path d="M60 20l328 0l0 428l-319 0l7-24l11-32l2-16l1-16l-2-12l-4-11l-24-41l0-276zM268 207l-4 2l-6 3l-6 8l-3 8l-9 28l-4 7l-9 13l0 4l1 1l4 0l12-5l8-1l32 5l12 0l8-4l4-2l8-8l4-6l4-12l-1-8l-3-9l-8-10l-8-6l-12-5l-12-3l-12 0z" fill="#ebff14"/>
<path d="M60 20l328 0l0 428l-317 0l7-24l11-36l3-20l0-12l-2-12l-3-8l-19-32l-8-15l0-269zM264 204l-8 4l-7 8l-4 8l-6 20l-3 8l-5 8l-11 12l-2 4l0 4l1 4l5 4l7 0l17-7l8-1l8 1l20 3l12 0l8-3l8-6l6-7l5-8l3-12l0-8l-5-12l-5-8l-8-6l-12-6l-20-4l-12 0z" fill="#e0ff1f"/>
<path d="M60 20l328 0l0 428l-314 0l6-24l11-36l4-24l0-12l-1-8l-3-8l-22-36l-9-20l0-260zM268 200l-8 1l-4 2l-8 7l-6 10l-6 20l-4 10l-4 6l-14 16l-2 4l0 4l1 4l7 6l4 1l4 1l20-6l8-2l8 1l20 4l12-1l8-3l8-6l6-7l5-8l5-12l1-8l-3-12l-7-12l-8-8l-11-5l-20-6l-12-1z" fill="#d5ff2a"/>
<path d="M60 20l328 0l0 428l-312 0l6-24l10-36l5-24l1-12l0-8l-3-8l-24-40l-11-26l0-250zM256 198l-8 5l-6 9l-4 8l-6 20l-3 8l-6 8l-12 12l-5 8l0 4l1 4l4 4l7 4l10 2l28-6l8 0l24 5l8-1l8-3l8-6l8-9l6-10l3-8l2-8l0-8l-2-8l-4-8l-5-7l-5-5l-7-5l-7-3l-29-7l-8 0l-8 1z" fill="#c9ff36"/>
<path d="M60 20l328 0l0 428l-310 0l5-24l16-56l2-12l1-8l-1-8l-4-8l-18-28l-8-16l-7-16l-4-16l0-236zM252 196l-6 4l-7 8l-4 8l-5 20l-3 8l-7 10l-18 18l-2 4l-1 4l2 4l4 4l7 4l12 4l8-1l24-4l8 1l24 5l8 0l8-3l8-7l8-9l6-10l4-8l2-8l1-8l-1-8l-4-12l-4-7l-5-5l-7-6l-8-4l-12-3l-24-5l-8 0l-8 2z" fill="#beff41"/>
<path d="M60 20l328 0l0 428l-307 0l5-28l17-60l2-8l0-8l-3-12l-19-28l-7-12l-5-12l-6-20l-5-31l0-209zM256 191l-4 1l-7 4l-8 8l-6 12l-5 20l-3 8l-7 9l-20 19l-4 8l0 4l4 4l8 4l20 5l8 0l24-3l8 1l16 5l8 2l8-1l4-1l8-4l8-8l8-12l5-8l3-9l3-11l-1-12l-2-9l-4-8l-5-7l-7-6l-8-5l-12-3l-24-6l-8-1l-8 0z" fill="#b3ff4c"/>
<path d="M60 20l328 0l0 428l-305 0l6-32l11-38l9-26l1-12l-2-8l-21-28l-7-12l-5-12l-6-20l-5-40l-1-8l-3-8l0-184zM260 188l-4 0l-8 2l-8 5l-5 5l-7 12l-5 24l-4 8l-7 9l-19 15l-8 8l-3 4l-1 4l1 4l8 4l34 7l28-2l8 0l20 8l8 1l8 0l8-3l8-6l4-5l8-11l5-9l3-8l4-12l1-8l-1-8l-2-8l-3-8l-3-5l-6-7l-11-8l-12-4l-39-8z" fill="#a7ff58"/>
<path d="M60 20l328 0l0 428l-303 0l4-24l5-20l9-28l11-28l2-8l0-4l-2-4l-2-4l-21-24l-7-12l-5-12l-4-12l-3-16l-2-40l-4-12l-6-9l0-171zM248 187l-9 5l-9 8l-6 12l-5 24l-4 8l-7 8l-21 16l-13 12l-2 4l-1 4l1 6l4 3l4 1l20-1l28 3l29 0l7 2l16 7l8 2l8 0l8-3l8-6l8-10l8-13l6-15l4-12l1-12l-2-12l-3-8l-5-8l-5-6l-8-6l-8-4l-48-10l-4-1l-8 2z" fill="#9cff63"/>
<path d="M60 20l328 0l0 428l-301 0l5-32l8-28l8-20l16-28l1-4l0-4l-2-4l-15-11l-9-9l-7-10l-7-14l-6-16l-2-16l-1-12l2-28l-1-8l-4-8l-13-15l0-161zM252 183l-13 5l-7 5l-7 7l-3 4l-3 8l-3 20l-4 11l-5 5l-31 24l-8 8l-5 12l-5 20l-2 4l0 4l9-8l11-6l12-4l8-2l8 0l20 2l20 0l12 1l8 3l16 8l12 2l12-2l8-6l4-4l8-13l8-15l7-20l1-12l0-8l-2-12l-4-8l-8-12l-6-4l-8-5l-48-11l-12-1z" fill="#91ff6e"/>
<path d="M60 20l328 0l0 428l-298 0l5-36l4-16l4-12l9-18l8-12l8-9l8-4l20-3l5-2l4-4l6-12l7-8l10-6l12-4l12 0l40 3l9 3l15 9l12 3l12-1l8-2l6-5l6-8l14-28l6-20l2-12l0-8l-2-12l-5-12l-7-9l-9-7l-11-4l-24-5l-24-6l-8 0l-8 2l-12 5l-5 4l-8 8l-5 8l-1 4l-2 20l-2 8l-4 4l-21 16l-16 15l-4 5l-12 18l-8 10l-8 6l-8 3l-8-1l-12-6l-8-7l-7-11l-6-12l-4-16l-2-20l2-12l4-24l-1-8l-6-8l-20-19l0-153z" fill="#85ff7a"/>
<path d="M60 20l169 0l7 2l4 0l7-2l141 0l0 428l-296 0l4-32l6-24l5-12l5-10l12-15l8-6l4-2l24-4l8-3l2-4l7-16l3-4l8-7l12-4l16-1l24 1l8 1l8 3l16 11l12 4l16 0l12-4l4-3l4-5l16-36l6-20l2-12l0-9l-3-15l-5-11l-7-9l-9-6l-12-5l-24-4l-24-6l-8-1l-9 2l-10 4l-7 4l-15 12l-2 4l-3 8l0 20l-2 5l-6 7l-32 28l-22 26l-12 8l-8 3l-8-1l-8-4l-8-8l-7-12l-5-16l-2-12l0-12l2-12l4-10l9-18l1-4l-1-4l-25-17l-16-13l0-146z" fill="#7aff85"/>
<path d="M60 20l153 0l7 7l8 5l8 3l4 0l8-2l4-3l10-10l126 0l0 428l-294 0l2-24l5-24l7-19l8-13l8-9l8-6l8-2l24-4l6-3l3-4l4-12l4-8l3-4l8-6l8-3l12-2l20 1l12 1l12 5l12 11l4 2l12 2l12 1l12-2l6-2l5-4l5-8l17-44l4-20l1-16l-3-12l-5-12l-6-8l-11-8l-10-4l-27-4l-24-7l-8-1l-12 2l-8 3l-14 7l-13 8l-8 8l-1 4l2 20l-2 8l-6 8l-46 46l-12 9l-8 3l-8 0l-4-1l-4-3l-8-11l-6-15l-3-16l0-12l3-12l6-10l8-9l15-13l1-4l-4-5l-24-8l-12-5l-12-8l-12-10l0-140z" fill="#6eff90"/>
<path d="M60 20l143 0l13 14l8 6l7 4l5 1l8-1l9-4l7-7l10-13l118 0l0 428l-292 0l3-28l3-20l6-15l8-13l8-9l8-6l4-2l8-2l20-3l8-2l4-5l5-15l4-8l3-4l8-5l8-3l8-1l16 0l12 1l11 4l5 4l12 12l8 2l16 1l12-1l12-2l4-2l4-5l3-5l15-44l5-24l1-16l-3-16l-4-8l-5-8l-10-8l-6-3l-8-3l-24-3l-28-8l-12-1l-12 2l-36 15l-8 1l-16 0l-16 7l-4 0l-16-5l-20-10l-28-8l-12-7l-8-5l-12-10l0-134zM153 204l3-2l4 0l20 12l4 4l4 6l1 8l-1 4l-5 8l-10 12l-29 27l-8 6l-8 4l-8 2l-4-1l-5-2l-7-8l-4-8l-2-8l-2-16l1-8l2-8l4-8l5-6l12-9l16-6l8-1l9-2z" fill="#63ff9c"/>
<path d="M60 20l134 0l26 27l8 5l8 1l8-1l12-6l10-10l11-16l111 0l0 428l-289 0l1-24l3-20l5-15l8-14l8-9l4-3l8-5l32-5l8-5l3-4l6-20l7-8l6-4l10-3l8-1l12 0l12 2l6 2l6 4l12 16l4 1l8 1l36-1l8-2l4-2l4-5l1-4l5-20l11-32l4-24l1-16l-4-16l-7-12l-3-4l-8-6l-12-5l-28-4l-28-8l-12-2l-12 2l-24 9l-12 3l-48 3l-12-2l-40-12l-12-6l-12-7l-16-13l0-128zM128 216l8-2l16-1l12 2l8 5l5 4l2 4l1 8l-3 8l-5 8l-7 8l-9 8l-12 10l-8 5l-8 3l-8 1l-4-1l-4-3l-4-5l-3-6l-4-12l0-12l4-12l5-8l10-8l8-4z" fill="#58ffa7"/>
<path d="M60 20l126 0l30 32l8 6l8 3l4 0l8-2l8-4l8-6l9-9l14-20l105 0l0 428l-287 0l1-24l2-20l4-12l8-14l8-9l4-3l8-5l8-2l21-3l11-4l4-5l5-15l3-8l4-5l8-6l8-3l12-1l12 1l9 2l8 4l4 4l7 15l4 3l56-3l4-1l4-2l4-8l5-24l10-32l4-24l1-16l-4-16l-6-12l-6-7l-4-3l-12-6l-8-2l-24-2l-28-9l-8-2l-8 0l-12 2l-20 6l-12 3l-40 3l-12 0l-12-3l-36-11l-12-5l-12-8l-16-14l0-122zM133 220l7-1l12 0l8 2l4 2l6 5l2 4l1 4l0 4l-1 4l-5 8l-7 8l-8 7l-12 8l-8 3l-8 1l-4 0l-4-2l-4-5l-4-8l-2-8l2-12l3-8l7-8l6-4l9-4z" fill="#4dffb2"/>
<path d="M60 20l119 0l41 43l8 5l4 0l12-4l12-6l8-6l10-12l15-20l99 0l0 428l-285 0l1-24l2-20l4-12l7-12l11-12l8-4l8-3l24-3l8-3l3-3l3-4l5-16l4-8l5-6l8-5l8-2l12-1l12 2l8 3l6 5l2 4l2 4l2 11l4 3l4 0l28-4l32 1l6-3l3-4l3-6l4-26l9-32l5-28l0-12l-3-16l-3-8l-5-8l-4-4l-7-6l-12-4l-32-4l-32-10l-12-2l-12 2l-16 4l-16 3l-36 4l-16 0l-16-3l-28-9l-12-6l-12-7l-12-10l-8-8l0-116zM137 224l11-1l8 2l4 2l5 5l2 4l0 8l-2 4l-5 8l-12 10l-12 5l-8 1l-4 0l-6-4l-5-8l-1-8l1-8l4-8l4-4l7-5l9-3z" fill="#41ffbe"/>
<path d="M60 20l111 0l17 16l32 35l4 3l4 2l4-1l8-3l25-16l11-12l19-24l93 0l0 428l-282 0l0-24l2-20l4-12l7-12l9-9l8-5l8-2l24-4l8-2l4-3l5-7l4-16l3-6l5-6l7-5l8-3l12-1l12 2l6 3l5 4l3 4l2 8l0 8l2 4l2 2l4 1l4-1l16-4l8-1l16 0l20 1l4 0l4-2l4-4l4-11l3-25l7-28l5-28l1-12l0-8l-4-16l-6-12l-6-7l-4-3l-12-6l-12-2l-24-1l-8-2l-24-9l-16-2l-8 0l-16 4l-28 5l-24 2l-16 0l-12-2l-24-7l-16-7l-12-7l-12-9l-12-14l0-109zM140 228l8 0l4 1l6 3l3 4l1 4l-1 8l-6 8l-7 5l-12 5l-8-1l-4-2l-3-3l-2-4l-1-4l2-8l4-8l4-3l4-3l8-2z" fill="#36ffc9"/>
<path d="M64 24l4-4l95 0l13 11l12 12l32 37l4 3l4 1l8-4l32-22l13-14l19-24l88 0l0 428l-280 0l0-24l1-20l3-8l8-14l10-10l10-5l32-6l8-3l5-6l8-24l6-8l7-4l10-3l8 0l8 1l8 2l5 4l3 4l2 8l0 12l2 4l4 2l8-1l12-4l12-2l16 0l24 2l4-1l4-3l4-5l3-8l2-28l8-28l4-28l2-12l-1-8l-3-16l-7-14l-8-9l-12-6l-12-2l-28-2l-8-2l-24-9l-12-3l-8-1l-8 1l-12 3l-40 7l-16 2l-12-1l-12-2l-20-6l-16-7l-12-7l-16-13l-12-15l0-93l4-5zM132 236l8-3l4-1l8 2l5 6l0 4l-1 4l-2 4l-6 5l-8 2l-8 0l-4-3l-2-4l-1-4l3-8l4-4z" fill="#2bffd4"/>
<path d="M72 24l4-4l79 0l17 13l16 16l17 19l15 21l4 3l4 0l4-2l16-14l24-18l13-14l20-24l83 0l0 428l-277 0l-1-24l1-20l3-8l7-12l7-8l5-4l7-3l8-2l24-3l8-3l4-3l4-6l4-16l3-8l5-6l8-5l8-3l12 0l8 2l6 4l4 4l1 4l1 18l4 5l4 2l8-1l16-5l8-2l16 0l24 3l4-1l6-3l6-8l2-8l2-28l6-24l6-32l1-12l0-8l-3-16l-3-8l-5-8l-6-7l-4-3l-12-6l-12-1l-20 0l-8-1l-8-2l-28-12l-12-3l-8 0l-12 1l-48 10l-12 2l-12-1l-12-2l-16-5l-15-6l-14-8l-11-8l-8-8l-6-8l-6-9l0-77l4-6l8-8zM137 240l7-2l4 1l2 1l2 4l-1 4l-3 3l-4 2l-4 0l-4-1l-3-4l1-4l3-4z" fill="#1fffe0"/>
<path d="M80 24l7-4l58 0l3 1l16 11l16 14l20 22l16 25l4 4l4 1l4 0l4-2l20-20l22-16l15-16l22-24l77 0l0 428l-275 0l-1-20l0-20l4-12l7-12l9-9l8-4l8-2l28-4l8-3l5-6l5-20l3-8l3-4l8-6l8-2l8-1l8 1l8 4l4 4l2 4l1 4l-1 12l2 7l4 4l4 1l8-1l12-5l12-3l16 0l24 3l8-1l6-5l5-8l3-8l1-28l12-60l0-20l-3-16l-4-8l-4-7l-9-9l-11-5l-12-2l-24 0l-8-1l-8-2l-20-9l-12-4l-12-4l-12-1l-12 2l-20 7l-16 4l-16 2l-16-1l-12-3l-16-5l-12-6l-12-7l-11-9l-7-8l-9-12l-5-11l0-56l8-13l12-12z" fill="#14ffeb"/>
<path d="M91 24l10-4l30 0l9 3l12 6l16 12l20 19l13 16l15 25l4 3l4 1l4-1l4-3l20-21l25-20l21-20l18-20l72 0l0 428l-272 0l-2-24l1-16l1-8l7-12l9-10l10-6l6-2l28-3l8-2l4-3l4-6l3-16l2-8l5-8l6-4l8-3l8-1l8 1l8 5l4 6l1 4l0 12l2 8l1 3l4 4l4 1l4-1l17-7l11-3l16-1l24 5l8-2l8-5l5-6l4-12l1-28l11-60l1-20l-3-16l-7-15l-8-9l-5-4l-7-3l-12-2l-28 1l-12-2l-36-16l-20-8l-8-2l-8 2l-16 9l-12 5l-12 3l-16 1l-12-1l-16-4l-18-7l-14-9l-14-11l-10-12l-8-16l-4-13l0-25l4-14l5-8l6-8l9-8l7-4z" fill="#09fff6"/>
<path d="M108 24l12-1l16 3l16 8l12 8l20 19l12 13l6 10l14 28l4 3l4-1l4-3l24-27l34-28l36-36l66 0l0 428l-269 0l-3-24l1-16l3-11l5-9l7-8l6-4l6-3l8-2l28-2l8-3l3-2l3-4l2-20l3-8l6-8l7-5l8-2l8 1l7 2l5 4l2 4l1 4l0 12l2 8l3 7l4 4l4 1l4-1l16-9l12-3l16-1l20 4l8 1l8-3l7-4l6-8l3-12l2-28l10-60l1-16l-2-16l-6-16l-8-12l-9-7l-8-3l-8-2l-32 2l-12-2l-42-20l-12-8l-10-9l-4 0l-4 2l-13 15l-11 7l-12 4l-16 2l-16 0l-16-4l-16-7l-16-11l-9-7l-7-8l-10-16l-5-16l-2-12l1-8l4-16l4-8l6-8l6-5l8-6l8-3l8-2z" fill="#00fcff"/>
<path d="M324 24l4-4l60 0l0 428l-266 0l-3-20l0-16l2-12l7-12l7-8l9-5l8-2l28-1l8-2l4-3l3-3l2-4l0-16l4-12l6-8l5-3l8-2l8 0l4 1l6 4l3 4l1 4l0 16l2 9l4 8l4 3l4 0l4-1l16-10l12-5l12 0l28 5l9-1l7-3l4-2l4-4l4-7l4-12l1-32l9-56l1-12l-1-20l-3-12l-4-8l-5-8l-6-6l-4-3l-8-3l-8-2l-8 0l-24 2l-8 0l-8-1l-7-3l-35-20l-8-8l-4-8l0-4l0-4l4-8l11-16l7-9l8-7l34-28l30-28zM248 396l-2 4l-1 4l1 4l2 4l4 3l4 1l4-2l4-6l1-4l-2-4l-3-4l-4-2l-4-1l-4 3zM99 32l9-3l12-1l12 2l12 4l8 5l12 8l16 15l12 13l6 9l4 8l5 12l2 12l-1 8l-6 12l-6 8l-4 4l-12 7l-12 3l-16 1l-12-2l-16-5l-16-8l-12-9l-12-12l-8-11l-5-12l-3-16l0-12l4-12l6-12l10-10l11-6z" fill="#00f1ff"/>
<path d="M330 24l4-4l54 0l0 428l-263 0l-3-20l-1-16l2-12l5-9l8-9l10-6l10-1l28-1l8-3l4-3l2-4l1-4l0-16l2-8l4-8l7-6l8-2l8 0l8 4l3 4l2 8l0 12l1 8l4 20l0 4l-8 16l-1 12l3 8l3 4l5 4l4 1l4 0l4-2l4-3l4-8l1-8l0-4l-12-16l-1-4l1-4l2-4l9-8l12-7l12-3l12 0l24 5l12-1l5-2l6-4l5-6l4-6l3-12l2-36l9-64l0-12l-2-12l-3-12l-4-8l-5-7l-5-5l-7-5l-8-3l-12-1l-32 4l-8-1l-8-2l-33-20l-7-8l-3-4l-1-8l1-8l3-8l8-12l7-8l8-8l45-36l22-20zM103 36l9-2l12-1l8 2l12 4l12 7l8 6l20 19l8 9l5 8l5 12l2 8l0 8l-2 8l-5 12l-5 7l-4 4l-12 6l-12 3l-16 0l-12-2l-15-6l-13-8l-12-9l-10-11l-8-12l-4-12l-2-12l1-12l4-12l7-11l8-7l11-6z" fill="#00e5ff"/>
<path d="M337 24l4-4l47 0l0 428l-260 0l-4-20l0-16l2-12l4-8l7-8l5-4l6-3l8-1l28 1l8-2l4-2l4-5l1-4l0-20l1-8l5-8l5-4l4-2l8-1l8 2l4 3l3 6l1 40l-9 24l-1 12l2 8l4 8l4 5l8 4l8 0l4-2l4-3l3-4l4-8l1-8l0-8l-8-12l-2-8l0-4l2-4l7-8l6-4l7-3l12-2l12 1l20 5l12-1l8-3l4-2l4-4l5-7l3-8l2-8l3-40l8-60l0-12l-1-12l-3-12l-5-10l-4-6l-8-8l-8-5l-8-2l-12-1l-32 6l-8-1l-8-3l-23-14l-10-8l-5-8l-2-8l1-8l3-8l7-12l7-8l10-9l50-39l19-16zM107 40l9-2l8 0l8 1l12 4l12 7l8 7l16 14l8 9l5 8l5 12l2 8l0 8l-2 8l-5 12l-3 4l-6 6l-12 6l-12 2l-12 0l-12-3l-16-6l-12-8l-10-9l-11-12l-4-8l-5-12l-1-12l1-12l4-12l6-8l8-7l11-5z" fill="#00daff"/>
<path d="M344 24l4-4l40 0l0 428l-256 0l-4-16l-2-16l2-12l5-12l7-8l8-5l8-1l32 2l8-1l4-3l3-4l1-4l-2-20l2-12l5-8l7-4l8-2l8 2l4 4l2 4l1 8l-3 28l-3 8l-7 12l-3 8l0 8l4 16l5 11l8 8l8 2l8 0l8-5l4-4l5-8l2-12l0-8l-3-8l-6-12l-1-4l1-4l1-4l8-8l9-5l12-2l12 1l20 5l12 0l8-3l7-4l5-5l5-7l3-8l2-8l2-44l7-48l1-12l0-12l-2-12l-3-12l-4-8l-5-8l-6-6l-8-5l-8-3l-8-1l-8 1l-32 6l-8-1l-4-1l-11-6l-18-12l-7-8l-3-4l-2-8l1-8l3-8l7-12l7-8l11-10l53-38l19-16zM111 44l9-1l8 0l12 3l8 4l16 11l16 14l7 9l5 8l3 8l2 8l0 8l-2 8l-3 8l-4 6l-6 6l-10 5l-12 2l-12 0l-12-2l-12-5l-12-8l-12-10l-9-10l-4-8l-5-12l-1-12l2-12l3-8l6-9l8-6l11-5z" fill="#00cfff"/>
<path d="M351 24l4-4l33 0l0 428l-131 0l7-4l4-4l6-8l3-8l1-8l-1-12l-7-16l-2-8l2-8l3-4l5-4l6-3l12-3l8 1l28 6l8 0l8-2l8-4l8-7l4-8l4-12l2-12l2-40l6-44l2-16l-1-12l-2-12l-4-12l-3-8l-6-8l-8-7l-8-5l-8-2l-8 0l-8 1l-24 6l-8 1l-8 0l-4-2l-15-8l-15-12l-5-8l-2-8l0-8l3-8l6-12l7-8l17-13l51-35l20-16zM115 48l9-1l8 1l8 2l8 4l16 11l13 11l7 8l5 8l3 8l1 8l1 8l-2 8l-3 8l-5 6l-4 4l-8 4l-12 3l-12 0l-12-3l-8-3l-12-7l-12-11l-8-9l-5-8l-5-12l-1-12l1-8l3-8l7-10l8-6l11-4zM219 324l9 0l4 2l4 4l2 6l-2 20l-4 12l-4 6l-12 10l-1 4l2 20l6 20l6 12l4 4l6 4l-103 0l-5-16l-2-16l2-12l5-12l8-8l8-4l44 4l8-1l4-3l1-4l-4-24l0-12l3-8l3-4l8-4z" fill="#00c3ff"/>
<path d="M359 24l4-4l25 0l0 428l-119 0l8-12l3-8l1-8l0-8l-2-8l-7-16l-1-8l2-8l3-4l8-6l12-2l12 1l24 7l12-1l8-2l8-5l4-4l6-8l5-12l2-12l2-40l7-52l1-20l-2-16l-5-16l-7-12l-9-10l-12-6l-12-2l-12 2l-28 8l-8 1l-4-1l-16-8l-15-12l-3-4l-4-8l-1-4l1-8l2-8l4-8l6-8l6-5l16-12l55-35l20-16zM120 52l12 0l8 2l8 4l8 5l16 13l11 12l6 12l2 8l0 8l-2 8l-4 8l-3 4l-6 5l-8 4l-12 2l-12-1l-8-2l-8-4l-12-8l-12-11l-7-9l-4-8l-3-12l0-8l2-10l6-10l6-6l8-4l8-2zM214 328l6-3l8 0l5 3l2 4l1 4l-1 12l-3 13l-4 6l-4 3l-4 2l-4-1l-4-4l-4-9l-1-6l-1-8l2-8l2-4l4-4zM149 384l3-1l8 0l16 2l20 5l5 2l3 3l5 9l9 32l6 12l-83 0l-5-13l-3-11l0-8l0-8l2-8l5-8l4-4l5-4z" fill="#00b8ff"/>
<path d="M367 24l4-4l17 0l0 172l-4-12l-5-12l-7-8l-4-4l-8-5l-8-3l-12-1l-12 2l-28 9l-8 1l-4-1l-12-6l-16-12l-5-8l-3-8l0-8l4-12l6-8l7-8l23-16l49-28l15-11l11-9zM110 60l6-2l8-2l8 0l8 2l8 4l8 5l21 17l7 12l3 8l1 8l-2 12l-4 8l-4 4l-6 4l-8 3l-8 1l-12-1l-8-2l-10-5l-10-8l-9-8l-6-8l-4-8l-2-8l-1-8l1-8l3-8l6-7l6-5zM388 244l0-2l0 206l-112 0l6-12l2-12l-2-16l-2-8l-6-12l-1-8l2-8l3-4l10-5l8-2l12 2l24 7l8 0l8-1l8-3l8-5l5-5l5-8l3-8l3-12l3-48l5-36zM217 328l7-2l4 1l4 2l2 3l1 4l-1 8l-3 12l-3 6l-4 3l-4 1l-4-1l-4-5l-4-12l0-8l2-4l2-4l5-4zM148 388l8-2l16 2l14 4l10 6l5 6l4 8l9 36l-68 0l-5-12l-3-8l-1-8l-1-8l2-8l2-6l4-6l4-4z" fill="#00adff"/>
<path d="M375 24l4-4l9 0l0 157l-7-13l-6-8l-10-8l-9-4l-8-1l-12 1l-12 3l-20 8l-12 2l-4-1l-8-3l-8-6l-9-7l-3-4l-4-8l-1-4l0-8l4-12l9-12l8-7l16-10l58-31l14-10l11-10zM113 64l11-3l8 0l8 1l8 3l8 5l17 14l8 12l3 8l1 8l-2 12l-3 6l-4 4l-8 5l-8 2l-8 0l-8 0l-8-3l-8-4l-8-6l-8-8l-7-8l-4-8l-2-8l-1-8l2-8l4-8l4-4l5-4zM388 268l0-2l0 182l-106 0l4-12l1-16l-2-12l-10-24l0-8l2-4l7-6l4-2l8-1l9 1l27 8l12 1l12-3l8-5l4-3l5-6l5-8l5-16l2-12l3-52zM220 328l4-1l4 1l4 3l2 5l-2 12l-3 8l-5 5l-4 1l-4-2l-4-5l-2-11l2-9l4-5l4-2zM150 392l6-2l4-1l12 2l11 5l9 7l5 9l3 8l3 28l-50 0l-5-9l-4-9l-3-14l0-8l3-8l6-8z" fill="#00a2ff"/>
<path d="M384 24l4-4l0 146l-6-10l-8-8l-10-6l-8-2l-8-1l-12 2l-12 3l-20 9l-12 2l-4-1l-8-3l-14-11l-3-4l-5-8l-1-4l0-8l4-12l10-12l9-7l16-10l43-19l15-8l14-10l16-14zM116 68l4-2l8-1l8 0l8 2l12 7l16 13l4 5l4 8l2 12l-2 12l-2 4l-3 4l-7 4l-8 2l-8 1l-8-1l-8-2l-7-4l-5-4l-8-8l-9-12l-4-8l-1-8l1-8l4-8l3-4l6-4zM388 324l0-2l0 126l-100 0l2-12l1-12l-4-16l-10-24l1-8l2-4l4-4l4-2l8-1l12 2l20 7l8 2l12 0l11-4l12-8l9-12l5-12l3-16zM217 332l7-3l4 1l3 2l1 4l-1 8l-3 9l-4 4l-4 1l-4-2l-4-8l0-8l2-4l3-4zM154 396l6-2l12 2l7 4l7 8l4 8l2 12l-1 12l-3 8l-23 0l-5-4l-6-8l-6-12l-2-12l2-8l2-4l4-4z" fill="#0096ff"/>
<path d="M385 32l3-3l0 127l-6-8l-6-5l-8-5l-8-2l-8-1l-12 1l-16 6l-20 9l-12 2l-4-1l-9-4l-7-5l-7-7l-4-8l-2-4l0-8l4-12l5-6l6-6l10-7l16-9l42-16l14-7l15-9l14-12zM118 72l10-3l12 1l12 4l8 6l8 6l7 10l4 12l-1 12l-4 8l-5 4l-5 2l-8 2l-8 0l-12-3l-8-5l-5-4l-7-8l-6-8l-3-12l0-8l1-4l4-7l6-5zM220 332l4-1l4 0l3 5l-1 4l-2 8l-4 5l-4 1l-4-3l-2-7l2-8l4-4zM387 344l1-3l0 107l-95 0l2-16l-2-12l-3-12l-8-16l-3-8l1-8l2-4l6-4l4-1l8 0l8 2l24 9l12 1l8-1l12-4l8-6l10-12l5-12zM162 404l2-1l5 1l5 4l3 4l3 7l0 5l-1 4l-3 5l-4 1l-4 0l-4-2l-6-8l-2-5l0-7l1-4l5-4z" fill="#008bff"/>
<path d="M387 40l1-1l0 107l-6-6l-6-5l-8-3l-8-2l-8 0l-12 3l-20 7l-16 8l-8 3l-4 0l-8-3l-8-4l-8-8l-5-8l-1-4l0-8l4-12l6-8l4-4l12-7l16-8l43-13l13-5l12-7l15-12zM121 76l7-3l4 0l12 1l12 6l10 8l6 8l4 12l0 8l-1 4l-2 4l-3 4l-10 4l-8 1l-8-1l-12-4l-9-8l-9-12l-3-12l1-8l1-4l3-4l5-4zM219 336l5-3l4 1l1 2l-1 6l-4 6l-4 1l-3-5l0-4l2-4zM388 352l0 96l-90 0l1-16l-2-12l-3-8l-10-20l-3-8l-1-4l2-4l2-3l4-3l4-1l8-1l8 3l24 10l12 2l8-1l12-4l9-6l7-8l8-12z" fill="#0080ff"/>
<path d="M384 52l4-3l0 88l-8-7l-8-4l-8-2l-8 0l-8 2l-12 4l-32 16l-8 2l-4 0l-4 0l-8-4l-8-6l-5-6l-3-8l0-4l0-8l4-8l3-4l9-8l12-7l16-6l12-3l28-6l12-3l12-6l12-9zM124 80l8-3l12 1l12 5l8 7l4 5l3 5l2 8l0 8l-4 8l-5 4l-4 1l-12 1l-12-3l-9-7l-7-8l-2-4l-3-8l0-8l2-4l2-4l5-4zM222 340l2-3l0 4l-2-1zM388 360l0 88l-85 0l1-12l-2-12l-4-12l-14-24l-2-8l2-4l4-4l4-2l8 0l8 3l24 11l8 2l12 0l12-4l8-5l8-7l8-10z" fill="#0074ff"/>
<path d="M384 64l4-4l0 66l-4-4l-8-4l-8-3l-8 1l-8 2l-8 4l-36 20l-12 4l-4 0l-8-2l-8-5l-6-7l-4-8l0-4l1-8l3-8l4-4l10-8l12-6l16-5l16-2l24-2l12-2l12-5l8-6zM126 84l6-2l4-1l8 1l8 3l10 7l6 8l2 8l-1 8l-2 4l-3 3l-8 4l-8 0l-12-4l-8-5l-7-10l-2-8l1-8l2-4l4-4zM387 368l1-1l0 81l-79 0l0-12l-2-12l-5-12l-16-24l-2-4l0-4l2-4l6-4l8 0l9 4l19 10l12 4l8 0l8-1l12-4l12-9l7-8z" fill="#0069ff"/>
<path d="M385 80l3-4l0 35l-11-11l-2-4l0-4l10-12zM313 84l15-1l12 2l10 3l8 4l3 4l-1 4l-4 4l-8 8l-16 12l-19 12l-9 5l-8 3l-4 0l-8-2l-8-6l-6-8l-2-8l1-8l1-4l6-8l8-6l16-7l13-3zM129 88l7-3l8 1l8 2l8 6l4 6l2 8l-2 8l-3 4l-5 3l-8 1l-8-2l-10-6l-3-4l-2-4l-2-8l1-4l2-4l3-4zM289 376l3-1l8 0l11 5l17 11l8 3l12 1l8-1l12-4l12-9l8-8l0 75l-74 0l0-16l-3-12l-7-12l-16-20l-1-4l-1-4l3-4z" fill="#005eff"/>
<path d="M308 88l16 0l11 4l5 4l1 4l0 4l-1 4l-2 4l-7 8l-10 8l-13 9l-12 4l-8 0l-4-2l-9-7l-4-8l-1-8l3-8l3-5l8-7l12-5l12-3zM133 92l7-2l4 0l8 2l5 4l3 4l2 8l-1 4l-3 4l-6 3l-4 1l-8-2l-8-5l-3-5l-1-8l1-4l4-4zM289 380l3-3l4 0l4 1l5 2l15 13l8 5l8 2l8 1l12-2l12-4l12-8l8-7l0 68l-68 0l0-16l-1-8l-3-8l-4-8l-20-19l-3-5l0-4z" fill="#0052ff"/>
<path d="M303 92l13 0l8 2l3 2l4 4l1 4l0 4l-1 4l-6 8l-14 12l-11 6l-8 1l-4-1l-8-4l-5-6l-3-8l1-8l5-8l6-5l8-4l11-3zM139 96l5-1l4 1l7 4l2 4l-1 4l-2 4l-6 2l-4 0l-4-1l-4-3l-1-2l-1-4l1-4l4-4zM294 384l2-3l4 2l2 1l2 4l0 1l-4 0l-4-2l-2-3zM386 388l2-2l0 62l-61 0l2-28l1-4l2-3l4-2l16-4l12-4l12-7l10-8z" fill="#0047ff"/>
<path d="M297 96l11-1l8 1l6 4l3 4l0 4l-2 8l-6 8l-5 4l-12 7l-8 1l-8-2l-4-3l-4-7l-1-8l2-8l4-4l7-5l9-3zM384 396l4-4l0 56l-54 0l5-20l5-7l7-5l21-11l12-9z" fill="#003cff"/>
<path d="M292 100l12-2l8 2l5 4l2 4l0 4l-1 4l-6 8l-8 6l-8 4l-8-1l-4-2l-4-4l-3-7l1-8l2-4l4-4l8-4zM387 400l1-1l0 49l-46 0l4-12l6-9l8-7l16-11l11-9z" fill="#0030ff"/>
<path d="M289 104l7-2l8 0l6 2l3 4l1 4l-3 8l-3 4l-8 5l-8 2l-4-1l-4-2l-4-6l-1-6l1-4l4-5l5-3zM386 408l2-1l0 41l-37 0l4-8l5-8l8-8l18-16z" fill="#0025ff"/>
<path d="M287 108l9-3l8 1l2 2l3 4l-1 4l-1 4l-4 4l-7 4l-4 0l-4-1l-4-4l-2-3l0-4l1-4l4-4zM386 416l2-1l0 33l-28 0l4-8l7-8l15-16z" fill="#001aff"/>
<path d="M287 112l5-3l4 0l4 1l2 2l1 4l-3 5l-4 3l-4 0l-4-2l-2-2l-1-4l2-4zM387 424l1-1l0 25l-19 0l8-12l10-12z" fill="#000eff"/>
<path d="M291 116l1-1l3 1l-3 1l-1-1zM386 436l2-2l0 14l-10 0l8-12z" fill="#0003ff"/>
<path d="M386 448l2-2l0 2l-2 0z" fill="#0000f6"/>
<g fill="none" stroke="#000" stroke-width="0.9">
<path d="M60 416l9-24l2-12l-3-16l-8-19"/>
<path d="M272 224l-4 3l-3 5l-3 12l1 8l3 4l4 4l10 5l12 1l8-1l4-2l8-7l2-4l0-8l-3-8l-7-8l-8-4l-8-3l-8 0l-8 3M62 448l7-24l12-32l2-16l-1-16l-4-12l-5-12l-13-21"/>
<path d="M268 200l-8 1l-4 2l-8 7l-6 10l-6 20l-4 10l-4 6l-14 16l-2 4l0 4l1 4l7 6l4 1l4 1l20-6l8-2l8 1l20 4l12-1l8-3l8-6l6-7l5-8l5-12l1-8l-3-12l-7-12l-8-8l-11-5l-20-6l-12-1M74 448l6-24l11-36l4-24l0-12l-1-8l-3-8l-22-36l-9-20"/>
<path d="M248 187l-9 5l-9 8l-6 12l-5 24l-4 8l-7 8l-21 16l-13 12l-2 4l-1 4l1 6l4 3l4 1l20-1l28 3l29 0l7 2l16 7l8 2l8 0l8-3l8-6l8-10l8-13l6-15l4-12l1-12l-2-12l-3-8l-5-8l-5-6l-8-6l-8-4l-48-10l-4-1l-8 2M85 448l4-24l5-20l9-28l11-28l2-8l0-4l-2-4l-2-4l-21-24l-7-12l-5-12l-4-12l-3-16l-2-40l-4-12l-6-9"/>
<path d="M203 20l13 14l8 6l7 4l5 1l8-1l9-4l7-7l10-13M153 204l3-2l4 0l20 12l4 4l4 6l1 8l-1 4l-5 8l-10 12l-29 27l-8 6l-8 4l-8 2l-4-1l-5-2l-7-8l-4-8l-2-8l-2-16l1-8l2-8l4-8l5-6l12-9l16-6l8-1l9-2M96 448l3-28l3-20l6-15l8-13l8-9l8-6l4-2l8-2l20-3l8-2l4-5l5-15l4-8l3-4l8-5l8-3l8-1l16 0l12 1l11 4l5 4l12 12l8 2l16 1l12-1l12-2l4-2l4-5l3-5l16-48l5-24l-1-16l-4-16l-7-12l-10-8l-6-3l-8-3l-24-3l-28-8l-12-1l-12 2l-36 15l-8 1l-16 0l-16 7l-4 0l-16-5l-20-10l-20-5l-12-5l-16-10l-12-10"/>
<path d="M163 20l13 11l12 12l32 37l4 3l4 1l8-4l32-22l13-14l19-24M60 29l8-9M132 236l8-3l4-1l8 2l5 6l0 4l-1 4l-2 4l-6 5l-8 2l-8 0l-4-3l-2-4l-1-4l3-8l4-4M108 448l0-24l1-20l3-8l8-14l10-10l10-5l32-6l8-3l5-6l8-24l6-8l7-4l10-3l8 0l8 1l8 2l5 4l3 4l2 8l0 12l2 4l4 2l8-1l12-4l12-2l16 0l24 2l4-1l4-3l4-5l3-8l2-28l8-28l5-32l1-12l-1-8l-4-16l-7-12l-9-8l-10-5l-12-2l-28-2l-8-2l-24-9l-16-3l-12 0l-12 3l-48 8l-16 0l-12-1l-28-8l-20-10l-17-13l-8-8l-7-10"/>
<path d="M99 32l9-3l12-1l12 2l12 4l8 5l12 8l16 15l12 13l6 9l4 8l5 12l2 12l-1 8l-6 12l-6 8l-4 4l-12 7l-12 3l-16 1l-12-2l-16-5l-16-8l-12-9l-12-12l-8-11l-5-12l-3-16l0-12l4-12l6-12l10-10l11-6M248 396l-2 4l-1 4l1 4l2 4l4 3l4 1l4-2l4-6l1-4l-2-4l-3-4l-4-2l-4-1l-4 3M122 448l-3-20l0-16l2-12l7-12l7-8l9-5l8-2l28-1l8-2l4-3l3-3l2-4l0-16l4-12l6-8l5-3l8-2l8 0l4 1l6 4l3 4l1 4l0 16l2 9l4 8l4 3l4 0l4-1l16-10l12-5l12 0l28 5l9-1l7-3l4-2l4-4l4-7l4-12l1-32l9-56l1-12l-1-20l-3-12l-4-8l-5-8l-6-6l-4-3l-8-3l-8-2l-8 0l-24 2l-8 0l-8-1l-7-3l-35-20l-8-8l-4-8l0-4l0-4l4-8l11-16l7-9l8-7l34-28l34-32"/>
<path d="M120 52l12 0l8 2l8 4l8 5l16 13l11 12l6 12l2 8l0 8l-2 8l-4 8l-3 4l-6 5l-8 4l-12 2l-12-1l-8-2l-8-4l-12-8l-12-11l-7-9l-4-8l-3-12l0-8l2-10l6-10l6-6l8-4l8-2M214 328l6-3l8 0l5 3l2 4l1 4l-1 12l-3 13l-4 6l-4 3l-4 2l-4-1l-4-4l-4-9l-1-6l-1-8l2-8l2-4l4-4M141 448l-5-13l-3-11l0-12l1-8l3-8l6-8l6-4l7-1l13 1l19 4l12 4l4 3l5 9l9 32l6 12M269 448l8-12l3-8l1-8l0-8l-2-8l-7-16l-1-8l2-8l3-4l8-6l12-2l12 1l24 7l12-1l8-2l8-5l4-4l6-8l5-12l2-12l2-40l7-52l1-20l-2-16l-5-16l-7-12l-9-10l-12-6l-12-2l-12 2l-28 8l-8 1l-4-1l-16-8l-15-12l-3-4l-4-8l-1-4l1-8l2-8l4-8l6-8l6-5l16-12l55-35l10-8l14-12"/>
<path d="M121 76l7-3l4 0l12 1l12 6l10 8l6 8l4 12l0 8l-1 4l-2 4l-3 4l-10 4l-8 1l-8-1l-12-4l-9-8l-9-12l-3-12l1-8l1-4l3-4l5-4M388 146l-8-8l-8-5l-8-2l-8-1l-8 1l-12 3l-36 16l-8 1l-4-1l-12-6l-8-8l-5-8l-2-8l1-8l4-8l6-8l8-7l12-6l12-6l43-13l13-5l16-10l12-10M219 336l5-3l4 1l1 2l-1 6l-4 6l-4 1l-3-5l0-4l2-4M298 448l1-16l-2-12l-3-8l-10-20l-3-8l-1-4l2-4l2-3l4-3l4-1l8-1l8 3l24 10l12 2l8-1l12-4l9-6l7-8l8-12"/>
<path d="M303 92l13 0l8 2l3 2l4 4l1 4l0 4l-1 4l-6 8l-14 12l-11 6l-8 1l-4-1l-8-4l-5-6l-3-8l1-8l5-8l6-5l8-4l11-3M139 96l5-1l4 1l7 4l2 4l-1 4l-2 4l-6 2l-4 0l-4-1l-4-3l-1-2l-1-4l1-4l4-4M294 384l2-3l4 2l2 1l2 4l0 1l-4 0l-4-2l-2-3M327 448l2-28l1-4l2-3l4-2l16-4l12-4l12-7l12-10"/>
<path d="M287 112l5-3l4 0l4 1l2 2l1 4l-3 5l-4 3l-4 0l-4-2l-2-2l-1-4l2-4M369 448l8-12l11-13"/>
</g>
</g>
<g style="font-family:&quot;Liberation Sans&quot;,sans-serif;font-weight:bold;font-size:11px" text-anchor="middle">
<text transform="translate(167,72) rotate(40)" y="4">350</text>
<text transform="translate(203,132) rotate(-64)" y="4">325</text>
<text transform="translate(267,59) rotate(-40)" y="4">300</text>
<text transform="translate(288,115) rotate(-74)" y="4">425</text>
<text transform="translate(290,96) rotate(-23)" y="4">400</text>
<text transform="translate(316,142) rotate(-27)" y="4">375</text>
<text transform="translate(290,161) rotate(10)" y="4">350</text>
<text transform="translate(265,157) rotate(30)" y="4">325</text>
<text transform="translate(218,164) rotate(-13)" y="4">300</text>
<text transform="translate(176,191) rotate(-8)" y="4">275</text>
<text transform="translate(144,208) rotate(-5)" y="4">275</text>
<text transform="translate(258,185) rotate(1)" y="4">250</text>
<text transform="translate(307,185) rotate(8)" y="4">275</text>
<text transform="translate(273,200) rotate(6)" y="4">225</text>
<text transform="translate(299,225) rotate(28)" y="4">200</text>
<text transform="translate(314,253) rotate(-68)" y="4">200</text>
<text transform="translate(329,246) rotate(-88)" y="4">225</text>
<text transform="translate(141,259) rotate(-9)" y="4">300</text>
<text transform="translate(173,280) rotate(-53)" y="4">250</text>
<text transform="translate(226,293) rotate(6)" y="4">225</text>
<text transform="translate(260,300) rotate(12)" y="4">250</text>
<text transform="translate(220,351) rotate(15)" y="4">375</text>
<text transform="translate(197,361) rotate(-79)" y="4">325</text>
<text transform="translate(248,344) rotate(83)" y="4">300</text>
<text transform="translate(294,330) rotate(-2)" y="4">275</text>
<text transform="translate(329,346) rotate(-12)" y="4">300</text>
<text transform="translate(175,346) rotate(-50)" y="4">275</text>
<text transform="translate(152,364) rotate(-7)" y="4">300</text>
<text transform="translate(175,372) rotate(-4)" y="4">325</text>
<text transform="translate(122,364) rotate(-45)" y="4">275</text>
</g>
<path d="M264.9,35.3 L268.5,39.0 L274.5,50.7 L278.9,56.7 L286.3,74.4 L293.6,87.7 L305.5,103.9 L323.1,121.6 L326.1,128.9 L332.0,140.7 L345.3,161.4 L348.2,171.7 L352.6,179.1 L352.6,187.9 L357.2,206.0 L356.4,212.9 L352.9,223.2 L353.8,238.7 L350.4,252.5 L350.4,264.5 L352.9,267.9 L351.2,271.4 L354.7,274.8 L363.3,268.8 L365.0,273.1 L361.5,286.9 L358.1,302.3 L354.7,316.1 L349.5,323.0 L347.8,333.3 L339.2,345.3 L332.3,353.9 L323.7,359.1 L315.1,357.4 L304.8,357.4 L294.5,353.9 L285.9,350.5 L275.5,359.1 L268.7,364.3 L263.5,367.7 L251.5,368.6 L238.3,362.1 L222.6,368.6 L214.8,371.2 L204.3,372.5 L196.8,380.0 L191.6,387.0 L182.8,394.0 L168.9,399.2 L156.7,411.4 L142.7,414.9 L139.2,406.2 L128.7,421.9 L119.3,428.4 L115.2,424.3 L116.5,410.5 L123.4,399.4 L113.8,391.2 L108.3,382.9 L112.4,365.0 L111.0,353.9 L105.5,342.9 L108.3,333.3 L111.0,326.4 L114.6,321.6 L122.5,298.0 L134.3,290.1 L128.4,282.3 L138.2,274.4 L126.4,278.3 L128.4,270.5 L118.5,260.6 L120.5,246.9 L116.6,235.1 L110.7,239.0 L104.8,235.1 L100.8,219.4 L89.1,213.5 L85.1,203.6 L91.0,195.8 L99.9,191.8 L102.8,185.9 L112.6,189.9 L116.6,180.0 L122.5,184.0 L138.2,187.9 L150.0,192.8 L144.1,187.9 L142.1,178.1 L146.1,170.2 L138.2,168.3 L142.1,160.4 L136.2,155.5 L132.3,150.6 L126.4,138.8 L120.5,127.0 L105.8,125.0 L104.8,111.3 L110.7,108.3 L118.5,111.3 L132.3,105.4 L138.2,97.5 L142.1,85.7 L152.3,78.1 L158.8,69.9 L168.7,61.7 L181.8,60.9 L201.4,62.6 L222.7,60.9 L239.1,62.6 L247.3,60.9 L255.5,56.8 L260.4,50.3 L262.0,42.1Z" fill="none" stroke="#000" stroke-width="1"/>
<path d="M158,71 172,79 190,82 202,95 206,105 200,111 202,122 210,128 224,134 222,148 217,164M217,164 220,170 229,170 233,163 241,166 253,163 265,168 273,174 286,176 300,173 314,179 332,178 347,171M217,164 198,181 180,193 165,191 147,193 143,205M180,193 190,207 180,217 184,232 198,238 200,254 206,264 208,274M273,174 279,183 273,195 265,201 249,201 229,215 225,250 239,252 233,266 218,272 208,274M143,134 149,124 163,120 168,128 170,140 163,144 149,144 143,138 143,134M127,278 151,264 165,270 180,268 202,256M115,279 127,281 147,265 167,267 182,271 198,256 204,271 210,273 227,275M227,275 229,285 214,295 208,303 206,316 210,324M227,285 241,291 253,301 265,311 284,314 302,314 314,309 328,303 355,307M277,285 282,277 292,275 299,283 298,293 288,297 279,293 277,285M115,338 127,336 143,326 157,324 163,336 174,338 194,334 202,336 210,324M210,324 204,340 208,356 214,370M129,352 135,348 155,349 162,356 155,364 135,364 129,358 129,352M316,352 324,344 332,344 337,350 336,356" fill="none" stroke="#000" stroke-width="1.4" stroke-linejoin="round"/>
</g>
<text transform="translate(133.6,376.8) rotate(-90)" style="font-family:&quot;Liberation Serif&quot;,serif;font-size:23px">Latitude <tspan style="font-size:15px" dy="-9">o</tspan><tspan dy="9">N</tspan></text>
<text x="144" y="243.0" style="font-family:&quot;Liberation Serif&quot;,serif;font-weight:bold;font-size:19.5px">38</text><text x="163" y="228.5" style="font-family:&quot;Liberation Serif&quot;,serif;font-size:9.5px">o</text>
<path d="M174 230.0h2.5v13.2h-3" fill="none" stroke="#666" stroke-width="1.1"/>
<text x="144" y="379.90000000000003" style="font-family:&quot;Liberation Serif&quot;,serif;font-weight:bold;font-size:19.5px">36</text><text x="163" y="365.40000000000003" style="font-family:&quot;Liberation Serif&quot;,serif;font-size:9.5px">o</text>
<path d="M174 366.90000000000003h2.5v13.2h-3" fill="none" stroke="#666" stroke-width="1.1"/>
<text x="144" y="516.4000000000001" style="font-family:&quot;Liberation Serif&quot;,serif;font-weight:bold;font-size:19.5px">35</text><text x="163" y="501.90000000000003" style="font-family:&quot;Liberation Serif&quot;,serif;font-size:9.5px">o</text>
<path d="M174 503.40000000000003h2.5v13.2h-3" fill="none" stroke="#666" stroke-width="1.1"/>
<text transform="translate(133.6,890.3) rotate(-90)" style="font-family:&quot;Liberation Serif&quot;,serif;font-size:23px">Latitude <tspan style="font-size:15px" dy="-9">o</tspan><tspan dy="9">N</tspan></text>
<text x="144" y="756.5" style="font-family:&quot;Liberation Serif&quot;,serif;font-weight:bold;font-size:19.5px">38</text><text x="163" y="742.0" style="font-family:&quot;Liberation Serif&quot;,serif;font-size:9.5px">o</text>
<path d="M174 743.5h2.5v13.2h-3" fill="none" stroke="#666" stroke-width="1.1"/>
<text x="144" y="893.4" style="font-family:&quot;Liberation Serif&quot;,serif;font-weight:bold;font-size:19.5px">36</text><text x="163" y="878.9" style="font-family:&quot;Liberation Serif&quot;,serif;font-size:9.5px">o</text>
<path d="M174 880.4h2.5v13.2h-3" fill="none" stroke="#666" stroke-width="1.1"/>
<text x="144" y="1029.9" style="font-family:&quot;Liberation Serif&quot;,serif;font-weight:bold;font-size:19.5px">35</text><text x="163" y="1015.4" style="font-family:&quot;Liberation Serif&quot;,serif;font-size:9.5px">o</text>
<path d="M174 1016.9h2.5v13.2h-3" fill="none" stroke="#666" stroke-width="1.1"/>
<text x="249.1" y="1111.7" style="font-family:&quot;Liberation Serif&quot;,serif;font-weight:bold;font-size:19px">126</text><text x="276.7" y="1098" style="font-family:&quot;Liberation Serif&quot;,serif;font-size:9.5px">o</text><text x="287.2" y="1111.7" style="font-family:&quot;Liberation Serif&quot;,serif;font-weight:bold;font-size:19px">E</text>
<text x="370.3" y="1111.7" style="font-family:&quot;Liberation Serif&quot;,serif;font-weight:bold;font-size:19px">128</text><text x="397.9" y="1098" style="font-family:&quot;Liberation Serif&quot;,serif;font-size:9.5px">o</text><text x="408.4" y="1111.7" style="font-family:&quot;Liberation Serif&quot;,serif;font-weight:bold;font-size:19px">E</text>
<text x="492.6" y="1111.7" style="font-family:&quot;Liberation Serif&quot;,serif;font-weight:bold;font-size:19px">129</text><text x="520.2" y="1098" style="font-family:&quot;Liberation Serif&quot;,serif;font-size:9.5px">o</text><text x="530.7" y="1111.7" style="font-family:&quot;Liberation Serif&quot;,serif;font-weight:bold;font-size:19px">E</text>
<text x="613.8" y="1111.7" style="font-family:&quot;Liberation Serif&quot;,serif;font-weight:bold;font-size:19px">131</text><text x="641.4" y="1098" style="font-family:&quot;Liberation Serif&quot;,serif;font-size:9.5px">o</text><text x="651.9" y="1111.7" style="font-family:&quot;Liberation Serif&quot;,serif;font-weight:bold;font-size:19px">E</text>
<text x="362.9" y="1151" style="font-family:&quot;Liberation Serif&quot;,serif;font-size:23px">Longitude <tspan style="font-size:15px" dy="-9">o</tspan><tspan dy="9">E</tspan></text>
<text x="727.2" y="1111.7" style="font-family:&quot;Liberation Serif&quot;,serif;font-weight:bold;font-size:19px">126</text><text x="754.8" y="1098" style="font-family:&quot;Liberation Serif&quot;,serif;font-size:9.5px">o</text><text x="765.3" y="1111.7" style="font-family:&quot;Liberation Serif&quot;,serif;font-weight:bold;font-size:19px">E</text>
<text x="848.4" y="1111.7" style="font-family:&quot;Liberation Serif&quot;,serif;font-weight:bold;font-size:19px">128</text><text x="876.0" y="1098" style="font-family:&quot;Liberation Serif&quot;,serif;font-size:9.5px">o</text><text x="886.5" y="1111.7" style="font-family:&quot;Liberation Serif&quot;,serif;font-weight:bold;font-size:19px">E</text>
<text x="970.7" y="1111.7" style="font-family:&quot;Liberation Serif&quot;,serif;font-weight:bold;font-size:19px">129</text><text x="998.3" y="1098" style="font-family:&quot;Liberation Serif&quot;,serif;font-size:9.5px">o</text><text x="1008.8" y="1111.7" style="font-family:&quot;Liberation Serif&quot;,serif;font-weight:bold;font-size:19px">E</text>
<text x="1091.9" y="1111.7" style="font-family:&quot;Liberation Serif&quot;,serif;font-weight:bold;font-size:19px">131</text><text x="1119.5" y="1098" style="font-family:&quot;Liberation Serif&quot;,serif;font-size:9.5px">o</text><text x="1130.0" y="1111.7" style="font-family:&quot;Liberation Serif&quot;,serif;font-weight:bold;font-size:19px">E</text>
<text x="841.0" y="1151" style="font-family:&quot;Liberation Serif&quot;,serif;font-size:23px">Longitude <tspan style="font-size:15px" dy="-9">o</tspan><tspan dy="9">E</tspan></text>
<text x="1202.7" y="1111.7" style="font-family:&quot;Liberation Serif&quot;,serif;font-weight:bold;font-size:19px">126</text><text x="1230.3" y="1098" style="font-family:&quot;Liberation Serif&quot;,serif;font-size:9.5px">o</text><text x="1240.8" y="1111.7" style="font-family:&quot;Liberation Serif&quot;,serif;font-weight:bold;font-size:19px">E</text>
<text x="1323.9" y="1111.7" style="font-family:&quot;Liberation Serif&quot;,serif;font-weight:bold;font-size:19px">128</text><text x="1351.5" y="1098" style="font-family:&quot;Liberation Serif&quot;,serif;font-size:9.5px">o</text><text x="1362.0" y="1111.7" style="font-family:&quot;Liberation Serif&quot;,serif;font-weight:bold;font-size:19px">E</text>
<text x="1446.2" y="1111.7" style="font-family:&quot;Liberation Serif&quot;,serif;font-weight:bold;font-size:19px">129</text><text x="1473.8" y="1098" style="font-family:&quot;Liberation Serif&quot;,serif;font-size:9.5px">o</text><text x="1484.3" y="1111.7" style="font-family:&quot;Liberation Serif&quot;,serif;font-weight:bold;font-size:19px">E</text>
<text x="1567.4" y="1111.7" style="font-family:&quot;Liberation Serif&quot;,serif;font-weight:bold;font-size:19px">131</text><text x="1595.0" y="1098" style="font-family:&quot;Liberation Serif&quot;,serif;font-size:9.5px">o</text><text x="1605.5" y="1111.7" style="font-family:&quot;Liberation Serif&quot;,serif;font-weight:bold;font-size:19px">E</text>
<text x="1316.9" y="1151" style="font-family:&quot;Liberation Serif&quot;,serif;font-size:23px">Longitude <tspan style="font-size:15px" dy="-9">o</tspan><tspan dy="9">E</tspan></text>
<rect x="1641.5" y="99.2" width="33" height="965.4" fill="url(#cb)" stroke="#262626" stroke-width="1.2"/>
<line x1="1665.5" y1="1043.2" x2="1674.5" y2="1043.2" stroke="#262626" stroke-width="1.2"/>
<text x="1684.5" y="1053.8" style="font-family:&quot;Liberation Sans&quot;,sans-serif;font-weight:bold;font-size:26px;letter-spacing:0.4px" fill="#262626">50</text>
<line x1="1665.5" y1="935.9" x2="1674.5" y2="935.9" stroke="#262626" stroke-width="1.2"/>
<text x="1684.5" y="946.5" style="font-family:&quot;Liberation Sans&quot;,sans-serif;font-weight:bold;font-size:26px;letter-spacing:0.4px" fill="#262626">100</text>
<line x1="1665.5" y1="828.6" x2="1674.5" y2="828.6" stroke="#262626" stroke-width="1.2"/>
<text x="1684.5" y="839.2" style="font-family:&quot;Liberation Sans&quot;,sans-serif;font-weight:bold;font-size:26px;letter-spacing:0.4px" fill="#262626">150</text>
<line x1="1665.5" y1="721.3" x2="1674.5" y2="721.3" stroke="#262626" stroke-width="1.2"/>
<text x="1684.5" y="731.9" style="font-family:&quot;Liberation Sans&quot;,sans-serif;font-weight:bold;font-size:26px;letter-spacing:0.4px" fill="#262626">200</text>
<line x1="1665.5" y1="614.0" x2="1674.5" y2="614.0" stroke="#262626" stroke-width="1.2"/>
<text x="1684.5" y="624.6" style="font-family:&quot;Liberation Sans&quot;,sans-serif;font-weight:bold;font-size:26px;letter-spacing:0.4px" fill="#262626">250</text>
<line x1="1665.5" y1="506.7" x2="1674.5" y2="506.7" stroke="#262626" stroke-width="1.2"/>
<text x="1684.5" y="517.3" style="font-family:&quot;Liberation Sans&quot;,sans-serif;font-weight:bold;font-size:26px;letter-spacing:0.4px" fill="#262626">300</text>
<line x1="1665.5" y1="399.3" x2="1674.5" y2="399.3" stroke="#262626" stroke-width="1.2"/>
<text x="1684.5" y="409.9" style="font-family:&quot;Liberation Sans&quot;,sans-serif;font-weight:bold;font-size:26px;letter-spacing:0.4px" fill="#262626">350</text>
<line x1="1665.5" y1="292.0" x2="1674.5" y2="292.0" stroke="#262626" stroke-width="1.2"/>
<text x="1684.5" y="302.6" style="font-family:&quot;Liberation Sans&quot;,sans-serif;font-weight:bold;font-size:26px;letter-spacing:0.4px" fill="#262626">400</text>
<line x1="1665.5" y1="184.7" x2="1674.5" y2="184.7" stroke="#262626" stroke-width="1.2"/>
<text x="1684.5" y="195.3" style="font-family:&quot;Liberation Sans&quot;,sans-serif;font-weight:bold;font-size:26px;letter-spacing:0.4px" fill="#262626">450</text>
<text x="695.5" y="1209" style="font-family:&quot;Liberation Sans&quot;,sans-serif;font-size:32px;letter-spacing:0.18px" stroke="#fff" stroke-width="0.5">Return Period : 50 years</text>
</svg>
</body></html>
